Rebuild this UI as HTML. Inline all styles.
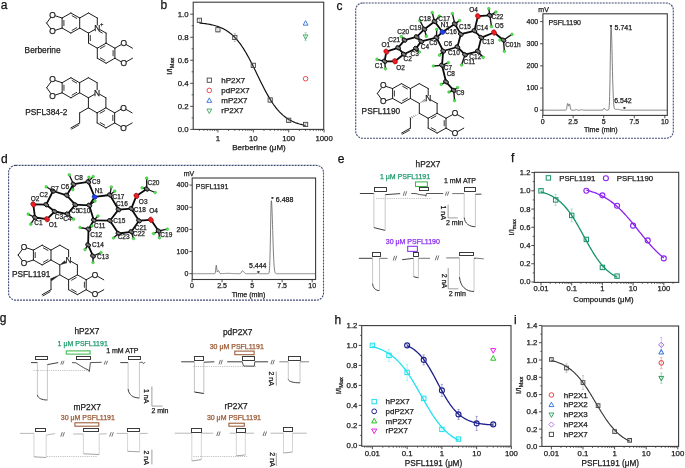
<!DOCTYPE html>
<html><head><meta charset="utf-8"><style>html,body{margin:0;padding:0;background:#fff;width:685px;height:468px;overflow:hidden}svg{display:block;will-change:transform;font-family:"Liberation Sans",sans-serif}text{font-family:"Liberation Sans",sans-serif}</style></head><body>
<svg width="685" height="468" viewBox="0 0 685 468" font-family="Liberation Sans, sans-serif">
<rect width="685" height="468" fill="#fff"/>
<text x="0.8" y="9.3" font-size="12" text-anchor="start" fill="#111" stroke="#111" stroke-width="0.25">a</text>
<text x="160.6" y="9" font-size="12" text-anchor="start" fill="#111" stroke="#111" stroke-width="0.25">b</text>
<text x="336.4" y="9.5" font-size="12" text-anchor="start" fill="#111" stroke="#111" stroke-width="0.25">c</text>
<text x="0.9" y="163.1" font-size="12" text-anchor="start" fill="#111" stroke="#111" stroke-width="0.25">d</text>
<text x="337.8" y="163.1" font-size="12" text-anchor="start" fill="#111" stroke="#111" stroke-width="0.25">e</text>
<text x="511.1" y="162.4" font-size="12" text-anchor="start" fill="#111" stroke="#111" stroke-width="0.25">f</text>
<text x="-0.3" y="322" font-size="12" text-anchor="start" fill="#111" stroke="#111" stroke-width="0.25">g</text>
<text x="334.4" y="323.7" font-size="12" text-anchor="start" fill="#111" stroke="#111" stroke-width="0.25">h</text>
<text x="514.1" y="323.7" font-size="12" text-anchor="start" fill="#111" stroke="#111" stroke-width="0.25">i</text>
<line x1="70.9" y1="13" x2="79.7" y2="18.02" stroke="#1e1e1e" stroke-width="1" stroke-linecap="round"/>
<line x1="79.7" y1="18.02" x2="79.7" y2="28.08" stroke="#1e1e1e" stroke-width="1" stroke-linecap="round"/>
<line x1="79.7" y1="28.08" x2="70.9" y2="33.1" stroke="#1e1e1e" stroke-width="1" stroke-linecap="round"/>
<line x1="70.9" y1="33.1" x2="62.1" y2="28.08" stroke="#1e1e1e" stroke-width="1" stroke-linecap="round"/>
<line x1="62.1" y1="28.08" x2="62.1" y2="18.02" stroke="#1e1e1e" stroke-width="1" stroke-linecap="round"/>
<line x1="62.1" y1="18.02" x2="70.9" y2="13" stroke="#1e1e1e" stroke-width="1" stroke-linecap="round"/>
<line x1="71.75" y1="15.56" x2="77.03" y2="18.57" stroke="#1e1e1e" stroke-width="0.9"/>
<line x1="77.03" y1="27.53" x2="71.75" y2="30.54" stroke="#1e1e1e" stroke-width="0.9"/>
<line x1="63.9" y1="26.07" x2="63.9" y2="20.04" stroke="#1e1e1e" stroke-width="0.9"/>
<line x1="62.1" y1="18.02" x2="55.42" y2="15.85" stroke="#1e1e1e" stroke-width="1" stroke-linecap="round"/>
<line x1="62.1" y1="28.08" x2="55.42" y2="30.25" stroke="#1e1e1e" stroke-width="1" stroke-linecap="round"/>
<line x1="50.76" y1="17.37" x2="46.63" y2="23.05" stroke="#1e1e1e" stroke-width="1" stroke-linecap="round"/>
<line x1="50.76" y1="28.73" x2="46.63" y2="23.05" stroke="#1e1e1e" stroke-width="1" stroke-linecap="round"/>
<text x="52.54" y="17.65" font-size="8.4" text-anchor="middle" fill="#1e1e1e" stroke="#1e1e1e" stroke-width="0.25">O</text>
<text x="52.54" y="33.91" font-size="8.4" text-anchor="middle" fill="#1e1e1e" stroke="#1e1e1e" stroke-width="0.25">O</text>
<line x1="79.7" y1="18.02" x2="88.5" y2="13" stroke="#1e1e1e" stroke-width="1" stroke-linecap="round"/>
<line x1="88.5" y1="13" x2="97.3" y2="18.02" stroke="#1e1e1e" stroke-width="1" stroke-linecap="round"/>
<line x1="97.3" y1="18.02" x2="97.3" y2="25.05" stroke="#1e1e1e" stroke-width="1" stroke-linecap="round"/>
<line x1="94.67" y1="29.57" x2="88.5" y2="33.1" stroke="#1e1e1e" stroke-width="1" stroke-linecap="round"/>
<line x1="88.5" y1="33.1" x2="79.7" y2="28.08" stroke="#1e1e1e" stroke-width="1" stroke-linecap="round"/>
<line x1="99.93" y1="29.57" x2="106.1" y2="33.1" stroke="#1e1e1e" stroke-width="1" stroke-linecap="round"/>
<line x1="106.1" y1="33.1" x2="106.1" y2="43.15" stroke="#1e1e1e" stroke-width="1" stroke-linecap="round"/>
<line x1="88.5" y1="43.15" x2="97.3" y2="48.17" stroke="#1e1e1e" stroke-width="1" stroke-linecap="round"/>
<line x1="88.5" y1="33.1" x2="88.5" y2="43.15" stroke="#1e1e1e" stroke-width="1" stroke-linecap="round"/>
<line x1="99.03" y1="31.14" x2="102.55" y2="33.15" stroke="#1e1e1e" stroke-width="0.9"/>
<line x1="90.3" y1="35.11" x2="90.3" y2="41.14" stroke="#1e1e1e" stroke-width="0.9"/>
<text x="97.3" y="30.81" font-size="8.4" text-anchor="middle" fill="#1e1e1e" stroke="#1e1e1e" stroke-width="0.25">N</text>
<text x="99.9" y="26.48" font-size="5.88" text-anchor="start" fill="#1e1e1e" stroke="#1e1e1e" stroke-width="0.25">+</text>
<line x1="106.1" y1="43.15" x2="114.9" y2="48.18" stroke="#1e1e1e" stroke-width="1" stroke-linecap="round"/>
<line x1="114.9" y1="48.18" x2="114.9" y2="58.23" stroke="#1e1e1e" stroke-width="1" stroke-linecap="round"/>
<line x1="114.9" y1="58.23" x2="106.1" y2="63.25" stroke="#1e1e1e" stroke-width="1" stroke-linecap="round"/>
<line x1="106.1" y1="63.25" x2="97.3" y2="58.23" stroke="#1e1e1e" stroke-width="1" stroke-linecap="round"/>
<line x1="97.3" y1="58.23" x2="97.3" y2="48.18" stroke="#1e1e1e" stroke-width="1" stroke-linecap="round"/>
<line x1="97.3" y1="48.18" x2="106.1" y2="43.15" stroke="#1e1e1e" stroke-width="1" stroke-linecap="round"/>
<line x1="99.97" y1="48.72" x2="105.25" y2="45.71" stroke="#1e1e1e" stroke-width="0.9"/>
<line x1="113.1" y1="50.19" x2="113.1" y2="56.22" stroke="#1e1e1e" stroke-width="0.9"/>
<line x1="105.25" y1="60.69" x2="99.97" y2="57.68" stroke="#1e1e1e" stroke-width="0.9"/>
<line x1="114.9" y1="48.18" x2="121.07" y2="44.65" stroke="#1e1e1e" stroke-width="1" stroke-linecap="round"/>
<line x1="114.9" y1="58.23" x2="121.07" y2="61.75" stroke="#1e1e1e" stroke-width="1" stroke-linecap="round"/>
<line x1="126.33" y1="44.65" x2="132.5" y2="48.18" stroke="#1e1e1e" stroke-width="1" stroke-linecap="round"/>
<line x1="126.33" y1="61.75" x2="132.5" y2="58.23" stroke="#1e1e1e" stroke-width="1" stroke-linecap="round"/>
<text x="123.7" y="45.88" font-size="8.4" text-anchor="middle" fill="#1e1e1e" stroke="#1e1e1e" stroke-width="0.25">O</text>
<text x="123.7" y="65.98" font-size="8.4" text-anchor="middle" fill="#1e1e1e" stroke="#1e1e1e" stroke-width="0.25">O</text>
<text x="24.6" y="53" font-size="8.3" text-anchor="start" fill="#1a1a1a" stroke="#1a1a1a" stroke-width="0.25">Berberine</text>
<line x1="70.9" y1="77.7" x2="79.65" y2="82.72" stroke="#1e1e1e" stroke-width="1" stroke-linecap="round"/>
<line x1="79.65" y1="82.72" x2="79.65" y2="92.78" stroke="#1e1e1e" stroke-width="1" stroke-linecap="round"/>
<line x1="79.65" y1="92.78" x2="70.9" y2="97.8" stroke="#1e1e1e" stroke-width="1" stroke-linecap="round"/>
<line x1="70.9" y1="97.8" x2="62.15" y2="92.78" stroke="#1e1e1e" stroke-width="1" stroke-linecap="round"/>
<line x1="62.15" y1="92.78" x2="62.15" y2="82.72" stroke="#1e1e1e" stroke-width="1" stroke-linecap="round"/>
<line x1="62.15" y1="82.72" x2="70.9" y2="77.7" stroke="#1e1e1e" stroke-width="1" stroke-linecap="round"/>
<line x1="71.75" y1="80.26" x2="77" y2="83.28" stroke="#1e1e1e" stroke-width="0.9"/>
<line x1="77" y1="92.22" x2="71.75" y2="95.24" stroke="#1e1e1e" stroke-width="0.9"/>
<line x1="63.95" y1="90.77" x2="63.95" y2="84.73" stroke="#1e1e1e" stroke-width="0.9"/>
<line x1="62.15" y1="82.72" x2="55.47" y2="80.55" stroke="#1e1e1e" stroke-width="1" stroke-linecap="round"/>
<line x1="62.15" y1="92.78" x2="55.47" y2="94.95" stroke="#1e1e1e" stroke-width="1" stroke-linecap="round"/>
<line x1="50.81" y1="82.07" x2="46.68" y2="87.75" stroke="#1e1e1e" stroke-width="1" stroke-linecap="round"/>
<line x1="50.81" y1="93.43" x2="46.68" y2="87.75" stroke="#1e1e1e" stroke-width="1" stroke-linecap="round"/>
<text x="52.59" y="82.35" font-size="8.4" text-anchor="middle" fill="#1e1e1e" stroke="#1e1e1e" stroke-width="0.25">O</text>
<text x="52.59" y="98.61" font-size="8.4" text-anchor="middle" fill="#1e1e1e" stroke="#1e1e1e" stroke-width="0.25">O</text>
<line x1="79.65" y1="82.72" x2="88.4" y2="77.7" stroke="#1e1e1e" stroke-width="1" stroke-linecap="round"/>
<line x1="88.4" y1="77.7" x2="97.15" y2="82.72" stroke="#1e1e1e" stroke-width="1" stroke-linecap="round"/>
<line x1="97.15" y1="82.72" x2="97.15" y2="89.75" stroke="#1e1e1e" stroke-width="1" stroke-linecap="round"/>
<line x1="94.53" y1="94.28" x2="88.4" y2="97.8" stroke="#1e1e1e" stroke-width="1" stroke-linecap="round"/>
<line x1="88.4" y1="97.8" x2="79.65" y2="92.78" stroke="#1e1e1e" stroke-width="1" stroke-linecap="round"/>
<line x1="99.77" y1="94.28" x2="105.9" y2="97.8" stroke="#1e1e1e" stroke-width="1" stroke-linecap="round"/>
<line x1="105.9" y1="97.8" x2="105.9" y2="107.85" stroke="#1e1e1e" stroke-width="1" stroke-linecap="round"/>
<line x1="88.4" y1="107.85" x2="97.15" y2="112.88" stroke="#1e1e1e" stroke-width="1" stroke-linecap="round"/>
<text x="97.15" y="95.51" font-size="8.4" text-anchor="middle" fill="#1e1e1e" stroke="#1e1e1e" stroke-width="0.25">N</text>
<line x1="88.4" y1="97.8" x2="88.4" y2="107.85" stroke="#1e1e1e" stroke-width="1" stroke-linecap="round"/>
<line x1="105.9" y1="107.85" x2="114.65" y2="112.88" stroke="#1e1e1e" stroke-width="1" stroke-linecap="round"/>
<line x1="114.65" y1="112.88" x2="114.65" y2="122.93" stroke="#1e1e1e" stroke-width="1" stroke-linecap="round"/>
<line x1="114.65" y1="122.93" x2="105.9" y2="127.95" stroke="#1e1e1e" stroke-width="1" stroke-linecap="round"/>
<line x1="105.9" y1="127.95" x2="97.15" y2="122.93" stroke="#1e1e1e" stroke-width="1" stroke-linecap="round"/>
<line x1="97.15" y1="122.93" x2="97.15" y2="112.88" stroke="#1e1e1e" stroke-width="1" stroke-linecap="round"/>
<line x1="97.15" y1="112.88" x2="105.9" y2="107.85" stroke="#1e1e1e" stroke-width="1" stroke-linecap="round"/>
<line x1="99.8" y1="113.43" x2="105.05" y2="110.41" stroke="#1e1e1e" stroke-width="0.9"/>
<line x1="112.85" y1="114.89" x2="112.85" y2="120.92" stroke="#1e1e1e" stroke-width="0.9"/>
<line x1="105.05" y1="125.39" x2="99.8" y2="122.37" stroke="#1e1e1e" stroke-width="0.9"/>
<line x1="114.65" y1="112.88" x2="120.78" y2="109.36" stroke="#1e1e1e" stroke-width="1" stroke-linecap="round"/>
<line x1="114.65" y1="122.93" x2="120.78" y2="126.44" stroke="#1e1e1e" stroke-width="1" stroke-linecap="round"/>
<line x1="126.02" y1="109.36" x2="132.15" y2="112.88" stroke="#1e1e1e" stroke-width="1" stroke-linecap="round"/>
<line x1="126.02" y1="126.44" x2="132.15" y2="122.93" stroke="#1e1e1e" stroke-width="1" stroke-linecap="round"/>
<text x="123.4" y="110.58" font-size="8.4" text-anchor="middle" fill="#1e1e1e" stroke="#1e1e1e" stroke-width="0.25">O</text>
<text x="123.4" y="130.68" font-size="8.4" text-anchor="middle" fill="#1e1e1e" stroke="#1e1e1e" stroke-width="0.25">O</text>
<line x1="88.4" y1="107.85" x2="79.65" y2="112.88" stroke="#1e1e1e" stroke-width="1" stroke-linecap="round"/>
<line x1="79.65" y1="112.88" x2="79.65" y2="122.93" stroke="#1e1e1e" stroke-width="1" stroke-linecap="round"/>
<line x1="79.65" y1="122.93" x2="70.9" y2="127.95" stroke="#1e1e1e" stroke-width="1" stroke-linecap="round"/>
<line x1="79.16" y1="124.78" x2="71.28" y2="129.3" stroke="#1e1e1e" stroke-width="0.9"/>
<text x="25.3" y="114.7" font-size="8.3" text-anchor="start" fill="#1a1a1a" stroke="#1a1a1a" stroke-width="0.25">PSFL384-2</text>
<rect x="193.2" y="2.2" width="130.5" height="127.2" rx="0" stroke="#3a3a3a" stroke-width="1.1" fill="none"/>
<line x1="190.2" y1="129.4" x2="193.2" y2="129.4" stroke="#3a3a3a" stroke-width="0.9"/>
<line x1="190.2" y1="106.36" x2="193.2" y2="106.36" stroke="#3a3a3a" stroke-width="0.9"/>
<line x1="190.2" y1="83.32" x2="193.2" y2="83.32" stroke="#3a3a3a" stroke-width="0.9"/>
<line x1="190.2" y1="60.28" x2="193.2" y2="60.28" stroke="#3a3a3a" stroke-width="0.9"/>
<line x1="190.2" y1="37.24" x2="193.2" y2="37.24" stroke="#3a3a3a" stroke-width="0.9"/>
<line x1="190.2" y1="14.2" x2="193.2" y2="14.2" stroke="#3a3a3a" stroke-width="0.9"/>
<line x1="191.6" y1="117.88" x2="193.2" y2="117.88" stroke="#3a3a3a" stroke-width="0.8"/>
<line x1="191.6" y1="94.84" x2="193.2" y2="94.84" stroke="#3a3a3a" stroke-width="0.8"/>
<line x1="191.6" y1="71.8" x2="193.2" y2="71.8" stroke="#3a3a3a" stroke-width="0.8"/>
<line x1="191.6" y1="48.76" x2="193.2" y2="48.76" stroke="#3a3a3a" stroke-width="0.8"/>
<line x1="191.6" y1="25.72" x2="193.2" y2="25.72" stroke="#3a3a3a" stroke-width="0.8"/>
<line x1="199.39" y1="129.4" x2="199.39" y2="131" stroke="#3a3a3a" stroke-width="0.7"/>
<line x1="203.81" y1="129.4" x2="203.81" y2="131" stroke="#3a3a3a" stroke-width="0.7"/>
<line x1="207.24" y1="129.4" x2="207.24" y2="131" stroke="#3a3a3a" stroke-width="0.7"/>
<line x1="210.05" y1="129.4" x2="210.05" y2="131" stroke="#3a3a3a" stroke-width="0.7"/>
<line x1="212.42" y1="129.4" x2="212.42" y2="131" stroke="#3a3a3a" stroke-width="0.7"/>
<line x1="214.47" y1="129.4" x2="214.47" y2="131" stroke="#3a3a3a" stroke-width="0.7"/>
<line x1="216.28" y1="129.4" x2="216.28" y2="131" stroke="#3a3a3a" stroke-width="0.7"/>
<line x1="217.9" y1="129.4" x2="217.9" y2="132.4" stroke="#3a3a3a" stroke-width="0.9"/>
<line x1="228.56" y1="129.4" x2="228.56" y2="131" stroke="#3a3a3a" stroke-width="0.7"/>
<line x1="234.79" y1="129.4" x2="234.79" y2="131" stroke="#3a3a3a" stroke-width="0.7"/>
<line x1="239.21" y1="129.4" x2="239.21" y2="131" stroke="#3a3a3a" stroke-width="0.7"/>
<line x1="242.64" y1="129.4" x2="242.64" y2="131" stroke="#3a3a3a" stroke-width="0.7"/>
<line x1="245.45" y1="129.4" x2="245.45" y2="131" stroke="#3a3a3a" stroke-width="0.7"/>
<line x1="247.82" y1="129.4" x2="247.82" y2="131" stroke="#3a3a3a" stroke-width="0.7"/>
<line x1="249.87" y1="129.4" x2="249.87" y2="131" stroke="#3a3a3a" stroke-width="0.7"/>
<line x1="251.68" y1="129.4" x2="251.68" y2="131" stroke="#3a3a3a" stroke-width="0.7"/>
<line x1="253.3" y1="129.4" x2="253.3" y2="132.4" stroke="#3a3a3a" stroke-width="0.9"/>
<line x1="263.96" y1="129.4" x2="263.96" y2="131" stroke="#3a3a3a" stroke-width="0.7"/>
<line x1="270.19" y1="129.4" x2="270.19" y2="131" stroke="#3a3a3a" stroke-width="0.7"/>
<line x1="274.61" y1="129.4" x2="274.61" y2="131" stroke="#3a3a3a" stroke-width="0.7"/>
<line x1="278.04" y1="129.4" x2="278.04" y2="131" stroke="#3a3a3a" stroke-width="0.7"/>
<line x1="280.85" y1="129.4" x2="280.85" y2="131" stroke="#3a3a3a" stroke-width="0.7"/>
<line x1="283.22" y1="129.4" x2="283.22" y2="131" stroke="#3a3a3a" stroke-width="0.7"/>
<line x1="285.27" y1="129.4" x2="285.27" y2="131" stroke="#3a3a3a" stroke-width="0.7"/>
<line x1="287.08" y1="129.4" x2="287.08" y2="131" stroke="#3a3a3a" stroke-width="0.7"/>
<line x1="288.7" y1="129.4" x2="288.7" y2="132.4" stroke="#3a3a3a" stroke-width="0.9"/>
<line x1="299.36" y1="129.4" x2="299.36" y2="131" stroke="#3a3a3a" stroke-width="0.7"/>
<line x1="305.59" y1="129.4" x2="305.59" y2="131" stroke="#3a3a3a" stroke-width="0.7"/>
<line x1="310.01" y1="129.4" x2="310.01" y2="131" stroke="#3a3a3a" stroke-width="0.7"/>
<line x1="313.44" y1="129.4" x2="313.44" y2="131" stroke="#3a3a3a" stroke-width="0.7"/>
<line x1="316.25" y1="129.4" x2="316.25" y2="131" stroke="#3a3a3a" stroke-width="0.7"/>
<line x1="318.62" y1="129.4" x2="318.62" y2="131" stroke="#3a3a3a" stroke-width="0.7"/>
<line x1="320.67" y1="129.4" x2="320.67" y2="131" stroke="#3a3a3a" stroke-width="0.7"/>
<line x1="322.48" y1="129.4" x2="322.48" y2="131" stroke="#3a3a3a" stroke-width="0.7"/>
<line x1="324.1" y1="129.4" x2="324.1" y2="132.4" stroke="#3a3a3a" stroke-width="0.9"/>
<text x="188.6" y="131.94" font-size="7.8" text-anchor="end" fill="#1a1a1a" stroke="#1a1a1a" stroke-width="0.25">0.0</text>
<text x="188.6" y="108.89" font-size="7.8" text-anchor="end" fill="#1a1a1a" stroke="#1a1a1a" stroke-width="0.25">0.2</text>
<text x="188.6" y="85.85" font-size="7.8" text-anchor="end" fill="#1a1a1a" stroke="#1a1a1a" stroke-width="0.25">0.4</text>
<text x="188.6" y="62.81" font-size="7.8" text-anchor="end" fill="#1a1a1a" stroke="#1a1a1a" stroke-width="0.25">0.6</text>
<text x="188.6" y="39.77" font-size="7.8" text-anchor="end" fill="#1a1a1a" stroke="#1a1a1a" stroke-width="0.25">0.8</text>
<text x="188.6" y="16.74" font-size="7.8" text-anchor="end" fill="#1a1a1a" stroke="#1a1a1a" stroke-width="0.25">1.0</text>
<text x="217.9" y="140.73" font-size="7.8" text-anchor="middle" fill="#1a1a1a" stroke="#1a1a1a" stroke-width="0.25">1</text>
<text x="253.3" y="140.73" font-size="7.8" text-anchor="middle" fill="#1a1a1a" stroke="#1a1a1a" stroke-width="0.25">10</text>
<text x="288.7" y="140.73" font-size="7.8" text-anchor="middle" fill="#1a1a1a" stroke="#1a1a1a" stroke-width="0.25">100</text>
<text x="324.1" y="140.73" font-size="7.8" text-anchor="middle" fill="#1a1a1a" stroke="#1a1a1a" stroke-width="0.25">1000</text>
<text x="259" y="150.4" font-size="8" text-anchor="middle" fill="#1a1a1a" stroke="#1a1a1a" stroke-width="0.25">Berberine (μM)</text>
<text transform="translate(172.3 74.83) rotate(-90)" font-size="8" fill="#1a1a1a" stroke="#1a1a1a" stroke-width="0.25">I/I<tspan font-size="5.6" dy="2">Max</tspan></text>
<path d="M199.39 23.02 L200.28 23.1 L201.16 23.18 L202.05 23.28 L202.93 23.37 L203.82 23.48 L204.7 23.59 L205.59 23.71 L206.47 23.84 L207.36 23.98 L208.24 24.12 L209.13 24.28 L210.01 24.45 L210.9 24.62 L211.78 24.81 L212.67 25.02 L213.55 25.23 L214.44 25.47 L215.32 25.71 L216.21 25.98 L217.09 26.26 L217.98 26.56 L218.86 26.87 L219.75 27.21 L220.63 27.57 L221.52 27.96 L222.4 28.37 L223.29 28.8 L224.17 29.26 L225.06 29.75 L225.94 30.27 L226.83 30.82 L227.71 31.4 L228.6 32.01 L229.48 32.67 L230.37 33.35 L231.25 34.08 L232.14 34.85 L233.02 35.65 L233.91 36.5 L234.79 37.4 L235.68 38.33 L236.56 39.32 L237.45 40.35 L238.33 41.43 L239.22 42.55 L240.1 43.73 L240.99 44.95 L241.87 46.22 L242.76 47.54 L243.64 48.91 L244.53 50.33 L245.41 51.79 L246.3 53.29 L247.18 54.84 L248.07 56.43 L248.95 58.06 L249.84 59.72 L250.72 61.42 L251.61 63.15 L252.49 64.9 L253.38 66.68 L254.26 68.48 L255.15 70.29 L256.03 72.11 L256.92 73.94 L257.8 75.77 L258.69 77.6 L259.57 79.42 L260.46 81.23 L261.34 83.03 L262.23 84.81 L263.11 86.56 L264 88.29 L264.88 89.98 L265.77 91.65 L266.65 93.28 L267.54 94.87 L268.42 96.41 L269.31 97.92 L270.19 99.38 L271.08 100.79 L271.96 102.16 L272.85 103.48 L273.73 104.75 L274.62 105.97 L275.5 107.15 L276.39 108.27 L277.27 109.35 L278.16 110.38 L279.04 111.36 L279.93 112.3 L280.81 113.19 L281.7 114.04 L282.58 114.85 L283.47 115.62 L284.35 116.34 L285.24 117.03 L286.12 117.68 L287.01 118.3 L287.89 118.88 L288.78 119.43 L289.66 119.94 L290.55 120.43 L291.43 120.89 L292.32 121.33 L293.2 121.73 L294.09 122.12 L294.97 122.48 L295.86 122.82 L296.74 123.13 L297.63 123.43 L298.51 123.71 L299.4 123.98 L300.28 124.22 L301.17 124.45 L302.05 124.67 L302.94 124.87 L303.82 125.07 L304.71 125.24 L305.59 125.41" stroke="#111" stroke-width="1.2" fill="none"/>
<line x1="199.39" y1="19.15" x2="199.39" y2="21.46" stroke="#777" stroke-width="0.6" stroke-opacity="0.6"/>
<line x1="198.19" y1="19.15" x2="200.59" y2="19.15" stroke="#777" stroke-width="0.6" stroke-opacity="0.6"/>
<line x1="198.19" y1="21.46" x2="200.59" y2="21.46" stroke="#777" stroke-width="0.6" stroke-opacity="0.6"/>
<rect x="197.29" y="18.21" width="4.2" height="4.2" rx="0" stroke="#444" stroke-width="0.9" fill="none"/>
<line x1="217.9" y1="27.45" x2="217.9" y2="32.06" stroke="#777" stroke-width="0.6" stroke-opacity="0.6"/>
<line x1="216.7" y1="27.45" x2="219.1" y2="27.45" stroke="#777" stroke-width="0.6" stroke-opacity="0.6"/>
<line x1="216.7" y1="32.06" x2="219.1" y2="32.06" stroke="#777" stroke-width="0.6" stroke-opacity="0.6"/>
<rect x="215.8" y="27.65" width="4.2" height="4.2" rx="0" stroke="#444" stroke-width="0.9" fill="none"/>
<line x1="234.79" y1="33.44" x2="234.79" y2="41.5" stroke="#777" stroke-width="0.6" stroke-opacity="0.6"/>
<line x1="233.59" y1="33.44" x2="235.99" y2="33.44" stroke="#777" stroke-width="0.6" stroke-opacity="0.6"/>
<line x1="233.59" y1="41.5" x2="235.99" y2="41.5" stroke="#777" stroke-width="0.6" stroke-opacity="0.6"/>
<rect x="232.69" y="35.37" width="4.2" height="4.2" rx="0" stroke="#444" stroke-width="0.9" fill="none"/>
<line x1="253.3" y1="63.62" x2="253.3" y2="67.08" stroke="#777" stroke-width="0.6" stroke-opacity="0.6"/>
<line x1="252.1" y1="63.62" x2="254.5" y2="63.62" stroke="#777" stroke-width="0.6" stroke-opacity="0.6"/>
<line x1="252.1" y1="67.08" x2="254.5" y2="67.08" stroke="#777" stroke-width="0.6" stroke-opacity="0.6"/>
<rect x="251.2" y="63.25" width="4.2" height="4.2" rx="0" stroke="#444" stroke-width="0.9" fill="none"/>
<line x1="270.19" y1="97.72" x2="270.19" y2="102.33" stroke="#777" stroke-width="0.6" stroke-opacity="0.6"/>
<line x1="268.99" y1="97.72" x2="271.39" y2="97.72" stroke="#777" stroke-width="0.6" stroke-opacity="0.6"/>
<line x1="268.99" y1="102.33" x2="271.39" y2="102.33" stroke="#777" stroke-width="0.6" stroke-opacity="0.6"/>
<rect x="268.09" y="97.92" width="4.2" height="4.2" rx="0" stroke="#444" stroke-width="0.9" fill="none"/>
<line x1="288.7" y1="119.15" x2="288.7" y2="121.45" stroke="#777" stroke-width="0.6" stroke-opacity="0.6"/>
<line x1="287.5" y1="119.15" x2="289.9" y2="119.15" stroke="#777" stroke-width="0.6" stroke-opacity="0.6"/>
<line x1="287.5" y1="121.45" x2="289.9" y2="121.45" stroke="#777" stroke-width="0.6" stroke-opacity="0.6"/>
<rect x="286.6" y="118.2" width="4.2" height="4.2" rx="0" stroke="#444" stroke-width="0.9" fill="none"/>
<line x1="305.59" y1="123.29" x2="305.59" y2="125.6" stroke="#777" stroke-width="0.6" stroke-opacity="0.6"/>
<line x1="304.39" y1="123.29" x2="306.79" y2="123.29" stroke="#777" stroke-width="0.6" stroke-opacity="0.6"/>
<line x1="304.39" y1="125.6" x2="306.79" y2="125.6" stroke="#777" stroke-width="0.6" stroke-opacity="0.6"/>
<rect x="303.49" y="122.35" width="4.2" height="4.2" rx="0" stroke="#444" stroke-width="0.9" fill="none"/>
<circle cx="305.59" cy="78.71" r="2.3" stroke="#e8363a" stroke-width="0.9" fill="none"/>
<path d="M305.59 20.71 L308.02 25.15 L303.16 25.15 Z" stroke="#2f6fe0" stroke-width="0.9" fill="none"/>
<line x1="305.59" y1="32.63" x2="305.59" y2="40.7" stroke="#3aa860" stroke-width="0.6" stroke-opacity="0.6"/>
<line x1="304.39" y1="32.63" x2="306.79" y2="32.63" stroke="#3aa860" stroke-width="0.6" stroke-opacity="0.6"/>
<line x1="304.39" y1="40.7" x2="306.79" y2="40.7" stroke="#3aa860" stroke-width="0.6" stroke-opacity="0.6"/>
<path d="M305.59 39.37 L308.02 34.93 L303.16 34.93 Z" stroke="#3aa860" stroke-width="0.9" fill="none"/>
<rect x="207.2" y="78.1" width="4.2" height="4.2" rx="0" stroke="#444" stroke-width="0.9" fill="none"/>
<text x="221.3" y="82.8" font-size="8" text-anchor="start" fill="#1a1a1a" stroke="#1a1a1a" stroke-width="0.25">hP2X7</text>
<circle cx="209.3" cy="90.4" r="2.3" stroke="#e8363a" stroke-width="0.9" fill="none"/>
<text x="221.3" y="93" font-size="8" text-anchor="start" fill="#1a1a1a" stroke="#1a1a1a" stroke-width="0.25">pdP2X7</text>
<path d="M209.3 97.89 L211.73 102.33 L206.87 102.33 Z" stroke="#2f6fe0" stroke-width="0.9" fill="none"/>
<text x="221.3" y="103.2" font-size="8" text-anchor="start" fill="#1a1a1a" stroke="#1a1a1a" stroke-width="0.25">mP2X7</text>
<path d="M209.3 113.51 L211.73 109.07 L206.87 109.07 Z" stroke="#3aa860" stroke-width="0.9" fill="none"/>
<text x="221.3" y="113.4" font-size="8" text-anchor="start" fill="#1a1a1a" stroke="#1a1a1a" stroke-width="0.25">rP2X7</text>
<rect x="355.7" y="3" width="317.6" height="135.2" rx="7" stroke="#3e4a74" stroke-width="1.1" fill="none" stroke-dasharray="2 1"/>
<line x1="384.6" y1="61.3" x2="377" y2="59.3" stroke="#141414" stroke-width="1.35"/>
<line x1="384.6" y1="61.3" x2="385.5" y2="68.8" stroke="#141414" stroke-width="1.35"/>
<line x1="404.5" y1="40.1" x2="401.3" y2="36.6" stroke="#141414" stroke-width="1.35"/>
<line x1="424.4" y1="29.2" x2="419.9" y2="20.6" stroke="#141414" stroke-width="1.35"/>
<line x1="424.4" y1="29.2" x2="426.3" y2="36.3" stroke="#141414" stroke-width="1.35"/>
<line x1="434.6" y1="21.5" x2="432.2" y2="12.6" stroke="#141414" stroke-width="1.35"/>
<line x1="434.6" y1="21.5" x2="439.3" y2="16.2" stroke="#141414" stroke-width="1.35"/>
<line x1="436.5" y1="37.6" x2="436.7" y2="29.4" stroke="#141414" stroke-width="1.35"/>
<line x1="416" y1="48.5" x2="419.4" y2="52" stroke="#141414" stroke-width="1.35"/>
<line x1="443.2" y1="51" x2="439.6" y2="55.2" stroke="#141414" stroke-width="1.35"/>
<line x1="442" y1="65.3" x2="433.4" y2="66" stroke="#141414" stroke-width="1.35"/>
<line x1="442" y1="65.3" x2="448.3" y2="62.6" stroke="#141414" stroke-width="1.35"/>
<line x1="454.8" y1="23.9" x2="452.4" y2="13.6" stroke="#141414" stroke-width="1.35"/>
<line x1="454.8" y1="23.9" x2="459.6" y2="20.6" stroke="#141414" stroke-width="1.35"/>
<line x1="489.8" y1="15.4" x2="488.8" y2="8.6" stroke="#141414" stroke-width="1.35"/>
<line x1="489.8" y1="15.4" x2="495.9" y2="12" stroke="#141414" stroke-width="1.35"/>
<line x1="489.8" y1="15.4" x2="491.5" y2="26.6" stroke="#141414" stroke-width="1.35"/>
<line x1="503.5" y1="40.2" x2="512" y2="34.3" stroke="#141414" stroke-width="1.35"/>
<line x1="503.5" y1="40.2" x2="499.9" y2="40" stroke="#141414" stroke-width="1.35"/>
<line x1="503.5" y1="40.2" x2="504.4" y2="51.3" stroke="#141414" stroke-width="1.35"/>
<line x1="477.9" y1="51.3" x2="483.2" y2="57.3" stroke="#141414" stroke-width="1.35"/>
<line x1="465" y1="54.7" x2="461.6" y2="65" stroke="#141414" stroke-width="1.35"/>
<line x1="446" y1="81.8" x2="441.3" y2="84.3" stroke="#141414" stroke-width="1.35"/>
<line x1="453.7" y1="90.4" x2="457.6" y2="87.5" stroke="#141414" stroke-width="1.35"/>
<line x1="453.7" y1="90.4" x2="454.6" y2="100.6" stroke="#141414" stroke-width="1.35"/>
<line x1="453.7" y1="90.4" x2="449" y2="92" stroke="#141414" stroke-width="1.35"/>
<line x1="384.6" y1="61.3" x2="386.3" y2="51.7" stroke="#0a0a0a" stroke-width="1.8" stroke-linecap="round"/>
<line x1="384.6" y1="61.3" x2="394.9" y2="61.3" stroke="#0a0a0a" stroke-width="1.8" stroke-linecap="round"/>
<line x1="386.3" y1="51.7" x2="398.1" y2="47.8" stroke="#0a0a0a" stroke-width="1.8" stroke-linecap="round"/>
<line x1="394.9" y1="61.3" x2="403.8" y2="54.2" stroke="#0a0a0a" stroke-width="1.8" stroke-linecap="round"/>
<line x1="398.1" y1="47.8" x2="404.5" y2="40.1" stroke="#0a0a0a" stroke-width="1.8" stroke-linecap="round"/>
<line x1="404.5" y1="40.1" x2="416.7" y2="36.9" stroke="#0a0a0a" stroke-width="1.8" stroke-linecap="round"/>
<line x1="416.7" y1="36.9" x2="421.2" y2="41.4" stroke="#0a0a0a" stroke-width="1.8" stroke-linecap="round"/>
<line x1="421.2" y1="41.4" x2="416" y2="48.5" stroke="#0a0a0a" stroke-width="1.8" stroke-linecap="round"/>
<line x1="416" y1="48.5" x2="403.8" y2="54.2" stroke="#0a0a0a" stroke-width="1.8" stroke-linecap="round"/>
<line x1="403.8" y1="54.2" x2="398.1" y2="47.8" stroke="#0a0a0a" stroke-width="1.8" stroke-linecap="round"/>
<line x1="416.7" y1="36.9" x2="424.4" y2="29.2" stroke="#0a0a0a" stroke-width="1.8" stroke-linecap="round"/>
<line x1="424.4" y1="29.2" x2="434.6" y2="21.5" stroke="#0a0a0a" stroke-width="1.8" stroke-linecap="round"/>
<line x1="434.6" y1="21.5" x2="442.5" y2="32" stroke="#0a0a0a" stroke-width="1.8" stroke-linecap="round"/>
<line x1="442.5" y1="32" x2="436.5" y2="37.6" stroke="#0a0a0a" stroke-width="1.8" stroke-linecap="round"/>
<line x1="436.5" y1="37.6" x2="421.2" y2="41.4" stroke="#0a0a0a" stroke-width="1.8" stroke-linecap="round"/>
<line x1="442.5" y1="32" x2="454.8" y2="23.9" stroke="#0a0a0a" stroke-width="1.8" stroke-linecap="round"/>
<line x1="454.8" y1="23.9" x2="460.8" y2="34.2" stroke="#0a0a0a" stroke-width="1.8" stroke-linecap="round"/>
<line x1="460.8" y1="34.2" x2="474.4" y2="30.8" stroke="#0a0a0a" stroke-width="1.8" stroke-linecap="round"/>
<line x1="474.4" y1="30.8" x2="481.3" y2="37.6" stroke="#0a0a0a" stroke-width="1.8" stroke-linecap="round"/>
<line x1="481.3" y1="37.6" x2="477.9" y2="51.3" stroke="#0a0a0a" stroke-width="1.8" stroke-linecap="round"/>
<line x1="477.9" y1="51.3" x2="465" y2="54.7" stroke="#0a0a0a" stroke-width="1.8" stroke-linecap="round"/>
<line x1="465" y1="54.7" x2="457.4" y2="47" stroke="#0a0a0a" stroke-width="1.8" stroke-linecap="round"/>
<line x1="457.4" y1="47" x2="460.8" y2="34.2" stroke="#0a0a0a" stroke-width="1.8" stroke-linecap="round"/>
<line x1="457.4" y1="47" x2="443.2" y2="51" stroke="#0a0a0a" stroke-width="1.8" stroke-linecap="round"/>
<line x1="443.2" y1="51" x2="436.5" y2="37.6" stroke="#0a0a0a" stroke-width="1.8" stroke-linecap="round"/>
<line x1="443.2" y1="51" x2="442" y2="65.3" stroke="#0a0a0a" stroke-width="1.8" stroke-linecap="round"/>
<line x1="442" y1="65.3" x2="446" y2="81.8" stroke="#0a0a0a" stroke-width="1.8" stroke-linecap="round"/>
<line x1="446" y1="81.8" x2="453.7" y2="90.4" stroke="#0a0a0a" stroke-width="1.8" stroke-linecap="round"/>
<line x1="474.4" y1="30.8" x2="477.9" y2="16.2" stroke="#0a0a0a" stroke-width="1.8" stroke-linecap="round"/>
<line x1="477.9" y1="16.2" x2="489.8" y2="15.4" stroke="#0a0a0a" stroke-width="1.8" stroke-linecap="round"/>
<line x1="481.3" y1="37.6" x2="494.1" y2="32.5" stroke="#0a0a0a" stroke-width="1.8" stroke-linecap="round"/>
<line x1="494.1" y1="32.5" x2="503.5" y2="40.2" stroke="#0a0a0a" stroke-width="1.8" stroke-linecap="round"/>
<ellipse cx="384.6" cy="61.3" rx="2.6" ry="1.95" transform="rotate(35 384.6 61.3)" stroke="#000" stroke-width="0.8" fill="#555"/>
<line x1="383" y1="60.5" x2="386.2" y2="62.1" stroke="#ddd" stroke-width="0.4"/>
<ellipse cx="386.3" cy="51.7" rx="2.8" ry="2.3" transform="rotate(60 386.3 51.7)" stroke="#7a0000" stroke-width="0.5" fill="#ee1c24"/>
<ellipse cx="394.9" cy="61.3" rx="2.8" ry="2.3" transform="rotate(60 394.9 61.3)" stroke="#7a0000" stroke-width="0.5" fill="#ee1c24"/>
<ellipse cx="398.1" cy="47.8" rx="2.6" ry="1.95" transform="rotate(35 398.1 47.8)" stroke="#000" stroke-width="0.8" fill="#555"/>
<line x1="396.5" y1="47" x2="399.7" y2="48.6" stroke="#ddd" stroke-width="0.4"/>
<ellipse cx="403.8" cy="54.2" rx="2.6" ry="1.95" transform="rotate(35 403.8 54.2)" stroke="#000" stroke-width="0.8" fill="#555"/>
<line x1="402.2" y1="53.4" x2="405.4" y2="55" stroke="#ddd" stroke-width="0.4"/>
<ellipse cx="404.5" cy="40.1" rx="2.6" ry="1.95" transform="rotate(35 404.5 40.1)" stroke="#000" stroke-width="0.8" fill="#555"/>
<line x1="402.9" y1="39.3" x2="406.1" y2="40.9" stroke="#ddd" stroke-width="0.4"/>
<ellipse cx="416.7" cy="36.9" rx="2.6" ry="1.95" transform="rotate(35 416.7 36.9)" stroke="#000" stroke-width="0.8" fill="#555"/>
<line x1="415.1" y1="36.1" x2="418.3" y2="37.7" stroke="#ddd" stroke-width="0.4"/>
<ellipse cx="421.2" cy="41.4" rx="2.6" ry="1.95" transform="rotate(35 421.2 41.4)" stroke="#000" stroke-width="0.8" fill="#555"/>
<line x1="419.6" y1="40.6" x2="422.8" y2="42.2" stroke="#ddd" stroke-width="0.4"/>
<ellipse cx="416" cy="48.5" rx="2.6" ry="1.95" transform="rotate(35 416 48.5)" stroke="#000" stroke-width="0.8" fill="#555"/>
<line x1="414.4" y1="47.7" x2="417.6" y2="49.3" stroke="#ddd" stroke-width="0.4"/>
<ellipse cx="424.4" cy="29.2" rx="2.6" ry="1.95" transform="rotate(35 424.4 29.2)" stroke="#000" stroke-width="0.8" fill="#555"/>
<line x1="422.8" y1="28.4" x2="426" y2="30" stroke="#ddd" stroke-width="0.4"/>
<ellipse cx="434.6" cy="21.5" rx="2.6" ry="1.95" transform="rotate(35 434.6 21.5)" stroke="#000" stroke-width="0.8" fill="#555"/>
<line x1="433" y1="20.7" x2="436.2" y2="22.3" stroke="#ddd" stroke-width="0.4"/>
<ellipse cx="442.5" cy="32" rx="2.6" ry="2.2" transform="rotate(30 442.5 32)" stroke="#0a1a80" stroke-width="0.5" fill="#1f3ff5"/>
<ellipse cx="436.5" cy="37.6" rx="2.6" ry="1.95" transform="rotate(35 436.5 37.6)" stroke="#000" stroke-width="0.8" fill="#555"/>
<line x1="434.9" y1="36.8" x2="438.1" y2="38.4" stroke="#ddd" stroke-width="0.4"/>
<ellipse cx="443.2" cy="51" rx="2.6" ry="1.95" transform="rotate(35 443.2 51)" stroke="#000" stroke-width="0.8" fill="#555"/>
<line x1="441.6" y1="50.2" x2="444.8" y2="51.8" stroke="#ddd" stroke-width="0.4"/>
<ellipse cx="442" cy="65.3" rx="2.6" ry="1.95" transform="rotate(35 442 65.3)" stroke="#000" stroke-width="0.8" fill="#555"/>
<line x1="440.4" y1="64.5" x2="443.6" y2="66.1" stroke="#ddd" stroke-width="0.4"/>
<ellipse cx="446" cy="81.8" rx="2.6" ry="1.95" transform="rotate(35 446 81.8)" stroke="#000" stroke-width="0.8" fill="#555"/>
<line x1="444.4" y1="81" x2="447.6" y2="82.6" stroke="#ddd" stroke-width="0.4"/>
<ellipse cx="453.7" cy="90.4" rx="2.6" ry="1.95" transform="rotate(35 453.7 90.4)" stroke="#000" stroke-width="0.8" fill="#555"/>
<line x1="452.1" y1="89.6" x2="455.3" y2="91.2" stroke="#ddd" stroke-width="0.4"/>
<ellipse cx="454.8" cy="23.9" rx="2.6" ry="1.95" transform="rotate(35 454.8 23.9)" stroke="#000" stroke-width="0.8" fill="#555"/>
<line x1="453.2" y1="23.1" x2="456.4" y2="24.7" stroke="#ddd" stroke-width="0.4"/>
<ellipse cx="460.8" cy="34.2" rx="2.6" ry="1.95" transform="rotate(35 460.8 34.2)" stroke="#000" stroke-width="0.8" fill="#555"/>
<line x1="459.2" y1="33.4" x2="462.4" y2="35" stroke="#ddd" stroke-width="0.4"/>
<ellipse cx="474.4" cy="30.8" rx="2.6" ry="1.95" transform="rotate(35 474.4 30.8)" stroke="#000" stroke-width="0.8" fill="#555"/>
<line x1="472.8" y1="30" x2="476" y2="31.6" stroke="#ddd" stroke-width="0.4"/>
<ellipse cx="477.9" cy="16.2" rx="2.8" ry="2.3" transform="rotate(60 477.9 16.2)" stroke="#7a0000" stroke-width="0.5" fill="#ee1c24"/>
<ellipse cx="489.8" cy="15.4" rx="2.6" ry="1.95" transform="rotate(35 489.8 15.4)" stroke="#000" stroke-width="0.8" fill="#555"/>
<line x1="488.2" y1="14.6" x2="491.4" y2="16.2" stroke="#ddd" stroke-width="0.4"/>
<ellipse cx="481.3" cy="37.6" rx="2.6" ry="1.95" transform="rotate(35 481.3 37.6)" stroke="#000" stroke-width="0.8" fill="#555"/>
<line x1="479.7" y1="36.8" x2="482.9" y2="38.4" stroke="#ddd" stroke-width="0.4"/>
<ellipse cx="494.1" cy="32.5" rx="2.8" ry="2.3" transform="rotate(60 494.1 32.5)" stroke="#7a0000" stroke-width="0.5" fill="#ee1c24"/>
<ellipse cx="503.5" cy="40.2" rx="2.6" ry="1.95" transform="rotate(35 503.5 40.2)" stroke="#000" stroke-width="0.8" fill="#555"/>
<line x1="501.9" y1="39.4" x2="505.1" y2="41" stroke="#ddd" stroke-width="0.4"/>
<ellipse cx="477.9" cy="51.3" rx="2.6" ry="1.95" transform="rotate(35 477.9 51.3)" stroke="#000" stroke-width="0.8" fill="#555"/>
<line x1="476.3" y1="50.5" x2="479.5" y2="52.1" stroke="#ddd" stroke-width="0.4"/>
<ellipse cx="465" cy="54.7" rx="2.6" ry="1.95" transform="rotate(35 465 54.7)" stroke="#000" stroke-width="0.8" fill="#555"/>
<line x1="463.4" y1="53.9" x2="466.6" y2="55.5" stroke="#ddd" stroke-width="0.4"/>
<ellipse cx="457.4" cy="47" rx="2.6" ry="1.95" transform="rotate(35 457.4 47)" stroke="#000" stroke-width="0.8" fill="#555"/>
<line x1="455.8" y1="46.2" x2="459" y2="47.8" stroke="#ddd" stroke-width="0.4"/>
<circle cx="377" cy="59.3" r="1.35" stroke="#2a9a2a" stroke-width="0.45" fill="#4ef04e"/>
<circle cx="385.5" cy="68.8" r="1.35" stroke="#2a9a2a" stroke-width="0.45" fill="#4ef04e"/>
<circle cx="401.3" cy="36.6" r="1.35" stroke="#2a9a2a" stroke-width="0.45" fill="#4ef04e"/>
<circle cx="419.9" cy="20.6" r="1.35" stroke="#2a9a2a" stroke-width="0.45" fill="#4ef04e"/>
<circle cx="426.3" cy="36.3" r="1.35" stroke="#2a9a2a" stroke-width="0.45" fill="#4ef04e"/>
<circle cx="432.2" cy="12.6" r="1.35" stroke="#2a9a2a" stroke-width="0.45" fill="#4ef04e"/>
<circle cx="439.3" cy="16.2" r="1.35" stroke="#2a9a2a" stroke-width="0.45" fill="#4ef04e"/>
<circle cx="436.7" cy="29.4" r="1.35" stroke="#2a9a2a" stroke-width="0.45" fill="#4ef04e"/>
<circle cx="419.4" cy="52" r="1.35" stroke="#2a9a2a" stroke-width="0.45" fill="#4ef04e"/>
<circle cx="439.6" cy="55.2" r="1.35" stroke="#2a9a2a" stroke-width="0.45" fill="#4ef04e"/>
<circle cx="433.4" cy="66" r="1.35" stroke="#2a9a2a" stroke-width="0.45" fill="#4ef04e"/>
<circle cx="448.3" cy="62.6" r="1.35" stroke="#2a9a2a" stroke-width="0.45" fill="#4ef04e"/>
<circle cx="452.4" cy="13.6" r="1.35" stroke="#2a9a2a" stroke-width="0.45" fill="#4ef04e"/>
<circle cx="459.6" cy="20.6" r="1.35" stroke="#2a9a2a" stroke-width="0.45" fill="#4ef04e"/>
<circle cx="488.8" cy="8.6" r="1.35" stroke="#2a9a2a" stroke-width="0.45" fill="#4ef04e"/>
<circle cx="495.9" cy="12" r="1.35" stroke="#2a9a2a" stroke-width="0.45" fill="#4ef04e"/>
<circle cx="491.5" cy="26.6" r="1.35" stroke="#2a9a2a" stroke-width="0.45" fill="#4ef04e"/>
<circle cx="512" cy="34.3" r="1.35" stroke="#2a9a2a" stroke-width="0.45" fill="#4ef04e"/>
<circle cx="499.9" cy="40" r="1.35" stroke="#2a9a2a" stroke-width="0.45" fill="#4ef04e"/>
<circle cx="504.4" cy="51.3" r="1.35" stroke="#2a9a2a" stroke-width="0.45" fill="#4ef04e"/>
<circle cx="483.2" cy="57.3" r="1.35" stroke="#2a9a2a" stroke-width="0.45" fill="#4ef04e"/>
<circle cx="461.6" cy="65" r="1.35" stroke="#2a9a2a" stroke-width="0.45" fill="#4ef04e"/>
<circle cx="441.3" cy="84.3" r="1.35" stroke="#2a9a2a" stroke-width="0.45" fill="#4ef04e"/>
<circle cx="457.6" cy="87.5" r="1.35" stroke="#2a9a2a" stroke-width="0.45" fill="#4ef04e"/>
<circle cx="454.6" cy="100.6" r="1.35" stroke="#2a9a2a" stroke-width="0.45" fill="#4ef04e"/>
<circle cx="449" cy="92" r="1.35" stroke="#2a9a2a" stroke-width="0.45" fill="#4ef04e"/>
<text x="385.9" y="46.51" font-size="6.5" text-anchor="middle" fill="#1e1e1e" stroke="#1e1e1e" stroke-width="0.25">O1</text>
<text x="379" y="67.91" font-size="6.5" text-anchor="middle" fill="#1e1e1e" stroke="#1e1e1e" stroke-width="0.25">C1</text>
<text x="400.6" y="70.41" font-size="6.5" text-anchor="middle" fill="#1e1e1e" stroke="#1e1e1e" stroke-width="0.25">O2</text>
<text x="394.2" y="42.21" font-size="6.5" text-anchor="middle" fill="#1e1e1e" stroke="#1e1e1e" stroke-width="0.25">C21</text>
<text x="403.2" y="33.91" font-size="6.5" text-anchor="middle" fill="#1e1e1e" stroke="#1e1e1e" stroke-width="0.25">C20</text>
<text x="415.4" y="30.11" font-size="6.5" text-anchor="middle" fill="#1e1e1e" stroke="#1e1e1e" stroke-width="0.25">C19</text>
<text x="425" y="21.31" font-size="6.5" text-anchor="middle" fill="#1e1e1e" stroke="#1e1e1e" stroke-width="0.25">C18</text>
<text x="444.2" y="21.31" font-size="6.5" text-anchor="middle" fill="#1e1e1e" stroke="#1e1e1e" stroke-width="0.25">C17</text>
<text x="444.9" y="26.51" font-size="6.5" text-anchor="middle" fill="#1e1e1e" stroke="#1e1e1e" stroke-width="0.25">N1</text>
<text x="451" y="34.11" font-size="6.5" text-anchor="middle" fill="#1e1e1e" stroke="#1e1e1e" stroke-width="0.25">C16</text>
<text x="433.3" y="45.21" font-size="6.5" text-anchor="middle" fill="#1e1e1e" stroke="#1e1e1e" stroke-width="0.25">C5</text>
<text x="448" y="46.31" font-size="6.5" text-anchor="middle" fill="#1e1e1e" stroke="#1e1e1e" stroke-width="0.25">C6</text>
<text x="425" y="49.31" font-size="6.5" text-anchor="middle" fill="#1e1e1e" stroke="#1e1e1e" stroke-width="0.25">C4</text>
<text x="414.7" y="56.31" font-size="6.5" text-anchor="middle" fill="#1e1e1e" stroke="#1e1e1e" stroke-width="0.25">C3</text>
<text x="407.7" y="60.81" font-size="6.5" text-anchor="middle" fill="#1e1e1e" stroke="#1e1e1e" stroke-width="0.25">C2</text>
<text x="448" y="69.61" font-size="6.5" text-anchor="middle" fill="#1e1e1e" stroke="#1e1e1e" stroke-width="0.25">C7</text>
<text x="450.8" y="76.31" font-size="6.5" text-anchor="middle" fill="#1e1e1e" stroke="#1e1e1e" stroke-width="0.25">C8</text>
<text x="460.3" y="95.31" font-size="6.5" text-anchor="middle" fill="#1e1e1e" stroke="#1e1e1e" stroke-width="0.25">C9</text>
<text x="465" y="28.61" font-size="6.5" text-anchor="middle" fill="#1e1e1e" stroke="#1e1e1e" stroke-width="0.25">C15</text>
<text x="482.1" y="29.51" font-size="6.5" text-anchor="middle" fill="#1e1e1e" stroke="#1e1e1e" stroke-width="0.25">C14</text>
<text x="473.6" y="12.41" font-size="6.5" text-anchor="middle" fill="#1e1e1e" stroke="#1e1e1e" stroke-width="0.25">O4</text>
<text x="497.5" y="19.21" font-size="6.5" text-anchor="middle" fill="#1e1e1e" stroke="#1e1e1e" stroke-width="0.25">C22</text>
<text x="499.2" y="27.71" font-size="6.5" text-anchor="middle" fill="#1e1e1e" stroke="#1e1e1e" stroke-width="0.25">O5</text>
<text x="488.1" y="44.01" font-size="6.5" text-anchor="middle" fill="#1e1e1e" stroke="#1e1e1e" stroke-width="0.25">C13</text>
<text x="512.9" y="46.51" font-size="6.5" text-anchor="middle" fill="#1e1e1e" stroke="#1e1e1e" stroke-width="0.25">C01h</text>
<text x="475.3" y="58.51" font-size="6.5" text-anchor="middle" fill="#1e1e1e" stroke="#1e1e1e" stroke-width="0.25">C12</text>
<text x="469.3" y="63.61" font-size="6.5" text-anchor="middle" fill="#1e1e1e" stroke="#1e1e1e" stroke-width="0.25">C11</text>
<text x="453.9" y="55.11" font-size="6.5" text-anchor="middle" fill="#1e1e1e" stroke="#1e1e1e" stroke-width="0.25">C10</text>
<line x1="401.5" y1="83.6" x2="410.4" y2="88.55" stroke="#1e1e1e" stroke-width="1" stroke-linecap="round"/>
<line x1="410.4" y1="88.55" x2="410.4" y2="98.45" stroke="#1e1e1e" stroke-width="1" stroke-linecap="round"/>
<line x1="410.4" y1="98.45" x2="401.5" y2="103.4" stroke="#1e1e1e" stroke-width="1" stroke-linecap="round"/>
<line x1="401.5" y1="103.4" x2="392.6" y2="98.45" stroke="#1e1e1e" stroke-width="1" stroke-linecap="round"/>
<line x1="392.6" y1="98.45" x2="392.6" y2="88.55" stroke="#1e1e1e" stroke-width="1" stroke-linecap="round"/>
<line x1="392.6" y1="88.55" x2="401.5" y2="83.6" stroke="#1e1e1e" stroke-width="1" stroke-linecap="round"/>
<line x1="402.35" y1="86.13" x2="407.69" y2="89.1" stroke="#1e1e1e" stroke-width="0.9"/>
<line x1="407.69" y1="97.9" x2="402.35" y2="100.87" stroke="#1e1e1e" stroke-width="0.9"/>
<line x1="394.4" y1="96.47" x2="394.4" y2="90.53" stroke="#1e1e1e" stroke-width="0.9"/>
<line x1="392.6" y1="88.55" x2="386.06" y2="86.43" stroke="#1e1e1e" stroke-width="1" stroke-linecap="round"/>
<line x1="392.6" y1="98.45" x2="386.06" y2="100.57" stroke="#1e1e1e" stroke-width="1" stroke-linecap="round"/>
<line x1="381.41" y1="87.94" x2="377.36" y2="93.5" stroke="#1e1e1e" stroke-width="1" stroke-linecap="round"/>
<line x1="381.41" y1="99.06" x2="377.36" y2="93.5" stroke="#1e1e1e" stroke-width="1" stroke-linecap="round"/>
<text x="383.19" y="88.22" font-size="8.4" text-anchor="middle" fill="#1e1e1e" stroke="#1e1e1e" stroke-width="0.25">O</text>
<text x="383.19" y="104.24" font-size="8.4" text-anchor="middle" fill="#1e1e1e" stroke="#1e1e1e" stroke-width="0.25">O</text>
<line x1="410.4" y1="88.55" x2="419.3" y2="83.6" stroke="#1e1e1e" stroke-width="1" stroke-linecap="round"/>
<line x1="419.3" y1="83.6" x2="428.2" y2="88.55" stroke="#1e1e1e" stroke-width="1" stroke-linecap="round"/>
<line x1="428.2" y1="88.55" x2="428.2" y2="95.43" stroke="#1e1e1e" stroke-width="1" stroke-linecap="round"/>
<line x1="420.57" y1="102.99" x2="420.32" y2="102.54" stroke="#1e1e1e" stroke-width="0.6"/>
<line x1="421.85" y1="102.58" x2="421.34" y2="101.67" stroke="#1e1e1e" stroke-width="0.6"/>
<line x1="423.12" y1="102.17" x2="422.36" y2="100.81" stroke="#1e1e1e" stroke-width="0.6"/>
<line x1="424.39" y1="101.76" x2="423.38" y2="99.94" stroke="#1e1e1e" stroke-width="0.6"/>
<line x1="425.66" y1="101.35" x2="424.4" y2="99.08" stroke="#1e1e1e" stroke-width="0.6"/>
<line x1="419.3" y1="103.4" x2="410.4" y2="98.45" stroke="#1e1e1e" stroke-width="1" stroke-linecap="round"/>
<line x1="430.84" y1="99.92" x2="437.1" y2="103.4" stroke="#1e1e1e" stroke-width="1" stroke-linecap="round"/>
<line x1="437.1" y1="103.4" x2="437.1" y2="113.3" stroke="#1e1e1e" stroke-width="1" stroke-linecap="round"/>
<line x1="419.3" y1="113.3" x2="428.2" y2="118.25" stroke="#1e1e1e" stroke-width="1" stroke-linecap="round"/>
<text x="428.2" y="101.18" font-size="8.4" text-anchor="middle" fill="#1e1e1e" stroke="#1e1e1e" stroke-width="0.25">N</text>
<line x1="419.3" y1="103.4" x2="419.3" y2="113.3" stroke="#1e1e1e" stroke-width="1" stroke-linecap="round"/>
<line x1="437.1" y1="113.3" x2="446" y2="118.25" stroke="#1e1e1e" stroke-width="1" stroke-linecap="round"/>
<line x1="446" y1="118.25" x2="446" y2="128.15" stroke="#1e1e1e" stroke-width="1" stroke-linecap="round"/>
<line x1="446" y1="128.15" x2="437.1" y2="133.1" stroke="#1e1e1e" stroke-width="1" stroke-linecap="round"/>
<line x1="437.1" y1="133.1" x2="428.2" y2="128.15" stroke="#1e1e1e" stroke-width="1" stroke-linecap="round"/>
<line x1="428.2" y1="128.15" x2="428.2" y2="118.25" stroke="#1e1e1e" stroke-width="1" stroke-linecap="round"/>
<line x1="428.2" y1="118.25" x2="437.1" y2="113.3" stroke="#1e1e1e" stroke-width="1" stroke-linecap="round"/>
<line x1="430.91" y1="118.8" x2="436.25" y2="115.83" stroke="#1e1e1e" stroke-width="0.9"/>
<line x1="444.2" y1="120.23" x2="444.2" y2="126.17" stroke="#1e1e1e" stroke-width="0.9"/>
<line x1="436.25" y1="130.57" x2="430.91" y2="127.6" stroke="#1e1e1e" stroke-width="0.9"/>
<line x1="446" y1="118.25" x2="452.26" y2="114.77" stroke="#1e1e1e" stroke-width="1" stroke-linecap="round"/>
<line x1="446" y1="128.15" x2="452.26" y2="131.63" stroke="#1e1e1e" stroke-width="1" stroke-linecap="round"/>
<line x1="457.54" y1="114.77" x2="463.8" y2="118.25" stroke="#1e1e1e" stroke-width="1" stroke-linecap="round"/>
<line x1="457.54" y1="131.63" x2="463.8" y2="128.15" stroke="#1e1e1e" stroke-width="1" stroke-linecap="round"/>
<text x="454.9" y="116.03" font-size="8.4" text-anchor="middle" fill="#1e1e1e" stroke="#1e1e1e" stroke-width="0.25">O</text>
<text x="454.9" y="135.83" font-size="8.4" text-anchor="middle" fill="#1e1e1e" stroke="#1e1e1e" stroke-width="0.25">O</text>
<line x1="417.39" y1="114.06" x2="417.65" y2="114.52" stroke="#1e1e1e" stroke-width="0.6"/>
<line x1="415.49" y1="114.83" x2="415.99" y2="115.73" stroke="#1e1e1e" stroke-width="0.6"/>
<line x1="413.58" y1="115.59" x2="414.34" y2="116.95" stroke="#1e1e1e" stroke-width="0.6"/>
<line x1="411.67" y1="116.35" x2="412.69" y2="118.17" stroke="#1e1e1e" stroke-width="0.6"/>
<line x1="409.77" y1="117.11" x2="411.03" y2="119.39" stroke="#1e1e1e" stroke-width="0.6"/>
<line x1="410.4" y1="118.25" x2="410.4" y2="128.15" stroke="#1e1e1e" stroke-width="1" stroke-linecap="round"/>
<line x1="410.4" y1="128.15" x2="401.5" y2="133.1" stroke="#1e1e1e" stroke-width="1" stroke-linecap="round"/>
<line x1="409.89" y1="130" x2="401.88" y2="134.45" stroke="#1e1e1e" stroke-width="0.9"/>
<text x="361.6" y="114.3" font-size="8.3" text-anchor="start" fill="#1a1a1a" stroke="#1a1a1a" stroke-width="0.25">PSFL1190</text>
<rect x="542.9" y="13.8" width="124.4" height="101.6" rx="0" stroke="#3a3a3a" stroke-width="1.1" fill="none"/>
<line x1="540.1" y1="110.2" x2="542.9" y2="110.2" stroke="#3a3a3a" stroke-width="0.9"/>
<text x="538.2" y="112.48" font-size="7" text-anchor="end" fill="#1a1a1a" stroke="#1a1a1a" stroke-width="0.25">0</text>
<line x1="540.1" y1="88.05" x2="542.9" y2="88.05" stroke="#3a3a3a" stroke-width="0.9"/>
<text x="538.2" y="90.33" font-size="7" text-anchor="end" fill="#1a1a1a" stroke="#1a1a1a" stroke-width="0.25">100</text>
<line x1="540.1" y1="65.9" x2="542.9" y2="65.9" stroke="#3a3a3a" stroke-width="0.9"/>
<text x="538.2" y="68.18" font-size="7" text-anchor="end" fill="#1a1a1a" stroke="#1a1a1a" stroke-width="0.25">200</text>
<line x1="540.1" y1="43.75" x2="542.9" y2="43.75" stroke="#3a3a3a" stroke-width="0.9"/>
<text x="538.2" y="46.02" font-size="7" text-anchor="end" fill="#1a1a1a" stroke="#1a1a1a" stroke-width="0.25">300</text>
<line x1="540.1" y1="21.6" x2="542.9" y2="21.6" stroke="#3a3a3a" stroke-width="0.9"/>
<text x="538.2" y="23.88" font-size="7" text-anchor="end" fill="#1a1a1a" stroke="#1a1a1a" stroke-width="0.25">400</text>
<line x1="542.6" y1="115.4" x2="542.6" y2="118.2" stroke="#3a3a3a" stroke-width="0.9"/>
<text x="542.6" y="123.68" font-size="7" text-anchor="middle" fill="#1a1a1a" stroke="#1a1a1a" stroke-width="0.25">0</text>
<line x1="573.15" y1="115.4" x2="573.15" y2="118.2" stroke="#3a3a3a" stroke-width="0.9"/>
<text x="573.15" y="123.68" font-size="7" text-anchor="middle" fill="#1a1a1a" stroke="#1a1a1a" stroke-width="0.25">2.5</text>
<line x1="603.7" y1="115.4" x2="603.7" y2="118.2" stroke="#3a3a3a" stroke-width="0.9"/>
<text x="603.7" y="123.68" font-size="7" text-anchor="middle" fill="#1a1a1a" stroke="#1a1a1a" stroke-width="0.25">5</text>
<line x1="634.25" y1="115.4" x2="634.25" y2="118.2" stroke="#3a3a3a" stroke-width="0.9"/>
<text x="634.25" y="123.68" font-size="7" text-anchor="middle" fill="#1a1a1a" stroke="#1a1a1a" stroke-width="0.25">7.5</text>
<line x1="664.8" y1="115.4" x2="664.8" y2="118.2" stroke="#3a3a3a" stroke-width="0.9"/>
<text x="664.8" y="123.68" font-size="7" text-anchor="middle" fill="#1a1a1a" stroke="#1a1a1a" stroke-width="0.25">10</text>
<path d="M542.84 110.2 L543.02 110.2 L543.2 110.2 L543.38 110.2 L543.56 110.2 L543.74 110.2 L543.92 110.2 L544.09 110.2 L544.27 110.2 L544.45 110.2 L544.63 110.2 L544.81 110.2 L544.99 110.2 L545.17 110.2 L545.34 110.2 L545.52 110.2 L545.7 110.2 L545.88 110.2 L546.06 110.2 L546.24 110.2 L546.42 110.2 L546.59 110.2 L546.77 110.2 L546.95 110.2 L547.13 110.2 L547.31 110.2 L547.49 110.2 L547.67 110.2 L547.84 110.2 L548.02 110.2 L548.2 110.2 L548.38 110.2 L548.56 110.2 L548.74 110.2 L548.92 110.2 L549.09 110.2 L549.27 110.2 L549.45 110.2 L549.63 110.2 L549.81 110.2 L549.99 110.2 L550.17 110.2 L550.35 110.2 L550.52 110.2 L550.7 110.2 L550.88 110.2 L551.06 110.2 L551.24 110.2 L551.42 110.2 L551.6 110.2 L551.77 110.2 L551.95 110.2 L552.13 110.2 L552.31 110.2 L552.49 110.2 L552.67 110.2 L552.85 110.2 L553.02 110.2 L553.2 110.2 L553.38 110.2 L553.56 110.2 L553.74 110.2 L553.92 110.2 L554.1 110.2 L554.27 110.2 L554.45 110.2 L554.63 110.2 L554.81 110.2 L554.99 110.2 L555.17 110.2 L555.35 110.2 L555.52 110.2 L555.7 110.2 L555.88 110.2 L556.06 110.2 L556.24 110.2 L556.42 110.2 L556.6 110.2 L556.77 110.2 L556.95 110.2 L557.13 110.2 L557.31 110.2 L557.49 110.2 L557.67 110.2 L557.85 110.2 L558.02 110.2 L558.2 110.2 L558.38 110.2 L558.56 110.2 L558.74 110.2 L558.92 110.2 L559.1 110.2 L559.27 110.2 L559.45 110.2 L559.63 110.2 L559.81 110.2 L559.99 110.2 L560.17 110.2 L560.35 110.2 L560.52 110.2 L560.7 110.2 L560.88 110.2 L561.06 110.2 L561.24 110.2 L561.42 110.2 L561.6 110.2 L561.77 110.2 L561.95 110.2 L562.13 110.2 L562.31 110.2 L562.49 110.2 L562.67 110.2 L562.85 110.2 L563.02 110.2 L563.2 110.2 L563.38 110.2 L563.56 110.2 L563.74 110.2 L563.92 110.2 L564.1 110.2 L564.27 110.2 L564.45 110.2 L564.63 110.2 L564.81 110.2 L564.99 110.2 L565.17 110.2 L565.35 110.19 L565.52 110.18 L565.7 110.16 L565.88 110.1 L566.06 109.98 L566.24 109.74 L566.42 109.33 L566.6 108.7 L566.78 107.82 L566.95 106.73 L567.13 105.56 L567.31 104.5 L567.49 103.75 L567.67 103.48 L567.85 103.72 L568.03 104.33 L568.2 105.1 L568.38 105.73 L568.56 106.03 L568.74 105.89 L568.92 105.39 L569.1 104.72 L569.28 104.16 L569.45 103.92 L569.63 104.14 L569.81 104.81 L569.99 105.79 L570.17 106.89 L570.35 107.91 L570.53 108.75 L570.7 109.35 L570.88 109.75 L571.06 109.98 L571.24 110.1 L571.42 110.16 L571.6 110.18 L571.78 110.19 L571.95 110.2 L572.13 110.2 L572.31 110.2 L572.49 110.2 L572.67 110.2 L572.85 110.2 L573.03 110.2 L573.2 110.2 L573.38 110.2 L573.56 110.2 L573.74 110.2 L573.92 110.2 L574.1 110.2 L574.28 110.2 L574.45 110.19 L574.63 110.18 L574.81 110.15 L574.99 110.11 L575.17 110.04 L575.35 109.95 L575.53 109.84 L575.7 109.73 L575.88 109.62 L576.06 109.55 L576.24 109.54 L576.42 109.57 L576.6 109.66 L576.78 109.77 L576.95 109.89 L577.13 109.99 L577.31 110.07 L577.49 110.13 L577.67 110.16 L577.85 110.18 L578.03 110.19 L578.2 110.2 L578.38 110.2 L578.56 110.2 L578.74 110.2 L578.92 110.2 L579.1 110.2 L579.28 110.2 L579.45 110.19 L579.63 110.19 L579.81 110.18 L579.99 110.16 L580.17 110.14 L580.35 110.1 L580.53 110.05 L580.7 109.98 L580.88 109.9 L581.06 109.82 L581.24 109.75 L581.42 109.69 L581.6 109.65 L581.78 109.65 L581.95 109.68 L582.13 109.73 L582.31 109.81 L582.49 109.89 L582.67 109.97 L582.85 110.04 L583.03 110.09 L583.2 110.13 L583.38 110.16 L583.56 110.18 L583.74 110.19 L583.92 110.19 L584.1 110.2 L584.28 110.2 L584.46 110.2 L584.63 110.2 L584.81 110.2 L584.99 110.2 L585.17 110.2 L585.35 110.2 L585.53 110.2 L585.71 110.2 L585.88 110.2 L586.06 110.2 L586.24 110.2 L586.42 110.2 L586.6 110.2 L586.78 110.2 L586.96 110.2 L587.13 110.2 L587.31 110.2 L587.49 110.2 L587.67 110.2 L587.85 110.2 L588.03 110.2 L588.21 110.2 L588.38 110.2 L588.56 110.2 L588.74 110.2 L588.92 110.2 L589.1 110.2 L589.28 110.2 L589.46 110.2 L589.63 110.2 L589.81 110.2 L589.99 110.2 L590.17 110.2 L590.35 110.2 L590.53 110.2 L590.71 110.2 L590.88 110.2 L591.06 110.2 L591.24 110.2 L591.42 110.2 L591.6 110.2 L591.78 110.2 L591.96 110.2 L592.13 110.2 L592.31 110.2 L592.49 110.2 L592.67 110.2 L592.85 110.2 L593.03 110.2 L593.21 110.2 L593.38 110.2 L593.56 110.2 L593.74 110.2 L593.92 110.2 L594.1 110.2 L594.28 110.2 L594.46 110.2 L594.63 110.2 L594.81 110.2 L594.99 110.2 L595.17 110.2 L595.35 110.2 L595.53 110.2 L595.71 110.2 L595.88 110.2 L596.06 110.2 L596.24 110.2 L596.42 110.2 L596.6 110.2 L596.78 110.2 L596.96 110.2 L597.13 110.2 L597.31 110.2 L597.49 110.2 L597.67 110.2 L597.85 110.2 L598.03 110.2 L598.21 110.2 L598.38 110.2 L598.56 110.2 L598.74 110.2 L598.92 110.2 L599.1 110.2 L599.28 110.2 L599.46 110.2 L599.63 110.2 L599.81 110.2 L599.99 110.2 L600.17 110.2 L600.35 110.2 L600.53 110.2 L600.71 110.2 L600.89 110.2 L601.06 110.2 L601.24 110.2 L601.42 110.2 L601.6 110.2 L601.78 110.2 L601.96 110.19 L602.14 110.19 L602.31 110.17 L602.49 110.13 L602.67 110.05 L602.85 109.93 L603.03 109.73 L603.21 109.46 L603.39 109.13 L603.56 108.78 L603.74 108.47 L603.92 108.26 L604.1 108.21 L604.28 108.28 L604.46 108.43 L604.64 108.66 L604.81 108.92 L604.99 109.19 L605.17 109.44 L605.35 109.66 L605.53 109.83 L605.71 109.96 L605.89 110.06 L606.06 110.12 L606.24 110.15 L606.42 110.18 L606.6 110.19 L606.78 110.19 L606.96 110.2 L607.14 110.2 L607.31 110.2 L607.49 110.2 L607.67 110.2 L607.85 110.19 L608.03 110.18 L608.21 110.15 L608.39 110.07 L608.56 109.91 L608.74 109.55 L608.92 108.86 L609.1 107.58 L609.28 105.37 L609.46 101.81 L609.64 96.46 L609.81 88.99 L609.99 79.35 L610.17 67.91 L610.35 55.56 L610.53 43.67 L610.71 33.86 L610.89 27.65 L611.06 26.02 L611.24 27.33 L611.42 30.49 L611.6 35.28 L611.78 41.39 L611.96 48.44 L612.14 56.03 L612.31 63.77 L612.49 71.3 L612.67 78.34 L612.85 84.69 L613.03 90.22 L613.21 94.88 L613.39 98.69 L613.56 101.71 L613.74 104.04 L613.92 105.78 L614.1 107.04 L614.28 107.93 L614.46 108.53 L614.64 108.93 L614.81 109.17 L614.99 109.32 L615.17 109.39 L615.35 109.43 L615.53 109.43 L615.71 109.42 L615.89 109.41 L616.06 109.39 L616.24 109.37 L616.42 109.35 L616.6 109.33 L616.78 109.32 L616.96 109.32 L617.14 109.31 L617.32 109.32 L617.49 109.32 L617.67 109.33 L617.85 109.35 L618.03 109.37 L618.21 109.39 L618.39 109.42 L618.57 109.45 L618.74 109.49 L618.92 109.52 L619.1 109.56 L619.28 109.6 L619.46 109.63 L619.64 109.67 L619.82 109.71 L619.99 109.75 L620.17 109.79 L620.35 109.83 L620.53 109.86 L620.71 109.89 L620.89 109.93 L621.07 109.96 L621.24 109.98 L621.42 110.01 L621.6 110.03 L621.78 110.05 L621.96 110.07 L622.14 110.09 L622.32 110.11 L622.49 110.12 L622.67 110.13 L622.85 110.14 L623.03 110.15 L623.21 110.16 L623.39 110.17 L623.57 110.17 L623.74 110.18 L623.92 110.18 L624.1 110.18 L624.28 110.19 L624.46 110.19 L624.64 110.19 L624.82 110.19 L624.99 110.19 L625.17 110.2 L625.35 110.2 L625.53 110.2 L625.71 110.2 L625.89 110.2 L626.07 110.2 L626.24 110.2 L626.42 110.2 L626.6 110.2 L626.78 110.2 L626.96 110.2 L627.14 110.2 L627.32 110.2 L627.49 110.2 L627.67 110.2 L627.85 110.2 L628.03 110.2 L628.21 110.2 L628.39 110.2 L628.57 110.2 L628.74 110.2 L628.92 110.2 L629.1 110.2 L629.28 110.2 L629.46 110.2 L629.64 110.2 L629.82 110.2 L629.99 110.2 L630.17 110.2 L630.35 110.2 L630.53 110.2 L630.71 110.2 L630.89 110.2 L631.07 110.2 L631.24 110.2 L631.42 110.2 L631.6 110.2 L631.78 110.2 L631.96 110.2 L632.14 110.2 L632.32 110.2 L632.49 110.2 L632.67 110.2 L632.85 110.2 L633.03 110.2 L633.21 110.2 L633.39 110.2 L633.57 110.2 L633.74 110.2 L633.92 110.2 L634.1 110.2 L634.28 110.2 L634.46 110.2 L634.64 110.2 L634.82 110.2 L635 110.2 L635.17 110.2 L635.35 110.2 L635.53 110.2 L635.71 110.2 L635.89 110.2 L636.07 110.2 L636.25 110.2 L636.42 110.2 L636.6 110.2 L636.78 110.2 L636.96 110.2 L637.14 110.2 L637.32 110.2 L637.5 110.2 L637.67 110.2 L637.85 110.2 L638.03 110.2 L638.21 110.2 L638.39 110.2 L638.57 110.2 L638.75 110.2 L638.92 110.2 L639.1 110.2 L639.28 110.2 L639.46 110.2 L639.64 110.2 L639.82 110.2 L640 110.2 L640.17 110.2 L640.35 110.2 L640.53 110.2 L640.71 110.2 L640.89 110.2 L641.07 110.2 L641.25 110.2 L641.42 110.2 L641.6 110.2 L641.78 110.2 L641.96 110.2 L642.14 110.2 L642.32 110.2 L642.5 110.2 L642.67 110.2 L642.85 110.2 L643.03 110.2 L643.21 110.2 L643.39 110.2 L643.57 110.2 L643.75 110.2 L643.92 110.2 L644.1 110.2 L644.28 110.2 L644.46 110.2 L644.64 110.2 L644.82 110.2 L645 110.2 L645.17 110.2 L645.35 110.2 L645.53 110.2 L645.71 110.2 L645.89 110.2 L646.07 110.2 L646.25 110.2 L646.42 110.2 L646.6 110.2 L646.78 110.2 L646.96 110.2 L647.14 110.2 L647.32 110.2 L647.5 110.2 L647.67 110.2 L647.85 110.2 L648.03 110.2 L648.21 110.2 L648.39 110.2 L648.57 110.2 L648.75 110.2 L648.92 110.2 L649.1 110.2 L649.28 110.2 L649.46 110.2 L649.64 110.2 L649.82 110.2 L650 110.2 L650.17 110.2 L650.35 110.2 L650.53 110.2 L650.71 110.2 L650.89 110.2 L651.07 110.2 L651.25 110.2 L651.43 110.2 L651.6 110.2 L651.78 110.2 L651.96 110.2 L652.14 110.2 L652.32 110.2 L652.5 110.2 L652.68 110.2 L652.85 110.2 L653.03 110.2 L653.21 110.2 L653.39 110.2 L653.57 110.2 L653.75 110.2 L653.93 110.2 L654.1 110.2 L654.28 110.2 L654.46 110.2 L654.64 110.2 L654.82 110.2 L655 110.2 L655.18 110.2 L655.35 110.2 L655.53 110.2 L655.71 110.2 L655.89 110.2 L656.07 110.2 L656.25 110.2 L656.43 110.2 L656.6 110.2 L656.78 110.2 L656.96 110.2 L657.14 110.2 L657.32 110.2 L657.5 110.2 L657.68 110.2 L657.85 110.2 L658.03 110.2 L658.21 110.2 L658.39 110.2 L658.57 110.2 L658.75 110.2 L658.93 110.2 L659.1 110.2 L659.28 110.2 L659.46 110.2 L659.64 110.2 L659.82 110.2 L660 110.2 L660.18 110.2 L660.35 110.2 L660.53 110.2 L660.71 110.2 L660.89 110.2 L661.07 110.2 L661.25 110.2 L661.43 110.2 L661.6 110.2 L661.78 110.2 L661.96 110.2 L662.14 110.2 L662.32 110.2 L662.5 110.2 L662.68 110.2 L662.85 110.2 L663.03 110.2 L663.21 110.2 L663.39 110.2 L663.57 110.2 L663.75 110.2 L663.93 110.2 L664.1 110.2 L664.28 110.2 L664.46 110.2 L664.64 110.2 L664.82 110.2 L665 110.2 L665.18 110.2 L665.35 110.2 L665.53 110.2 L665.71 110.2 L665.89 110.2 L666.07 110.2 L666.25 110.2 L666.43 110.2 L666.6 110.2 L666.78 110.2 L666.96 110.2 L667.14 110.2 L667.32 110.2 L667.5 110.2 L667.68 110.2 L667.86 110.2" stroke="#555" stroke-width="0.75" fill="none"/>
<text x="543.6" y="11.68" font-size="7" text-anchor="middle" fill="#1a1a1a" stroke="#1a1a1a" stroke-width="0.25">mV</text>
<text x="548.4" y="25.17" font-size="7" text-anchor="start" fill="#1a1a1a" stroke="#1a1a1a" stroke-width="0.25">PSFL1190</text>
<text x="610.9" y="29.15" font-size="6" text-anchor="middle" fill="#1a1a1a" stroke="#1a1a1a" stroke-width="0.25">*</text>
<text x="614.6" y="29.88" font-size="7" text-anchor="start" fill="#1a1a1a" stroke="#1a1a1a" stroke-width="0.25">5.741</text>
<text x="624.3" y="110.55" font-size="6" text-anchor="middle" fill="#1a1a1a" stroke="#1a1a1a" stroke-width="0.25">*</text>
<text x="614.2" y="103.28" font-size="7" text-anchor="start" fill="#1a1a1a" stroke="#1a1a1a" stroke-width="0.25">6.542</text>
<text x="600.8" y="132.21" font-size="7.1" text-anchor="middle" fill="#1a1a1a" stroke="#1a1a1a" stroke-width="0.25">Time (min)</text>
<rect x="8.6" y="165.4" width="314.9" height="134.7" rx="7" stroke="#3e4a74" stroke-width="1.1" fill="none" stroke-dasharray="2 1"/>
<line x1="35" y1="217.5" x2="28.2" y2="214.1" stroke="#141414" stroke-width="1.35"/>
<line x1="35" y1="217.5" x2="30.8" y2="224.2" stroke="#141414" stroke-width="1.35"/>
<line x1="53" y1="191" x2="46.2" y2="186.8" stroke="#141414" stroke-width="1.35"/>
<line x1="67.5" y1="214.1" x2="73.5" y2="219.2" stroke="#141414" stroke-width="1.35"/>
<line x1="73.5" y1="184.2" x2="69.2" y2="174.8" stroke="#141414" stroke-width="1.35"/>
<line x1="73.5" y1="184.2" x2="72.8" y2="189.6" stroke="#141414" stroke-width="1.35"/>
<line x1="88.3" y1="181.9" x2="88.9" y2="177.4" stroke="#141414" stroke-width="1.35"/>
<line x1="88.3" y1="181.9" x2="93.2" y2="176.6" stroke="#141414" stroke-width="1.35"/>
<line x1="89.3" y1="205.4" x2="95" y2="201" stroke="#141414" stroke-width="1.35"/>
<line x1="93.8" y1="220.3" x2="98" y2="216" stroke="#141414" stroke-width="1.35"/>
<line x1="109.9" y1="195" x2="111.3" y2="187" stroke="#141414" stroke-width="1.35"/>
<line x1="109.9" y1="195" x2="114.6" y2="191.2" stroke="#141414" stroke-width="1.35"/>
<line x1="146.7" y1="189" x2="146.7" y2="178.2" stroke="#141414" stroke-width="1.35"/>
<line x1="146.7" y1="189" x2="155.2" y2="192.5" stroke="#141414" stroke-width="1.35"/>
<line x1="146.7" y1="189" x2="142.2" y2="187.8" stroke="#141414" stroke-width="1.35"/>
<line x1="158.6" y1="231" x2="167.2" y2="229.2" stroke="#141414" stroke-width="1.35"/>
<line x1="158.6" y1="231" x2="153.6" y2="233.6" stroke="#141414" stroke-width="1.35"/>
<line x1="158.6" y1="231" x2="159.5" y2="237.8" stroke="#141414" stroke-width="1.35"/>
<line x1="131.3" y1="231.8" x2="133.5" y2="238.5" stroke="#141414" stroke-width="1.35"/>
<line x1="118.5" y1="233.5" x2="113.5" y2="238" stroke="#141414" stroke-width="1.35"/>
<line x1="88.5" y1="229.2" x2="80" y2="227.5" stroke="#141414" stroke-width="1.35"/>
<line x1="88.5" y1="229.2" x2="92" y2="226" stroke="#141414" stroke-width="1.35"/>
<line x1="88.1" y1="244.9" x2="85" y2="249.5" stroke="#141414" stroke-width="1.35"/>
<line x1="93" y1="256" x2="101" y2="252.5" stroke="#141414" stroke-width="1.35"/>
<line x1="93" y1="256" x2="93" y2="262.5" stroke="#141414" stroke-width="1.35"/>
<line x1="33.3" y1="204.4" x2="35" y2="217.5" stroke="#0a0a0a" stroke-width="1.8" stroke-linecap="round"/>
<line x1="35" y1="217.5" x2="47" y2="219.2" stroke="#0a0a0a" stroke-width="1.8" stroke-linecap="round"/>
<line x1="33.3" y1="204.4" x2="46.2" y2="204.7" stroke="#0a0a0a" stroke-width="1.8" stroke-linecap="round"/>
<line x1="47" y1="219.2" x2="54.7" y2="211.5" stroke="#0a0a0a" stroke-width="1.8" stroke-linecap="round"/>
<line x1="46.2" y1="204.7" x2="54.7" y2="211.5" stroke="#0a0a0a" stroke-width="1.8" stroke-linecap="round"/>
<line x1="46.2" y1="204.7" x2="53" y2="191" stroke="#0a0a0a" stroke-width="1.8" stroke-linecap="round"/>
<line x1="53" y1="191" x2="66.7" y2="195.3" stroke="#0a0a0a" stroke-width="1.8" stroke-linecap="round"/>
<line x1="66.7" y1="195.3" x2="75.2" y2="204.7" stroke="#0a0a0a" stroke-width="1.8" stroke-linecap="round"/>
<line x1="75.2" y1="204.7" x2="67.5" y2="214.1" stroke="#0a0a0a" stroke-width="1.8" stroke-linecap="round"/>
<line x1="67.5" y1="214.1" x2="54.7" y2="211.5" stroke="#0a0a0a" stroke-width="1.8" stroke-linecap="round"/>
<line x1="66.7" y1="195.3" x2="73.5" y2="184.2" stroke="#0a0a0a" stroke-width="1.8" stroke-linecap="round"/>
<line x1="73.5" y1="184.2" x2="88.3" y2="181.9" stroke="#0a0a0a" stroke-width="1.8" stroke-linecap="round"/>
<line x1="88.3" y1="181.9" x2="94.6" y2="196.9" stroke="#0a0a0a" stroke-width="1.8" stroke-linecap="round"/>
<line x1="94.6" y1="196.9" x2="89.3" y2="205.4" stroke="#0a0a0a" stroke-width="1.8" stroke-linecap="round"/>
<line x1="89.3" y1="205.4" x2="75.2" y2="204.7" stroke="#0a0a0a" stroke-width="1.8" stroke-linecap="round"/>
<line x1="94.6" y1="196.9" x2="109.9" y2="195" stroke="#0a0a0a" stroke-width="1.8" stroke-linecap="round"/>
<line x1="109.9" y1="195" x2="118.5" y2="209.6" stroke="#0a0a0a" stroke-width="1.8" stroke-linecap="round"/>
<line x1="118.5" y1="209.6" x2="109.9" y2="220.7" stroke="#0a0a0a" stroke-width="1.8" stroke-linecap="round"/>
<line x1="109.9" y1="220.7" x2="93.8" y2="220.3" stroke="#0a0a0a" stroke-width="1.8" stroke-linecap="round"/>
<line x1="93.8" y1="220.3" x2="89.3" y2="205.4" stroke="#0a0a0a" stroke-width="1.8" stroke-linecap="round"/>
<line x1="118.5" y1="209.6" x2="131.3" y2="208.7" stroke="#0a0a0a" stroke-width="1.8" stroke-linecap="round"/>
<line x1="131.3" y1="208.7" x2="136.4" y2="195.9" stroke="#0a0a0a" stroke-width="1.8" stroke-linecap="round"/>
<line x1="136.4" y1="195.9" x2="146.7" y2="189" stroke="#0a0a0a" stroke-width="1.8" stroke-linecap="round"/>
<line x1="131.3" y1="208.7" x2="139" y2="220.7" stroke="#0a0a0a" stroke-width="1.8" stroke-linecap="round"/>
<line x1="139" y1="220.7" x2="150.9" y2="219.8" stroke="#0a0a0a" stroke-width="1.8" stroke-linecap="round"/>
<line x1="150.9" y1="219.8" x2="158.6" y2="231" stroke="#0a0a0a" stroke-width="1.8" stroke-linecap="round"/>
<line x1="139" y1="220.7" x2="131.3" y2="231.8" stroke="#0a0a0a" stroke-width="1.8" stroke-linecap="round"/>
<line x1="131.3" y1="231.8" x2="118.5" y2="233.5" stroke="#0a0a0a" stroke-width="1.8" stroke-linecap="round"/>
<line x1="118.5" y1="233.5" x2="109.9" y2="220.7" stroke="#0a0a0a" stroke-width="1.8" stroke-linecap="round"/>
<line x1="93.8" y1="220.3" x2="88.5" y2="229.2" stroke="#0a0a0a" stroke-width="1.8" stroke-linecap="round"/>
<line x1="88.5" y1="229.2" x2="88.1" y2="244.9" stroke="#0a0a0a" stroke-width="1.8" stroke-linecap="round"/>
<line x1="88.1" y1="244.9" x2="93" y2="256" stroke="#0a0a0a" stroke-width="1.8" stroke-linecap="round"/>
<ellipse cx="33.3" cy="204.4" rx="2.8" ry="2.3" transform="rotate(60 33.3 204.4)" stroke="#7a0000" stroke-width="0.5" fill="#ee1c24"/>
<ellipse cx="35" cy="217.5" rx="2.6" ry="1.95" transform="rotate(35 35 217.5)" stroke="#000" stroke-width="0.8" fill="#555"/>
<line x1="33.4" y1="216.7" x2="36.6" y2="218.3" stroke="#ddd" stroke-width="0.4"/>
<ellipse cx="47" cy="219.2" rx="2.8" ry="2.3" transform="rotate(60 47 219.2)" stroke="#7a0000" stroke-width="0.5" fill="#ee1c24"/>
<ellipse cx="46.2" cy="204.7" rx="2.6" ry="1.95" transform="rotate(35 46.2 204.7)" stroke="#000" stroke-width="0.8" fill="#555"/>
<line x1="44.6" y1="203.9" x2="47.8" y2="205.5" stroke="#ddd" stroke-width="0.4"/>
<ellipse cx="54.7" cy="211.5" rx="2.6" ry="1.95" transform="rotate(35 54.7 211.5)" stroke="#000" stroke-width="0.8" fill="#555"/>
<line x1="53.1" y1="210.7" x2="56.3" y2="212.3" stroke="#ddd" stroke-width="0.4"/>
<ellipse cx="53" cy="191" rx="2.6" ry="1.95" transform="rotate(35 53 191)" stroke="#000" stroke-width="0.8" fill="#555"/>
<line x1="51.4" y1="190.2" x2="54.6" y2="191.8" stroke="#ddd" stroke-width="0.4"/>
<ellipse cx="66.7" cy="195.3" rx="2.6" ry="1.95" transform="rotate(35 66.7 195.3)" stroke="#000" stroke-width="0.8" fill="#555"/>
<line x1="65.1" y1="194.5" x2="68.3" y2="196.1" stroke="#ddd" stroke-width="0.4"/>
<ellipse cx="75.2" cy="204.7" rx="2.6" ry="1.95" transform="rotate(35 75.2 204.7)" stroke="#000" stroke-width="0.8" fill="#555"/>
<line x1="73.6" y1="203.9" x2="76.8" y2="205.5" stroke="#ddd" stroke-width="0.4"/>
<ellipse cx="67.5" cy="214.1" rx="2.6" ry="1.95" transform="rotate(35 67.5 214.1)" stroke="#000" stroke-width="0.8" fill="#555"/>
<line x1="65.9" y1="213.3" x2="69.1" y2="214.9" stroke="#ddd" stroke-width="0.4"/>
<ellipse cx="73.5" cy="184.2" rx="2.6" ry="1.95" transform="rotate(35 73.5 184.2)" stroke="#000" stroke-width="0.8" fill="#555"/>
<line x1="71.9" y1="183.4" x2="75.1" y2="185" stroke="#ddd" stroke-width="0.4"/>
<ellipse cx="88.3" cy="181.9" rx="2.6" ry="1.95" transform="rotate(35 88.3 181.9)" stroke="#000" stroke-width="0.8" fill="#555"/>
<line x1="86.7" y1="181.1" x2="89.9" y2="182.7" stroke="#ddd" stroke-width="0.4"/>
<ellipse cx="94.6" cy="196.9" rx="2.6" ry="2.2" transform="rotate(30 94.6 196.9)" stroke="#0a1a80" stroke-width="0.5" fill="#1f3ff5"/>
<ellipse cx="89.3" cy="205.4" rx="2.6" ry="1.95" transform="rotate(35 89.3 205.4)" stroke="#000" stroke-width="0.8" fill="#555"/>
<line x1="87.7" y1="204.6" x2="90.9" y2="206.2" stroke="#ddd" stroke-width="0.4"/>
<ellipse cx="93.8" cy="220.3" rx="2.6" ry="1.95" transform="rotate(35 93.8 220.3)" stroke="#000" stroke-width="0.8" fill="#555"/>
<line x1="92.2" y1="219.5" x2="95.4" y2="221.1" stroke="#ddd" stroke-width="0.4"/>
<ellipse cx="109.9" cy="195" rx="2.6" ry="1.95" transform="rotate(35 109.9 195)" stroke="#000" stroke-width="0.8" fill="#555"/>
<line x1="108.3" y1="194.2" x2="111.5" y2="195.8" stroke="#ddd" stroke-width="0.4"/>
<ellipse cx="118.5" cy="209.6" rx="2.6" ry="1.95" transform="rotate(35 118.5 209.6)" stroke="#000" stroke-width="0.8" fill="#555"/>
<line x1="116.9" y1="208.8" x2="120.1" y2="210.4" stroke="#ddd" stroke-width="0.4"/>
<ellipse cx="131.3" cy="208.7" rx="2.6" ry="1.95" transform="rotate(35 131.3 208.7)" stroke="#000" stroke-width="0.8" fill="#555"/>
<line x1="129.7" y1="207.9" x2="132.9" y2="209.5" stroke="#ddd" stroke-width="0.4"/>
<ellipse cx="136.4" cy="195.9" rx="2.8" ry="2.3" transform="rotate(60 136.4 195.9)" stroke="#7a0000" stroke-width="0.5" fill="#ee1c24"/>
<ellipse cx="146.7" cy="189" rx="2.6" ry="1.95" transform="rotate(35 146.7 189)" stroke="#000" stroke-width="0.8" fill="#555"/>
<line x1="145.1" y1="188.2" x2="148.3" y2="189.8" stroke="#ddd" stroke-width="0.4"/>
<ellipse cx="109.9" cy="220.7" rx="2.6" ry="1.95" transform="rotate(35 109.9 220.7)" stroke="#000" stroke-width="0.8" fill="#555"/>
<line x1="108.3" y1="219.9" x2="111.5" y2="221.5" stroke="#ddd" stroke-width="0.4"/>
<ellipse cx="139" cy="220.7" rx="2.6" ry="1.95" transform="rotate(35 139 220.7)" stroke="#000" stroke-width="0.8" fill="#555"/>
<line x1="137.4" y1="219.9" x2="140.6" y2="221.5" stroke="#ddd" stroke-width="0.4"/>
<ellipse cx="150.9" cy="219.8" rx="2.8" ry="2.3" transform="rotate(60 150.9 219.8)" stroke="#7a0000" stroke-width="0.5" fill="#ee1c24"/>
<ellipse cx="158.6" cy="231" rx="2.6" ry="1.95" transform="rotate(35 158.6 231)" stroke="#000" stroke-width="0.8" fill="#555"/>
<line x1="157" y1="230.2" x2="160.2" y2="231.8" stroke="#ddd" stroke-width="0.4"/>
<ellipse cx="131.3" cy="231.8" rx="2.6" ry="1.95" transform="rotate(35 131.3 231.8)" stroke="#000" stroke-width="0.8" fill="#555"/>
<line x1="129.7" y1="231" x2="132.9" y2="232.6" stroke="#ddd" stroke-width="0.4"/>
<ellipse cx="118.5" cy="233.5" rx="2.6" ry="1.95" transform="rotate(35 118.5 233.5)" stroke="#000" stroke-width="0.8" fill="#555"/>
<line x1="116.9" y1="232.7" x2="120.1" y2="234.3" stroke="#ddd" stroke-width="0.4"/>
<ellipse cx="88.5" cy="229.2" rx="2.6" ry="1.95" transform="rotate(35 88.5 229.2)" stroke="#000" stroke-width="0.8" fill="#555"/>
<line x1="86.9" y1="228.4" x2="90.1" y2="230" stroke="#ddd" stroke-width="0.4"/>
<ellipse cx="88.1" cy="244.9" rx="2.6" ry="1.95" transform="rotate(35 88.1 244.9)" stroke="#000" stroke-width="0.8" fill="#555"/>
<line x1="86.5" y1="244.1" x2="89.7" y2="245.7" stroke="#ddd" stroke-width="0.4"/>
<ellipse cx="93" cy="256" rx="2.6" ry="1.95" transform="rotate(35 93 256)" stroke="#000" stroke-width="0.8" fill="#555"/>
<line x1="91.4" y1="255.2" x2="94.6" y2="256.8" stroke="#ddd" stroke-width="0.4"/>
<circle cx="28.2" cy="214.1" r="1.35" stroke="#2a9a2a" stroke-width="0.45" fill="#4ef04e"/>
<circle cx="30.8" cy="224.2" r="1.35" stroke="#2a9a2a" stroke-width="0.45" fill="#4ef04e"/>
<circle cx="46.2" cy="186.8" r="1.35" stroke="#2a9a2a" stroke-width="0.45" fill="#4ef04e"/>
<circle cx="73.5" cy="219.2" r="1.35" stroke="#2a9a2a" stroke-width="0.45" fill="#4ef04e"/>
<circle cx="69.2" cy="174.8" r="1.35" stroke="#2a9a2a" stroke-width="0.45" fill="#4ef04e"/>
<circle cx="72.8" cy="189.6" r="1.35" stroke="#2a9a2a" stroke-width="0.45" fill="#4ef04e"/>
<circle cx="88.9" cy="177.4" r="1.35" stroke="#2a9a2a" stroke-width="0.45" fill="#4ef04e"/>
<circle cx="93.2" cy="176.6" r="1.35" stroke="#2a9a2a" stroke-width="0.45" fill="#4ef04e"/>
<circle cx="95" cy="201" r="1.35" stroke="#2a9a2a" stroke-width="0.45" fill="#4ef04e"/>
<circle cx="98" cy="216" r="1.35" stroke="#2a9a2a" stroke-width="0.45" fill="#4ef04e"/>
<circle cx="111.3" cy="187" r="1.35" stroke="#2a9a2a" stroke-width="0.45" fill="#4ef04e"/>
<circle cx="114.6" cy="191.2" r="1.35" stroke="#2a9a2a" stroke-width="0.45" fill="#4ef04e"/>
<circle cx="146.7" cy="178.2" r="1.35" stroke="#2a9a2a" stroke-width="0.45" fill="#4ef04e"/>
<circle cx="155.2" cy="192.5" r="1.35" stroke="#2a9a2a" stroke-width="0.45" fill="#4ef04e"/>
<circle cx="142.2" cy="187.8" r="1.35" stroke="#2a9a2a" stroke-width="0.45" fill="#4ef04e"/>
<circle cx="167.2" cy="229.2" r="1.35" stroke="#2a9a2a" stroke-width="0.45" fill="#4ef04e"/>
<circle cx="153.6" cy="233.6" r="1.35" stroke="#2a9a2a" stroke-width="0.45" fill="#4ef04e"/>
<circle cx="159.5" cy="237.8" r="1.35" stroke="#2a9a2a" stroke-width="0.45" fill="#4ef04e"/>
<circle cx="133.5" cy="238.5" r="1.35" stroke="#2a9a2a" stroke-width="0.45" fill="#4ef04e"/>
<circle cx="113.5" cy="238" r="1.35" stroke="#2a9a2a" stroke-width="0.45" fill="#4ef04e"/>
<circle cx="80" cy="227.5" r="1.35" stroke="#2a9a2a" stroke-width="0.45" fill="#4ef04e"/>
<circle cx="92" cy="226" r="1.35" stroke="#2a9a2a" stroke-width="0.45" fill="#4ef04e"/>
<circle cx="85" cy="249.5" r="1.35" stroke="#2a9a2a" stroke-width="0.45" fill="#4ef04e"/>
<circle cx="101" cy="252.5" r="1.35" stroke="#2a9a2a" stroke-width="0.45" fill="#4ef04e"/>
<circle cx="93" cy="262.5" r="1.35" stroke="#2a9a2a" stroke-width="0.45" fill="#4ef04e"/>
<text x="35" y="200.81" font-size="6.5" text-anchor="middle" fill="#1e1e1e" stroke="#1e1e1e" stroke-width="0.25">O2</text>
<text x="38.5" y="224.71" font-size="6.5" text-anchor="middle" fill="#1e1e1e" stroke="#1e1e1e" stroke-width="0.25">C1</text>
<text x="53" y="226.51" font-size="6.5" text-anchor="middle" fill="#1e1e1e" stroke="#1e1e1e" stroke-width="0.25">O1</text>
<text x="43.6" y="197.41" font-size="6.5" text-anchor="middle" fill="#1e1e1e" stroke="#1e1e1e" stroke-width="0.25">C2</text>
<text x="59" y="218.81" font-size="6.5" text-anchor="middle" fill="#1e1e1e" stroke="#1e1e1e" stroke-width="0.25">C3</text>
<text x="54.7" y="190.61" font-size="6.5" text-anchor="middle" fill="#1e1e1e" stroke="#1e1e1e" stroke-width="0.25">C7</text>
<text x="65" y="188.91" font-size="6.5" text-anchor="middle" fill="#1e1e1e" stroke="#1e1e1e" stroke-width="0.25">C6</text>
<text x="75.2" y="212.81" font-size="6.5" text-anchor="middle" fill="#1e1e1e" stroke="#1e1e1e" stroke-width="0.25">C5</text>
<text x="67.5" y="220.51" font-size="6.5" text-anchor="middle" fill="#1e1e1e" stroke="#1e1e1e" stroke-width="0.25">C4</text>
<text x="78.6" y="180.31" font-size="6.5" text-anchor="middle" fill="#1e1e1e" stroke="#1e1e1e" stroke-width="0.25">C8</text>
<text x="96.2" y="184.31" font-size="6.5" text-anchor="middle" fill="#1e1e1e" stroke="#1e1e1e" stroke-width="0.25">C9</text>
<text x="98.8" y="192.91" font-size="6.5" text-anchor="middle" fill="#1e1e1e" stroke="#1e1e1e" stroke-width="0.25">N1</text>
<text x="84.3" y="213.41" font-size="6.5" text-anchor="middle" fill="#1e1e1e" stroke="#1e1e1e" stroke-width="0.25">C10</text>
<text x="118.5" y="198.91" font-size="6.5" text-anchor="middle" fill="#1e1e1e" stroke="#1e1e1e" stroke-width="0.25">C17</text>
<text x="121.9" y="205.71" font-size="6.5" text-anchor="middle" fill="#1e1e1e" stroke="#1e1e1e" stroke-width="0.25">C16</text>
<text x="139.8" y="211.71" font-size="6.5" text-anchor="middle" fill="#1e1e1e" stroke="#1e1e1e" stroke-width="0.25">C18</text>
<text x="143.2" y="204.01" font-size="6.5" text-anchor="middle" fill="#1e1e1e" stroke="#1e1e1e" stroke-width="0.25">O3</text>
<text x="153.5" y="184.71" font-size="6.5" text-anchor="middle" fill="#1e1e1e" stroke="#1e1e1e" stroke-width="0.25">C20</text>
<text x="119.3" y="222.81" font-size="6.5" text-anchor="middle" fill="#1e1e1e" stroke="#1e1e1e" stroke-width="0.25">C15</text>
<text x="99.7" y="227.91" font-size="6.5" text-anchor="middle" fill="#1e1e1e" stroke="#1e1e1e" stroke-width="0.25">C11</text>
<text x="140.7" y="229.61" font-size="6.5" text-anchor="middle" fill="#1e1e1e" stroke="#1e1e1e" stroke-width="0.25">C21</text>
<text x="153.5" y="213.41" font-size="6.5" text-anchor="middle" fill="#1e1e1e" stroke="#1e1e1e" stroke-width="0.25">O4</text>
<text x="166.3" y="237.31" font-size="6.5" text-anchor="middle" fill="#1e1e1e" stroke="#1e1e1e" stroke-width="0.25">C19</text>
<text x="139" y="235.61" font-size="6.5" text-anchor="middle" fill="#1e1e1e" stroke="#1e1e1e" stroke-width="0.25">C22</text>
<text x="123.6" y="239.01" font-size="6.5" text-anchor="middle" fill="#1e1e1e" stroke="#1e1e1e" stroke-width="0.25">C23</text>
<text x="96.2" y="236.51" font-size="6.5" text-anchor="middle" fill="#1e1e1e" stroke="#1e1e1e" stroke-width="0.25">C12</text>
<text x="98" y="246.51" font-size="6.5" text-anchor="middle" fill="#1e1e1e" stroke="#1e1e1e" stroke-width="0.25">C14</text>
<text x="103" y="258.61" font-size="6.5" text-anchor="middle" fill="#1e1e1e" stroke="#1e1e1e" stroke-width="0.25">C13</text>
<line x1="42.2" y1="245.15" x2="51" y2="250.1" stroke="#1e1e1e" stroke-width="1" stroke-linecap="round"/>
<line x1="51" y1="250.1" x2="51" y2="260" stroke="#1e1e1e" stroke-width="1" stroke-linecap="round"/>
<line x1="51" y1="260" x2="42.2" y2="264.95" stroke="#1e1e1e" stroke-width="1" stroke-linecap="round"/>
<line x1="42.2" y1="264.95" x2="33.4" y2="260" stroke="#1e1e1e" stroke-width="1" stroke-linecap="round"/>
<line x1="33.4" y1="260" x2="33.4" y2="250.1" stroke="#1e1e1e" stroke-width="1" stroke-linecap="round"/>
<line x1="33.4" y1="250.1" x2="42.2" y2="245.15" stroke="#1e1e1e" stroke-width="1" stroke-linecap="round"/>
<line x1="43.04" y1="247.69" x2="48.32" y2="250.66" stroke="#1e1e1e" stroke-width="0.9"/>
<line x1="48.32" y1="259.44" x2="43.04" y2="262.41" stroke="#1e1e1e" stroke-width="0.9"/>
<line x1="35.2" y1="258.02" x2="35.2" y2="252.08" stroke="#1e1e1e" stroke-width="0.9"/>
<line x1="33.4" y1="250.1" x2="26.86" y2="247.98" stroke="#1e1e1e" stroke-width="1" stroke-linecap="round"/>
<line x1="33.4" y1="260" x2="26.86" y2="262.12" stroke="#1e1e1e" stroke-width="1" stroke-linecap="round"/>
<line x1="22.21" y1="249.49" x2="18.16" y2="255.05" stroke="#1e1e1e" stroke-width="1" stroke-linecap="round"/>
<line x1="22.21" y1="260.61" x2="18.16" y2="255.05" stroke="#1e1e1e" stroke-width="1" stroke-linecap="round"/>
<text x="23.99" y="249.77" font-size="8.4" text-anchor="middle" fill="#1e1e1e" stroke="#1e1e1e" stroke-width="0.25">O</text>
<text x="23.99" y="265.79" font-size="8.4" text-anchor="middle" fill="#1e1e1e" stroke="#1e1e1e" stroke-width="0.25">O</text>
<line x1="51" y1="250.1" x2="59.8" y2="245.15" stroke="#1e1e1e" stroke-width="1" stroke-linecap="round"/>
<line x1="59.8" y1="245.15" x2="68.6" y2="250.1" stroke="#1e1e1e" stroke-width="1" stroke-linecap="round"/>
<line x1="68.6" y1="250.1" x2="68.6" y2="256.98" stroke="#1e1e1e" stroke-width="1" stroke-linecap="round"/>
<path d="M59.8 264.95 L66.08 262.91 L64.8 260.64 Z" stroke="#1e1e1e" stroke-width="0.4" fill="#1e1e1e"/>
<line x1="59.8" y1="264.95" x2="51" y2="260" stroke="#1e1e1e" stroke-width="1" stroke-linecap="round"/>
<line x1="71.24" y1="261.48" x2="77.4" y2="264.95" stroke="#1e1e1e" stroke-width="1" stroke-linecap="round"/>
<line x1="77.4" y1="264.95" x2="77.4" y2="274.85" stroke="#1e1e1e" stroke-width="1" stroke-linecap="round"/>
<line x1="59.8" y1="274.85" x2="68.6" y2="279.8" stroke="#1e1e1e" stroke-width="1" stroke-linecap="round"/>
<text x="68.6" y="262.73" font-size="8.4" text-anchor="middle" fill="#1e1e1e" stroke="#1e1e1e" stroke-width="0.25">N</text>
<line x1="59.8" y1="264.95" x2="59.8" y2="274.85" stroke="#1e1e1e" stroke-width="1" stroke-linecap="round"/>
<line x1="77.4" y1="274.85" x2="86.2" y2="279.8" stroke="#1e1e1e" stroke-width="1" stroke-linecap="round"/>
<line x1="86.2" y1="279.8" x2="86.2" y2="289.7" stroke="#1e1e1e" stroke-width="1" stroke-linecap="round"/>
<line x1="86.2" y1="289.7" x2="77.4" y2="294.65" stroke="#1e1e1e" stroke-width="1" stroke-linecap="round"/>
<line x1="77.4" y1="294.65" x2="68.6" y2="289.7" stroke="#1e1e1e" stroke-width="1" stroke-linecap="round"/>
<line x1="68.6" y1="289.7" x2="68.6" y2="279.8" stroke="#1e1e1e" stroke-width="1" stroke-linecap="round"/>
<line x1="68.6" y1="279.8" x2="77.4" y2="274.85" stroke="#1e1e1e" stroke-width="1" stroke-linecap="round"/>
<line x1="71.28" y1="280.36" x2="76.56" y2="277.39" stroke="#1e1e1e" stroke-width="0.9"/>
<line x1="84.4" y1="281.78" x2="84.4" y2="287.72" stroke="#1e1e1e" stroke-width="0.9"/>
<line x1="76.56" y1="292.11" x2="71.28" y2="289.14" stroke="#1e1e1e" stroke-width="0.9"/>
<line x1="86.2" y1="279.8" x2="92.36" y2="276.33" stroke="#1e1e1e" stroke-width="1" stroke-linecap="round"/>
<line x1="86.2" y1="289.7" x2="92.36" y2="293.17" stroke="#1e1e1e" stroke-width="1" stroke-linecap="round"/>
<line x1="97.64" y1="276.33" x2="103.8" y2="279.8" stroke="#1e1e1e" stroke-width="1" stroke-linecap="round"/>
<line x1="97.64" y1="293.17" x2="103.8" y2="289.7" stroke="#1e1e1e" stroke-width="1" stroke-linecap="round"/>
<text x="95" y="277.58" font-size="8.4" text-anchor="middle" fill="#1e1e1e" stroke="#1e1e1e" stroke-width="0.25">O</text>
<text x="95" y="297.38" font-size="8.4" text-anchor="middle" fill="#1e1e1e" stroke="#1e1e1e" stroke-width="0.25">O</text>
<path d="M59.8 274.85 L50.41 278.75 L51.59 280.85 Z" stroke="#1e1e1e" stroke-width="0.4" fill="#1e1e1e"/>
<line x1="51" y1="279.8" x2="51" y2="289.7" stroke="#1e1e1e" stroke-width="1" stroke-linecap="round"/>
<line x1="51" y1="289.7" x2="42.2" y2="294.65" stroke="#1e1e1e" stroke-width="1" stroke-linecap="round"/>
<line x1="50.5" y1="291.55" x2="42.58" y2="296" stroke="#1e1e1e" stroke-width="0.9"/>
<text x="11.9" y="276.8" font-size="8.3" text-anchor="start" fill="#1a1a1a" stroke="#1a1a1a" stroke-width="0.25">PSFL1191</text>
<rect x="192.2" y="178" width="123.4" height="101.5" rx="0" stroke="#3a3a3a" stroke-width="1.1" fill="none"/>
<line x1="189.4" y1="273.7" x2="192.2" y2="273.7" stroke="#3a3a3a" stroke-width="0.9"/>
<text x="188.3" y="275.97" font-size="7" text-anchor="end" fill="#1a1a1a" stroke="#1a1a1a" stroke-width="0.25">0</text>
<line x1="189.4" y1="251.55" x2="192.2" y2="251.55" stroke="#3a3a3a" stroke-width="0.9"/>
<text x="188.3" y="253.82" font-size="7" text-anchor="end" fill="#1a1a1a" stroke="#1a1a1a" stroke-width="0.25">100</text>
<line x1="189.4" y1="229.4" x2="192.2" y2="229.4" stroke="#3a3a3a" stroke-width="0.9"/>
<text x="188.3" y="231.67" font-size="7" text-anchor="end" fill="#1a1a1a" stroke="#1a1a1a" stroke-width="0.25">200</text>
<line x1="189.4" y1="207.25" x2="192.2" y2="207.25" stroke="#3a3a3a" stroke-width="0.9"/>
<text x="188.3" y="209.53" font-size="7" text-anchor="end" fill="#1a1a1a" stroke="#1a1a1a" stroke-width="0.25">300</text>
<line x1="189.4" y1="185.1" x2="192.2" y2="185.1" stroke="#3a3a3a" stroke-width="0.9"/>
<text x="188.3" y="187.38" font-size="7" text-anchor="end" fill="#1a1a1a" stroke="#1a1a1a" stroke-width="0.25">400</text>
<line x1="192" y1="279.5" x2="192" y2="282.3" stroke="#3a3a3a" stroke-width="0.9"/>
<text x="192" y="287.88" font-size="7" text-anchor="middle" fill="#1a1a1a" stroke="#1a1a1a" stroke-width="0.25">0</text>
<line x1="222.05" y1="279.5" x2="222.05" y2="282.3" stroke="#3a3a3a" stroke-width="0.9"/>
<text x="222.05" y="287.88" font-size="7" text-anchor="middle" fill="#1a1a1a" stroke="#1a1a1a" stroke-width="0.25">2.5</text>
<line x1="252.1" y1="279.5" x2="252.1" y2="282.3" stroke="#3a3a3a" stroke-width="0.9"/>
<text x="252.1" y="287.88" font-size="7" text-anchor="middle" fill="#1a1a1a" stroke="#1a1a1a" stroke-width="0.25">5</text>
<line x1="282.15" y1="279.5" x2="282.15" y2="282.3" stroke="#3a3a3a" stroke-width="0.9"/>
<text x="282.15" y="287.88" font-size="7" text-anchor="middle" fill="#1a1a1a" stroke="#1a1a1a" stroke-width="0.25">7.5</text>
<line x1="312.2" y1="279.5" x2="312.2" y2="282.3" stroke="#3a3a3a" stroke-width="0.9"/>
<text x="312.2" y="287.88" font-size="7" text-anchor="middle" fill="#1a1a1a" stroke="#1a1a1a" stroke-width="0.25">10</text>
<path d="M192.24 273.7 L192.42 273.7 L192.59 273.7 L192.77 273.7 L192.94 273.7 L193.12 273.7 L193.29 273.7 L193.47 273.7 L193.65 273.7 L193.82 273.7 L194 273.7 L194.17 273.7 L194.35 273.7 L194.52 273.7 L194.7 273.7 L194.88 273.7 L195.05 273.7 L195.23 273.7 L195.4 273.7 L195.58 273.7 L195.75 273.7 L195.93 273.7 L196.11 273.7 L196.28 273.7 L196.46 273.7 L196.63 273.7 L196.81 273.7 L196.98 273.7 L197.16 273.7 L197.33 273.7 L197.51 273.7 L197.69 273.7 L197.86 273.7 L198.04 273.7 L198.21 273.7 L198.39 273.7 L198.56 273.7 L198.74 273.7 L198.92 273.7 L199.09 273.7 L199.27 273.7 L199.44 273.7 L199.62 273.7 L199.79 273.7 L199.97 273.7 L200.15 273.7 L200.32 273.7 L200.5 273.7 L200.67 273.7 L200.85 273.7 L201.02 273.7 L201.2 273.7 L201.37 273.7 L201.55 273.7 L201.73 273.7 L201.9 273.7 L202.08 273.7 L202.25 273.7 L202.43 273.7 L202.6 273.7 L202.78 273.7 L202.96 273.7 L203.13 273.7 L203.31 273.7 L203.48 273.7 L203.66 273.7 L203.83 273.7 L204.01 273.7 L204.19 273.7 L204.36 273.7 L204.54 273.7 L204.71 273.7 L204.89 273.7 L205.06 273.7 L205.24 273.7 L205.42 273.7 L205.59 273.7 L205.77 273.7 L205.94 273.7 L206.12 273.7 L206.29 273.7 L206.47 273.7 L206.64 273.7 L206.82 273.7 L207 273.7 L207.17 273.7 L207.35 273.7 L207.52 273.7 L207.7 273.7 L207.87 273.7 L208.05 273.7 L208.23 273.7 L208.4 273.7 L208.58 273.7 L208.75 273.7 L208.93 273.7 L209.1 273.7 L209.28 273.7 L209.46 273.7 L209.63 273.7 L209.81 273.7 L209.98 273.7 L210.16 273.7 L210.33 273.7 L210.51 273.7 L210.69 273.7 L210.86 273.7 L211.04 273.7 L211.21 273.7 L211.39 273.7 L211.56 273.7 L211.74 273.7 L211.91 273.7 L212.09 273.7 L212.27 273.7 L212.44 273.7 L212.62 273.7 L212.79 273.7 L212.97 273.7 L213.14 273.7 L213.32 273.7 L213.5 273.7 L213.67 273.7 L213.85 273.7 L214.02 273.7 L214.2 273.7 L214.37 273.7 L214.55 273.69 L214.73 273.65 L214.9 273.56 L215.08 273.33 L215.25 272.84 L215.43 271.95 L215.6 270.57 L215.78 268.81 L215.96 267 L216.13 265.66 L216.31 265.26 L216.48 265.91 L216.66 267.37 L216.83 269.1 L217.01 270.6 L217.18 271.59 L217.36 272.02 L217.54 272.01 L217.71 271.74 L217.89 271.36 L218.06 270.99 L218.24 270.71 L218.41 270.59 L218.59 270.65 L218.77 270.88 L218.94 271.24 L219.12 271.68 L219.29 272.13 L219.47 272.55 L219.64 272.9 L219.82 273.17 L220 273.37 L220.17 273.49 L220.35 273.57 L220.52 273.61 L220.7 273.64 L220.87 273.64 L221.05 273.65 L221.22 273.64 L221.4 273.64 L221.58 273.63 L221.75 273.63 L221.93 273.62 L222.1 273.62 L222.28 273.61 L222.45 273.6 L222.63 273.59 L222.81 273.59 L222.98 273.58 L223.16 273.57 L223.33 273.56 L223.51 273.55 L223.68 273.54 L223.86 273.53 L224.04 273.52 L224.21 273.51 L224.39 273.5 L224.56 273.49 L224.74 273.48 L224.91 273.47 L225.09 273.46 L225.27 273.45 L225.44 273.44 L225.62 273.44 L225.79 273.43 L225.97 273.42 L226.14 273.41 L226.32 273.4 L226.49 273.4 L226.67 273.39 L226.85 273.39 L227.02 273.38 L227.2 273.38 L227.37 273.37 L227.55 273.37 L227.72 273.37 L227.9 273.37 L228.08 273.37 L228.25 273.37 L228.43 273.37 L228.6 273.37 L228.78 273.37 L228.95 273.38 L229.13 273.38 L229.31 273.39 L229.48 273.39 L229.66 273.4 L229.83 273.41 L230.01 273.41 L230.18 273.42 L230.36 273.43 L230.54 273.44 L230.71 273.45 L230.89 273.46 L231.06 273.47 L231.24 273.47 L231.41 273.48 L231.59 273.49 L231.76 273.5 L231.94 273.51 L232.12 273.52 L232.29 273.53 L232.47 273.54 L232.64 273.55 L232.82 273.56 L232.99 273.57 L233.17 273.58 L233.35 273.59 L233.52 273.59 L233.7 273.6 L233.87 273.61 L234.05 273.62 L234.22 273.62 L234.4 273.63 L234.58 273.64 L234.75 273.64 L234.93 273.65 L235.1 273.65 L235.28 273.66 L235.45 273.66 L235.63 273.66 L235.81 273.67 L235.98 273.67 L236.16 273.67 L236.33 273.68 L236.51 273.68 L236.68 273.68 L236.86 273.68 L237.03 273.68 L237.21 273.69 L237.39 273.69 L237.56 273.69 L237.74 273.69 L237.91 273.69 L238.09 273.69 L238.26 273.69 L238.44 273.69 L238.62 273.69 L238.79 273.69 L238.97 273.69 L239.14 273.69 L239.32 273.68 L239.49 273.67 L239.67 273.66 L239.85 273.63 L240.02 273.59 L240.2 273.53 L240.37 273.44 L240.55 273.32 L240.72 273.16 L240.9 272.96 L241.07 272.72 L241.25 272.43 L241.43 272.13 L241.6 271.81 L241.78 271.5 L241.95 271.23 L242.13 271.01 L242.3 270.87 L242.48 270.82 L242.66 270.84 L242.83 270.91 L243.01 271.03 L243.18 271.18 L243.36 271.37 L243.53 271.58 L243.71 271.8 L243.89 272.03 L244.06 272.25 L244.24 272.47 L244.41 272.67 L244.59 272.85 L244.76 273.01 L244.94 273.15 L245.12 273.27 L245.29 273.37 L245.47 273.45 L245.64 273.52 L245.82 273.57 L245.99 273.6 L246.17 273.63 L246.34 273.65 L246.52 273.67 L246.7 273.68 L246.87 273.69 L247.05 273.69 L247.22 273.69 L247.4 273.7 L247.57 273.7 L247.75 273.7 L247.93 273.7 L248.1 273.7 L248.28 273.7 L248.45 273.7 L248.63 273.7 L248.8 273.7 L248.98 273.7 L249.16 273.7 L249.33 273.7 L249.51 273.7 L249.68 273.7 L249.86 273.7 L250.03 273.7 L250.21 273.7 L250.39 273.7 L250.56 273.7 L250.74 273.7 L250.91 273.7 L251.09 273.7 L251.26 273.7 L251.44 273.7 L251.61 273.7 L251.79 273.7 L251.97 273.7 L252.14 273.7 L252.32 273.7 L252.49 273.7 L252.67 273.7 L252.84 273.7 L253.02 273.7 L253.2 273.7 L253.37 273.7 L253.55 273.7 L253.72 273.7 L253.9 273.7 L254.07 273.7 L254.25 273.7 L254.43 273.7 L254.6 273.7 L254.78 273.7 L254.95 273.7 L255.13 273.7 L255.3 273.7 L255.48 273.69 L255.66 273.68 L255.83 273.67 L256.01 273.65 L256.18 273.62 L256.36 273.58 L256.53 273.52 L256.71 273.46 L256.88 273.4 L257.06 273.33 L257.24 273.29 L257.41 273.26 L257.59 273.26 L257.76 273.28 L257.94 273.33 L258.11 273.39 L258.29 273.45 L258.47 273.52 L258.64 273.57 L258.82 273.61 L258.99 273.65 L259.17 273.67 L259.34 273.68 L259.52 273.69 L259.7 273.7 L259.87 273.7 L260.05 273.7 L260.22 273.7 L260.4 273.7 L260.57 273.7 L260.75 273.7 L260.92 273.7 L261.1 273.7 L261.28 273.7 L261.45 273.7 L261.63 273.7 L261.8 273.7 L261.98 273.7 L262.15 273.7 L262.33 273.7 L262.51 273.7 L262.68 273.7 L262.86 273.7 L263.03 273.7 L263.21 273.7 L263.38 273.7 L263.56 273.7 L263.74 273.7 L263.91 273.7 L264.09 273.7 L264.26 273.7 L264.44 273.7 L264.61 273.7 L264.79 273.7 L264.97 273.7 L265.14 273.7 L265.32 273.7 L265.49 273.7 L265.67 273.7 L265.84 273.7 L266.02 273.7 L266.19 273.7 L266.37 273.7 L266.55 273.7 L266.72 273.7 L266.9 273.7 L267.07 273.7 L267.25 273.7 L267.42 273.7 L267.6 273.7 L267.78 273.7 L267.95 273.69 L268.13 273.68 L268.3 273.66 L268.48 273.61 L268.65 273.49 L268.83 273.27 L269.01 272.83 L269.18 272.05 L269.36 270.71 L269.53 268.55 L269.71 265.27 L269.88 260.58 L270.06 254.3 L270.24 246.42 L270.41 237.23 L270.59 227.34 L270.76 217.68 L270.94 209.34 L271.11 203.41 L271.29 200.72 L271.46 200.97 L271.64 202.55 L271.82 205.3 L271.99 209.09 L272.17 213.72 L272.34 218.99 L272.52 224.66 L272.69 230.51 L272.87 236.31 L273.05 241.9 L273.22 247.12 L273.4 251.87 L273.57 256.08 L273.75 259.73 L273.92 262.81 L274.1 265.36 L274.28 267.43 L274.45 269.06 L274.63 270.33 L274.8 271.29 L274.98 272.01 L275.15 272.54 L275.33 272.91 L275.51 273.17 L275.68 273.36 L275.86 273.48 L276.03 273.56 L276.21 273.61 L276.38 273.65 L276.56 273.67 L276.73 273.68 L276.91 273.69 L277.09 273.69 L277.26 273.7 L277.44 273.7 L277.61 273.7 L277.79 273.7 L277.96 273.7 L278.14 273.7 L278.32 273.7 L278.49 273.7 L278.67 273.7 L278.84 273.7 L279.02 273.7 L279.19 273.7 L279.37 273.7 L279.55 273.7 L279.72 273.7 L279.9 273.7 L280.07 273.7 L280.25 273.7 L280.42 273.7 L280.6 273.7 L280.77 273.7 L280.95 273.7 L281.13 273.7 L281.3 273.7 L281.48 273.7 L281.65 273.7 L281.83 273.7 L282 273.7 L282.18 273.7 L282.36 273.7 L282.53 273.7 L282.71 273.7 L282.88 273.7 L283.06 273.7 L283.23 273.7 L283.41 273.7 L283.59 273.7 L283.76 273.7 L283.94 273.7 L284.11 273.7 L284.29 273.7 L284.46 273.7 L284.64 273.7 L284.82 273.7 L284.99 273.7 L285.17 273.7 L285.34 273.7 L285.52 273.7 L285.69 273.7 L285.87 273.7 L286.04 273.7 L286.22 273.7 L286.4 273.7 L286.57 273.7 L286.75 273.7 L286.92 273.7 L287.1 273.7 L287.27 273.7 L287.45 273.7 L287.63 273.7 L287.8 273.7 L287.98 273.7 L288.15 273.7 L288.33 273.7 L288.5 273.7 L288.68 273.7 L288.86 273.7 L289.03 273.7 L289.21 273.7 L289.38 273.7 L289.56 273.7 L289.73 273.7 L289.91 273.7 L290.09 273.7 L290.26 273.7 L290.44 273.7 L290.61 273.7 L290.79 273.7 L290.96 273.7 L291.14 273.7 L291.31 273.7 L291.49 273.7 L291.67 273.7 L291.84 273.7 L292.02 273.7 L292.19 273.7 L292.37 273.7 L292.54 273.7 L292.72 273.7 L292.9 273.7 L293.07 273.7 L293.25 273.7 L293.42 273.7 L293.6 273.7 L293.77 273.7 L293.95 273.7 L294.13 273.7 L294.3 273.7 L294.48 273.7 L294.65 273.7 L294.83 273.7 L295 273.7 L295.18 273.7 L295.36 273.7 L295.53 273.7 L295.71 273.7 L295.88 273.7 L296.06 273.7 L296.23 273.7 L296.41 273.7 L296.58 273.7 L296.76 273.7 L296.94 273.7 L297.11 273.7 L297.29 273.7 L297.46 273.7 L297.64 273.7 L297.81 273.7 L297.99 273.7 L298.17 273.7 L298.34 273.7 L298.52 273.7 L298.69 273.7 L298.87 273.7 L299.04 273.7 L299.22 273.7 L299.4 273.7 L299.57 273.7 L299.75 273.7 L299.92 273.7 L300.1 273.7 L300.27 273.7 L300.45 273.7 L300.62 273.7 L300.8 273.7 L300.98 273.7 L301.15 273.7 L301.33 273.7 L301.5 273.7 L301.68 273.7 L301.85 273.7 L302.03 273.7 L302.21 273.7 L302.38 273.7 L302.56 273.7 L302.73 273.7 L302.91 273.7 L303.08 273.7 L303.26 273.7 L303.44 273.7 L303.61 273.7 L303.79 273.7 L303.96 273.7 L304.14 273.7 L304.31 273.7 L304.49 273.7 L304.67 273.7 L304.84 273.7 L305.02 273.7 L305.19 273.7 L305.37 273.7 L305.54 273.7 L305.72 273.7 L305.89 273.7 L306.07 273.7 L306.25 273.7 L306.42 273.7 L306.6 273.7 L306.77 273.7 L306.95 273.7 L307.12 273.7 L307.3 273.7 L307.48 273.7 L307.65 273.7 L307.83 273.7 L308 273.7 L308.18 273.7 L308.35 273.7 L308.53 273.7 L308.71 273.7 L308.88 273.7 L309.06 273.7 L309.23 273.7 L309.41 273.7 L309.58 273.7 L309.76 273.7 L309.94 273.7 L310.11 273.7 L310.29 273.7 L310.46 273.7 L310.64 273.7 L310.81 273.7 L310.99 273.7 L311.16 273.7 L311.34 273.7 L311.52 273.7 L311.69 273.7 L311.87 273.7 L312.04 273.7 L312.22 273.7 L312.39 273.7 L312.57 273.7 L312.75 273.7 L312.92 273.7 L313.1 273.7 L313.27 273.7 L313.45 273.7 L313.62 273.7 L313.8 273.7 L313.98 273.7 L314.15 273.7 L314.33 273.7 L314.5 273.7 L314.68 273.7 L314.85 273.7 L315.03 273.7 L315.2 273.7" stroke="#555" stroke-width="0.75" fill="none"/>
<text x="189" y="176.28" font-size="7" text-anchor="middle" fill="#1a1a1a" stroke="#1a1a1a" stroke-width="0.25">mV</text>
<text x="195.8" y="189.18" font-size="7" text-anchor="start" fill="#1a1a1a" stroke="#1a1a1a" stroke-width="0.25">PSFL1191</text>
<text x="272.3" y="201.25" font-size="6" text-anchor="middle" fill="#1a1a1a" stroke="#1a1a1a" stroke-width="0.25">*</text>
<text x="275.8" y="201.58" font-size="7" text-anchor="start" fill="#1a1a1a" stroke="#1a1a1a" stroke-width="0.25">6.488</text>
<text x="258.3" y="274.65" font-size="6" text-anchor="middle" fill="#1a1a1a" stroke="#1a1a1a" stroke-width="0.25">*</text>
<text x="249" y="267.77" font-size="7" text-anchor="start" fill="#1a1a1a" stroke="#1a1a1a" stroke-width="0.25">5.444</text>
<text x="248.6" y="297.01" font-size="7.1" text-anchor="middle" fill="#1a1a1a" stroke="#1a1a1a" stroke-width="0.25">Time (min)</text>
<text x="428" y="166.9" font-size="8.3" text-anchor="middle" fill="#1a1a1a" stroke="#1a1a1a" stroke-width="0.25">hP2X7</text>
<text x="379.9" y="178.97" font-size="7" text-anchor="start" fill="#1f9a6c" stroke="#1f9a6c" stroke-width="0.25">1 μM PSFL1191</text>
<text x="443.9" y="182.58" font-size="7" text-anchor="start" fill="#1a1a1a" stroke="#1a1a1a" stroke-width="0.25">1 mM ATP</text>
<line x1="359.9" y1="193.5" x2="373.9" y2="193.5" stroke="#2a2a2a" stroke-width="0.9"/>
<line x1="373.9" y1="193.5" x2="373.9" y2="227.6" stroke="#9a9a9a" stroke-width="0.55"/>
<line x1="373.9" y1="227.6" x2="385.2" y2="230.4" stroke="#2a2a2a" stroke-width="0.9"/>
<line x1="385.2" y1="230.4" x2="385.2" y2="194.7" stroke="#9a9a9a" stroke-width="0.55"/>
<line x1="385.2" y1="194.7" x2="400.2" y2="193.6" stroke="#2a2a2a" stroke-width="0.9"/>
<rect x="374.5" y="187.5" width="12" height="4" rx="0" stroke="#333" stroke-width="0.95" fill="#fff"/>
<line x1="403.2" y1="195.8" x2="404.67" y2="191.3" stroke="#3a3a3a" stroke-width="0.7"/>
<line x1="405.23" y1="195.8" x2="406.7" y2="191.3" stroke="#3a3a3a" stroke-width="0.7"/>
<line x1="376.2" y1="198.5" x2="431.4" y2="198.5" stroke="#999" stroke-width="0.6" stroke-dasharray="1.2 1"/>
<path d="M411.2 193.5 L416 193.6 L419.5 194.6 L423 195 L425.3 195.3 L425.9 196.3 L426.4 193.5 L443.2 193.5" stroke="#2a2a2a" stroke-width="0.8" fill="none"/>
<rect x="419.5" y="187.5" width="9" height="3" rx="0" stroke="#333" stroke-width="0.95" fill="#fff"/>
<rect x="415.5" y="181.9" width="11.9" height="4.6" rx="0" stroke="#3cb84a" stroke-width="1.05" fill="#fff"/>
<line x1="445.3" y1="195.7" x2="446.77" y2="191.5" stroke="#3a3a3a" stroke-width="0.7"/>
<line x1="447.33" y1="195.7" x2="448.8" y2="191.5" stroke="#3a3a3a" stroke-width="0.7"/>
<line x1="452.2" y1="193.6" x2="464.2" y2="193.6" stroke="#666" stroke-width="0.9"/>
<line x1="464.2" y1="193.6" x2="464.2" y2="217.5" stroke="#9a9a9a" stroke-width="0.55"/>
<path d="M464.2 217.5 C464.76 223.48 469.24 226.7 475.4 226.7" stroke="#2a2a2a" stroke-width="0.9" fill="none"/>
<line x1="475.4" y1="226.7" x2="475.4" y2="194.3" stroke="#9a9a9a" stroke-width="0.55"/>
<line x1="475.4" y1="194.3" x2="481.4" y2="194.1" stroke="#2a2a2a" stroke-width="0.9"/>
<rect x="464.5" y="187.5" width="11" height="4" rx="0" stroke="#333" stroke-width="0.95" fill="#fff"/>
<line x1="448.1" y1="204.7" x2="448.1" y2="217.9" stroke="#777" stroke-width="0.7"/>
<line x1="448.1" y1="217.9" x2="457.8" y2="217.9" stroke="#777" stroke-width="0.7"/>
<text transform="translate(440.98 212.7) rotate(90)" font-size="7" text-anchor="middle" fill="#1a1a1a" stroke="#1a1a1a" stroke-width="0.25">1 nA</text>
<text x="446" y="225.08" font-size="7" text-anchor="start" fill="#1a1a1a" stroke="#1a1a1a" stroke-width="0.25">2 min</text>
<text x="385.8" y="243.78" font-size="7" text-anchor="start" fill="#8a2cf2" stroke="#8a2cf2" stroke-width="0.25">30 μM PSFL1190</text>
<line x1="358.9" y1="258.3" x2="372.6" y2="258.3" stroke="#2a2a2a" stroke-width="0.9"/>
<line x1="372.6" y1="258.3" x2="372.6" y2="283.6" stroke="#9a9a9a" stroke-width="0.55"/>
<path d="M372.6 283.6 C372.95 288.15 375.71 290.6 379.5 290.6" stroke="#2a2a2a" stroke-width="0.9" fill="none"/>
<line x1="379.5" y1="290.6" x2="379.5" y2="258.3" stroke="#9a9a9a" stroke-width="0.55"/>
<line x1="379.5" y1="258.3" x2="387.6" y2="258.4" stroke="#666" stroke-width="0.9"/>
<rect x="372.5" y="252.5" width="8" height="4" rx="0" stroke="#333" stroke-width="0.95" fill="#fff"/>
<line x1="393.2" y1="260.5" x2="394.67" y2="255.8" stroke="#3a3a3a" stroke-width="0.7"/>
<line x1="395.23" y1="260.5" x2="396.7" y2="255.8" stroke="#3a3a3a" stroke-width="0.7"/>
<line x1="402.2" y1="259.7" x2="413.6" y2="258.3" stroke="#2a2a2a" stroke-width="0.9"/>
<line x1="413.6" y1="258.3" x2="413.6" y2="276.7" stroke="#9a9a9a" stroke-width="0.55"/>
<line x1="413.6" y1="276.7" x2="418.4" y2="277.8" stroke="#2a2a2a" stroke-width="0.9"/>
<line x1="418.4" y1="277.8" x2="418.4" y2="258.3" stroke="#9a9a9a" stroke-width="0.55"/>
<line x1="418.4" y1="258.3" x2="430" y2="258.3" stroke="#666" stroke-width="0.9"/>
<rect x="413.5" y="252.5" width="5" height="4" rx="0" stroke="#333" stroke-width="0.95" fill="#fff"/>
<rect x="407.7" y="246.3" width="9.7" height="5.1" rx="0" stroke="#8a2cf2" stroke-width="1.05" fill="#fff"/>
<line x1="435.3" y1="260.2" x2="436.77" y2="255.5" stroke="#3a3a3a" stroke-width="0.7"/>
<line x1="437.33" y1="260.2" x2="438.8" y2="255.5" stroke="#3a3a3a" stroke-width="0.7"/>
<line x1="446.2" y1="257.9" x2="459.5" y2="257.9" stroke="#666" stroke-width="0.9"/>
<line x1="459.5" y1="257.9" x2="459.5" y2="277" stroke="#9a9a9a" stroke-width="0.55"/>
<path d="M459.5 277 C460.23 286.43 466.02 291.5 474 291.5" stroke="#2a2a2a" stroke-width="0.9" fill="none"/>
<line x1="474" y1="291.5" x2="474" y2="258.2" stroke="#9a9a9a" stroke-width="0.55"/>
<line x1="474" y1="258.2" x2="476.4" y2="258.2" stroke="#2a2a2a" stroke-width="0.9"/>
<line x1="476.4" y1="258.2" x2="483.8" y2="258.9" stroke="#666" stroke-width="0.9"/>
<rect x="459.5" y="252.5" width="14" height="3" rx="0" stroke="#333" stroke-width="0.95" fill="#fff"/>
<line x1="448.2" y1="267.9" x2="448.2" y2="288.8" stroke="#777" stroke-width="0.7"/>
<line x1="448.2" y1="288.8" x2="458.4" y2="288.8" stroke="#777" stroke-width="0.7"/>
<text transform="translate(441.88 281) rotate(90)" font-size="7" text-anchor="middle" fill="#1a1a1a" stroke="#1a1a1a" stroke-width="0.25">2 nA</text>
<text x="448.7" y="296.07" font-size="7" text-anchor="start" fill="#1a1a1a" stroke="#1a1a1a" stroke-width="0.25">2 min</text>
<rect x="534.3" y="172.3" width="144.4" height="110.1" rx="0" stroke="#3a3a3a" stroke-width="1.1" fill="none"/>
<line x1="531.3" y1="282" x2="534.3" y2="282" stroke="#3a3a3a" stroke-width="0.9"/>
<line x1="531.3" y1="263.76" x2="534.3" y2="263.76" stroke="#3a3a3a" stroke-width="0.9"/>
<line x1="531.3" y1="245.52" x2="534.3" y2="245.52" stroke="#3a3a3a" stroke-width="0.9"/>
<line x1="531.3" y1="227.28" x2="534.3" y2="227.28" stroke="#3a3a3a" stroke-width="0.9"/>
<line x1="531.3" y1="209.04" x2="534.3" y2="209.04" stroke="#3a3a3a" stroke-width="0.9"/>
<line x1="531.3" y1="190.8" x2="534.3" y2="190.8" stroke="#3a3a3a" stroke-width="0.9"/>
<line x1="531.3" y1="172.56" x2="534.3" y2="172.56" stroke="#3a3a3a" stroke-width="0.9"/>
<line x1="532.7" y1="272.88" x2="534.3" y2="272.88" stroke="#3a3a3a" stroke-width="0.8"/>
<line x1="532.7" y1="254.64" x2="534.3" y2="254.64" stroke="#3a3a3a" stroke-width="0.8"/>
<line x1="532.7" y1="236.4" x2="534.3" y2="236.4" stroke="#3a3a3a" stroke-width="0.8"/>
<line x1="532.7" y1="218.16" x2="534.3" y2="218.16" stroke="#3a3a3a" stroke-width="0.8"/>
<line x1="532.7" y1="199.92" x2="534.3" y2="199.92" stroke="#3a3a3a" stroke-width="0.8"/>
<line x1="532.7" y1="181.68" x2="534.3" y2="181.68" stroke="#3a3a3a" stroke-width="0.8"/>
<line x1="541" y1="282.4" x2="541" y2="285.4" stroke="#3a3a3a" stroke-width="0.9"/>
<line x1="550.24" y1="282.4" x2="550.24" y2="284" stroke="#3a3a3a" stroke-width="0.7"/>
<line x1="555.65" y1="282.4" x2="555.65" y2="284" stroke="#3a3a3a" stroke-width="0.7"/>
<line x1="559.48" y1="282.4" x2="559.48" y2="284" stroke="#3a3a3a" stroke-width="0.7"/>
<line x1="562.46" y1="282.4" x2="562.46" y2="284" stroke="#3a3a3a" stroke-width="0.7"/>
<line x1="564.89" y1="282.4" x2="564.89" y2="284" stroke="#3a3a3a" stroke-width="0.7"/>
<line x1="566.94" y1="282.4" x2="566.94" y2="284" stroke="#3a3a3a" stroke-width="0.7"/>
<line x1="568.72" y1="282.4" x2="568.72" y2="284" stroke="#3a3a3a" stroke-width="0.7"/>
<line x1="570.3" y1="282.4" x2="570.3" y2="284" stroke="#3a3a3a" stroke-width="0.7"/>
<line x1="571.7" y1="282.4" x2="571.7" y2="285.4" stroke="#3a3a3a" stroke-width="0.9"/>
<line x1="580.94" y1="282.4" x2="580.94" y2="284" stroke="#3a3a3a" stroke-width="0.7"/>
<line x1="586.35" y1="282.4" x2="586.35" y2="284" stroke="#3a3a3a" stroke-width="0.7"/>
<line x1="590.18" y1="282.4" x2="590.18" y2="284" stroke="#3a3a3a" stroke-width="0.7"/>
<line x1="593.16" y1="282.4" x2="593.16" y2="284" stroke="#3a3a3a" stroke-width="0.7"/>
<line x1="595.59" y1="282.4" x2="595.59" y2="284" stroke="#3a3a3a" stroke-width="0.7"/>
<line x1="597.64" y1="282.4" x2="597.64" y2="284" stroke="#3a3a3a" stroke-width="0.7"/>
<line x1="599.42" y1="282.4" x2="599.42" y2="284" stroke="#3a3a3a" stroke-width="0.7"/>
<line x1="601" y1="282.4" x2="601" y2="284" stroke="#3a3a3a" stroke-width="0.7"/>
<line x1="602.4" y1="282.4" x2="602.4" y2="285.4" stroke="#3a3a3a" stroke-width="0.9"/>
<line x1="611.64" y1="282.4" x2="611.64" y2="284" stroke="#3a3a3a" stroke-width="0.7"/>
<line x1="617.05" y1="282.4" x2="617.05" y2="284" stroke="#3a3a3a" stroke-width="0.7"/>
<line x1="620.88" y1="282.4" x2="620.88" y2="284" stroke="#3a3a3a" stroke-width="0.7"/>
<line x1="623.86" y1="282.4" x2="623.86" y2="284" stroke="#3a3a3a" stroke-width="0.7"/>
<line x1="626.29" y1="282.4" x2="626.29" y2="284" stroke="#3a3a3a" stroke-width="0.7"/>
<line x1="628.34" y1="282.4" x2="628.34" y2="284" stroke="#3a3a3a" stroke-width="0.7"/>
<line x1="630.12" y1="282.4" x2="630.12" y2="284" stroke="#3a3a3a" stroke-width="0.7"/>
<line x1="631.7" y1="282.4" x2="631.7" y2="284" stroke="#3a3a3a" stroke-width="0.7"/>
<line x1="633.1" y1="282.4" x2="633.1" y2="285.4" stroke="#3a3a3a" stroke-width="0.9"/>
<line x1="642.34" y1="282.4" x2="642.34" y2="284" stroke="#3a3a3a" stroke-width="0.7"/>
<line x1="647.75" y1="282.4" x2="647.75" y2="284" stroke="#3a3a3a" stroke-width="0.7"/>
<line x1="651.58" y1="282.4" x2="651.58" y2="284" stroke="#3a3a3a" stroke-width="0.7"/>
<line x1="654.56" y1="282.4" x2="654.56" y2="284" stroke="#3a3a3a" stroke-width="0.7"/>
<line x1="656.99" y1="282.4" x2="656.99" y2="284" stroke="#3a3a3a" stroke-width="0.7"/>
<line x1="659.04" y1="282.4" x2="659.04" y2="284" stroke="#3a3a3a" stroke-width="0.7"/>
<line x1="660.82" y1="282.4" x2="660.82" y2="284" stroke="#3a3a3a" stroke-width="0.7"/>
<line x1="662.4" y1="282.4" x2="662.4" y2="284" stroke="#3a3a3a" stroke-width="0.7"/>
<line x1="663.8" y1="282.4" x2="663.8" y2="285.4" stroke="#3a3a3a" stroke-width="0.9"/>
<line x1="673.04" y1="282.4" x2="673.04" y2="284" stroke="#3a3a3a" stroke-width="0.7"/>
<text x="530.4" y="284.47" font-size="7.6" text-anchor="end" fill="#1a1a1a" stroke="#1a1a1a" stroke-width="0.25">0.0</text>
<text x="530.4" y="266.23" font-size="7.6" text-anchor="end" fill="#1a1a1a" stroke="#1a1a1a" stroke-width="0.25">0.2</text>
<text x="530.4" y="247.99" font-size="7.6" text-anchor="end" fill="#1a1a1a" stroke="#1a1a1a" stroke-width="0.25">0.4</text>
<text x="530.4" y="229.75" font-size="7.6" text-anchor="end" fill="#1a1a1a" stroke="#1a1a1a" stroke-width="0.25">0.6</text>
<text x="530.4" y="211.51" font-size="7.6" text-anchor="end" fill="#1a1a1a" stroke="#1a1a1a" stroke-width="0.25">0.8</text>
<text x="530.4" y="193.27" font-size="7.6" text-anchor="end" fill="#1a1a1a" stroke="#1a1a1a" stroke-width="0.25">1.0</text>
<text x="530.4" y="175.03" font-size="7.6" text-anchor="end" fill="#1a1a1a" stroke="#1a1a1a" stroke-width="0.25">1.2</text>
<text x="541" y="291.37" font-size="7.6" text-anchor="middle" fill="#1a1a1a" stroke="#1a1a1a" stroke-width="0.25">0.01</text>
<text x="571.7" y="291.37" font-size="7.6" text-anchor="middle" fill="#1a1a1a" stroke="#1a1a1a" stroke-width="0.25">0.1</text>
<text x="602.4" y="291.37" font-size="7.6" text-anchor="middle" fill="#1a1a1a" stroke="#1a1a1a" stroke-width="0.25">1</text>
<text x="633.1" y="291.37" font-size="7.6" text-anchor="middle" fill="#1a1a1a" stroke="#1a1a1a" stroke-width="0.25">10</text>
<text x="663.8" y="291.37" font-size="7.6" text-anchor="middle" fill="#1a1a1a" stroke="#1a1a1a" stroke-width="0.25">100</text>
<text x="603.5" y="302.34" font-size="7.8" text-anchor="middle" fill="#1a1a1a" stroke="#1a1a1a" stroke-width="0.25">Compounds (μM)</text>
<text transform="translate(514.4 235.59) rotate(-90)" font-size="7.6" fill="#1a1a1a" stroke="#1a1a1a" stroke-width="0.25">I/I<tspan font-size="5.32" dy="1.9">max</tspan></text>
<path d="M541 191.97 L541.63 192.13 L542.27 192.3 L542.9 192.48 L543.53 192.67 L544.17 192.86 L544.8 193.06 L545.44 193.28 L546.07 193.5 L546.7 193.73 L547.34 193.98 L547.97 194.23 L548.6 194.49 L549.24 194.77 L549.87 195.06 L550.51 195.36 L551.14 195.67 L551.77 196 L552.41 196.34 L553.04 196.7 L553.67 197.07 L554.31 197.45 L554.94 197.85 L555.58 198.27 L556.21 198.7 L556.84 199.15 L557.48 199.62 L558.11 200.1 L558.74 200.61 L559.38 201.13 L560.01 201.67 L560.65 202.23 L561.28 202.81 L561.91 203.41 L562.55 204.03 L563.18 204.68 L563.81 205.34 L564.45 206.03 L565.08 206.73 L565.72 207.46 L566.35 208.21 L566.98 208.98 L567.62 209.78 L568.25 210.59 L568.88 211.43 L569.52 212.29 L570.15 213.17 L570.79 214.07 L571.42 214.99 L572.05 215.93 L572.69 216.89 L573.32 217.87 L573.95 218.87 L574.59 219.89 L575.22 220.93 L575.86 221.98 L576.49 223.05 L577.12 224.13 L577.76 225.22 L578.39 226.33 L579.02 227.45 L579.66 228.58 L580.29 229.72 L580.93 230.86 L581.56 232.01 L582.19 233.17 L582.83 234.33 L583.46 235.5 L584.09 236.66 L584.73 237.82 L585.36 238.99 L585.99 240.15 L586.63 241.3 L587.26 242.45 L587.9 243.59 L588.53 244.72 L589.16 245.85 L589.8 246.96 L590.43 248.06 L591.06 249.14 L591.7 250.22 L592.33 251.28 L592.97 252.32 L593.6 253.34 L594.23 254.35 L594.87 255.34 L595.5 256.31 L596.13 257.26 L596.77 258.19 L597.4 259.1 L598.04 259.98 L598.67 260.85 L599.3 261.7 L599.94 262.52 L600.57 263.32 L601.2 264.1 L601.84 264.86 L602.47 265.6 L603.11 266.31 L603.74 267.01 L604.37 267.68 L605.01 268.33 L605.64 268.96 L606.27 269.57 L606.91 270.16 L607.54 270.73 L608.18 271.27 L608.81 271.8 L609.44 272.31 L610.08 272.81 L610.71 273.28 L611.34 273.74 L611.98 274.18 L612.61 274.6 L613.25 275.01 L613.88 275.4 L614.51 275.77 L615.15 276.13 L615.78 276.48 L616.41 276.81 L617.05 277.13" stroke="#17936a" stroke-width="1.3" fill="none"/>
<line x1="541" y1="189.89" x2="541" y2="191.71" stroke="#17936a" stroke-width="0.6" stroke-opacity="0.5"/>
<line x1="539.8" y1="189.89" x2="542.2" y2="189.89" stroke="#17936a" stroke-width="0.6" stroke-opacity="0.5"/>
<line x1="539.8" y1="191.71" x2="542.2" y2="191.71" stroke="#17936a" stroke-width="0.6" stroke-opacity="0.5"/>
<rect x="538.8" y="188.6" width="4.4" height="4.4" rx="0" stroke="#17936a" stroke-width="1" fill="none"/>
<line x1="555.65" y1="194.45" x2="555.65" y2="205.39" stroke="#17936a" stroke-width="0.6" stroke-opacity="0.5"/>
<line x1="554.45" y1="194.45" x2="556.85" y2="194.45" stroke="#17936a" stroke-width="0.6" stroke-opacity="0.5"/>
<line x1="554.45" y1="205.39" x2="556.85" y2="205.39" stroke="#17936a" stroke-width="0.6" stroke-opacity="0.5"/>
<rect x="553.45" y="197.72" width="4.4" height="4.4" rx="0" stroke="#17936a" stroke-width="1" fill="none"/>
<line x1="571.7" y1="209.04" x2="571.7" y2="221.81" stroke="#17936a" stroke-width="0.6" stroke-opacity="0.5"/>
<line x1="570.5" y1="209.04" x2="572.9" y2="209.04" stroke="#17936a" stroke-width="0.6" stroke-opacity="0.5"/>
<line x1="570.5" y1="221.81" x2="572.9" y2="221.81" stroke="#17936a" stroke-width="0.6" stroke-opacity="0.5"/>
<rect x="569.5" y="213.22" width="4.4" height="4.4" rx="0" stroke="#17936a" stroke-width="1" fill="none"/>
<line x1="586.35" y1="237.59" x2="586.35" y2="241.23" stroke="#17936a" stroke-width="0.6" stroke-opacity="0.5"/>
<line x1="585.15" y1="237.59" x2="587.55" y2="237.59" stroke="#17936a" stroke-width="0.6" stroke-opacity="0.5"/>
<line x1="585.15" y1="241.23" x2="587.55" y2="241.23" stroke="#17936a" stroke-width="0.6" stroke-opacity="0.5"/>
<rect x="584.15" y="237.21" width="4.4" height="4.4" rx="0" stroke="#17936a" stroke-width="1" fill="none"/>
<line x1="602.4" y1="265.58" x2="602.4" y2="269.23" stroke="#17936a" stroke-width="0.6" stroke-opacity="0.5"/>
<line x1="601.2" y1="265.58" x2="603.6" y2="265.58" stroke="#17936a" stroke-width="0.6" stroke-opacity="0.5"/>
<line x1="601.2" y1="269.23" x2="603.6" y2="269.23" stroke="#17936a" stroke-width="0.6" stroke-opacity="0.5"/>
<rect x="600.2" y="265.21" width="4.4" height="4.4" rx="0" stroke="#17936a" stroke-width="1" fill="none"/>
<line x1="617.05" y1="275.25" x2="617.05" y2="277.08" stroke="#17936a" stroke-width="0.6" stroke-opacity="0.5"/>
<line x1="615.85" y1="275.25" x2="618.25" y2="275.25" stroke="#17936a" stroke-width="0.6" stroke-opacity="0.5"/>
<line x1="615.85" y1="277.08" x2="618.25" y2="277.08" stroke="#17936a" stroke-width="0.6" stroke-opacity="0.5"/>
<rect x="614.85" y="273.96" width="4.4" height="4.4" rx="0" stroke="#17936a" stroke-width="1" fill="none"/>
<path d="M586.35 190.16 L586.99 190.32 L587.64 190.49 L588.28 190.66 L588.93 190.84 L589.57 191.02 L590.22 191.21 L590.87 191.41 L591.51 191.61 L592.16 191.82 L592.8 192.03 L593.45 192.26 L594.09 192.48 L594.74 192.72 L595.38 192.96 L596.03 193.21 L596.67 193.47 L597.32 193.74 L597.97 194.01 L598.61 194.29 L599.26 194.58 L599.9 194.88 L600.55 195.19 L601.19 195.5 L601.84 195.83 L602.48 196.16 L603.13 196.51 L603.77 196.86 L604.42 197.22 L605.07 197.59 L605.71 197.97 L606.36 198.37 L607 198.77 L607.65 199.18 L608.29 199.6 L608.94 200.04 L609.58 200.48 L610.23 200.94 L610.87 201.4 L611.52 201.88 L612.17 202.37 L612.81 202.87 L613.46 203.38 L614.1 203.9 L614.75 204.43 L615.39 204.98 L616.04 205.53 L616.68 206.1 L617.33 206.68 L617.97 207.26 L618.62 207.86 L619.26 208.47 L619.91 209.1 L620.56 209.73 L621.2 210.37 L621.85 211.02 L622.49 211.69 L623.14 212.36 L623.78 213.05 L624.43 213.74 L625.07 214.44 L625.72 215.15 L626.36 215.87 L627.01 216.6 L627.66 217.34 L628.3 218.08 L628.95 218.84 L629.59 219.59 L630.24 220.36 L630.88 221.13 L631.53 221.91 L632.17 222.69 L632.82 223.48 L633.46 224.27 L634.11 225.07 L634.76 225.87 L635.4 226.67 L636.05 227.48 L636.69 228.29 L637.34 229.1 L637.98 229.91 L638.63 230.72 L639.27 231.53 L639.92 232.34 L640.56 233.15 L641.21 233.95 L641.86 234.76 L642.5 235.56 L643.15 236.36 L643.79 237.15 L644.44 237.94 L645.08 238.73 L645.73 239.51 L646.37 240.28 L647.02 241.05 L647.66 241.81 L648.31 242.57 L648.95 243.32 L649.6 244.06 L650.25 244.79 L650.89 245.52 L651.54 246.23 L652.18 246.94 L652.83 247.64 L653.47 248.33 L654.12 249.01 L654.76 249.67 L655.41 250.33 L656.05 250.98 L656.7 251.62 L657.35 252.24 L657.99 252.86 L658.64 253.47 L659.28 254.06 L659.93 254.64 L660.57 255.22 L661.22 255.78 L661.86 256.33 L662.51 256.86 L663.15 257.39 L663.8 257.91" stroke="#8b22f0" stroke-width="1.3" fill="none"/>
<circle cx="586.35" cy="190.8" r="2.5" stroke="#8b22f0" stroke-width="1.1" fill="none"/>
<circle cx="602.4" cy="195.36" r="2.5" stroke="#8b22f0" stroke-width="1.1" fill="none"/>
<circle cx="617.05" cy="205.76" r="2.5" stroke="#8b22f0" stroke-width="1.1" fill="none"/>
<circle cx="633.1" cy="225.64" r="2.5" stroke="#8b22f0" stroke-width="1.1" fill="none"/>
<circle cx="647.75" cy="240.41" r="2.5" stroke="#8b22f0" stroke-width="1.1" fill="none"/>
<circle cx="663.8" cy="258.38" r="2.5" stroke="#8b22f0" stroke-width="1.1" fill="none"/>
<rect x="546.2" y="175.7" width="4.4" height="4.4" rx="0" stroke="#17936a" stroke-width="1" fill="none"/>
<text x="559.2" y="180.53" font-size="7.8" text-anchor="start" fill="#1a1a1a" stroke="#1a1a1a" stroke-width="0.25">PSFL1191</text>
<circle cx="605.9" cy="178.3" r="2.5" stroke="#8b22f0" stroke-width="1.1" fill="none"/>
<text x="616.8" y="180.84" font-size="7.8" text-anchor="start" fill="#1a1a1a" stroke="#1a1a1a" stroke-width="0.25">PSFL1190</text>
<text x="86.9" y="333.7" font-size="8.3" text-anchor="middle" fill="#1a1a1a" stroke="#1a1a1a" stroke-width="0.25">hP2X7</text>
<text x="57.6" y="346.47" font-size="7" text-anchor="start" fill="#1f9a6c" stroke="#1f9a6c" stroke-width="0.25">1 μM PSFL1191</text>
<text x="106.2" y="353.17" font-size="7" text-anchor="start" fill="#1a1a1a" stroke="#1a1a1a" stroke-width="0.25">1 mM ATP</text>
<line x1="31" y1="362.6" x2="37.4" y2="362.6" stroke="#2a2a2a" stroke-width="0.9"/>
<line x1="37.4" y1="362.6" x2="37.4" y2="395" stroke="#9a9a9a" stroke-width="0.55"/>
<path d="M37.4 395 C37.9 398.25 41.9 400 47.4 400" stroke="#2a2a2a" stroke-width="0.9" fill="none"/>
<line x1="47.4" y1="400" x2="47.4" y2="364.6" stroke="#9a9a9a" stroke-width="0.55"/>
<line x1="47.4" y1="364.6" x2="58.3" y2="362.6" stroke="#2a2a2a" stroke-width="0.9"/>
<rect x="35.5" y="356.5" width="12" height="3" rx="0" stroke="#333" stroke-width="0.95" fill="#fff"/>
<line x1="60.8" y1="364.6" x2="62.14" y2="360.8" stroke="#3a3a3a" stroke-width="0.7"/>
<line x1="62.66" y1="364.6" x2="64" y2="360.8" stroke="#3a3a3a" stroke-width="0.7"/>
<line x1="33.5" y1="370.5" x2="88" y2="370.5" stroke="#999" stroke-width="0.6" stroke-dasharray="1.2 1"/>
<path d="M72 362.6 L76 362.8 L80 365.5 L85 368.5 L88.6 370 L89.3 371.6 L90.4 362.6 L101.7 362.3" stroke="#2a2a2a" stroke-width="0.8" fill="none"/>
<rect x="76.5" y="356.5" width="14" height="3" rx="0" stroke="#333" stroke-width="0.95" fill="#fff"/>
<rect x="66.3" y="350.9" width="23.8" height="3.2" rx="0" stroke="#3cb84a" stroke-width="1.05" fill="#fff"/>
<line x1="104.2" y1="364.6" x2="105.63" y2="360.8" stroke="#3a3a3a" stroke-width="0.7"/>
<line x1="106.17" y1="364.6" x2="107.6" y2="360.8" stroke="#3a3a3a" stroke-width="0.7"/>
<line x1="120.3" y1="362.6" x2="128.1" y2="362.6" stroke="#2a2a2a" stroke-width="0.9"/>
<line x1="128.1" y1="362.6" x2="128.1" y2="389" stroke="#9a9a9a" stroke-width="0.55"/>
<path d="M128.1 389 C128.66 394.85 133.19 398 139.4 398" stroke="#2a2a2a" stroke-width="0.9" fill="none"/>
<line x1="139.4" y1="398" x2="139.4" y2="362.4" stroke="#9a9a9a" stroke-width="0.55"/>
<path d="M139.4 362.4 L142.5 362.2 L143.5 363.8 L145.2 362" stroke="#2a2a2a" stroke-width="0.7" fill="none"/>
<rect x="128.5" y="356.5" width="12" height="3" rx="0" stroke="#333" stroke-width="0.95" fill="#fff"/>
<line x1="151.9" y1="386.4" x2="151.9" y2="406.1" stroke="#777" stroke-width="0.7"/>
<line x1="151.9" y1="406.1" x2="162.5" y2="406.1" stroke="#777" stroke-width="0.7"/>
<text transform="translate(144.19 396.2) rotate(90)" font-size="7" text-anchor="middle" fill="#1a1a1a" stroke="#1a1a1a" stroke-width="0.25">1 nA</text>
<text x="151.4" y="413.38" font-size="7" text-anchor="start" fill="#1a1a1a" stroke="#1a1a1a" stroke-width="0.25">2 min</text>
<text x="237.7" y="334.6" font-size="8.3" text-anchor="middle" fill="#1a1a1a" stroke="#1a1a1a" stroke-width="0.25">pdP2X7</text>
<text x="209.7" y="348.88" font-size="7" text-anchor="start" fill="#9a5832" stroke="#9a5832" stroke-width="0.25">30 μM PSFL1191</text>
<line x1="181.2" y1="361.8" x2="194.4" y2="361.8" stroke="#2a2a2a" stroke-width="0.9"/>
<line x1="194.4" y1="361.8" x2="194.4" y2="392" stroke="#9a9a9a" stroke-width="0.6"/>
<line x1="194.4" y1="392" x2="203.8" y2="393.5" stroke="#2a2a2a" stroke-width="1"/>
<line x1="203.8" y1="393.5" x2="203.8" y2="362.2" stroke="#9a9a9a" stroke-width="0.6"/>
<line x1="203.8" y1="362.2" x2="214.4" y2="361.8" stroke="#2a2a2a" stroke-width="0.9"/>
<rect x="194.5" y="356.5" width="9" height="4" rx="0" stroke="#333" stroke-width="0.95" fill="#fff"/>
<line x1="219" y1="364.4" x2="220.43" y2="359.9" stroke="#3a3a3a" stroke-width="0.7"/>
<line x1="220.97" y1="364.4" x2="222.4" y2="359.9" stroke="#3a3a3a" stroke-width="0.7"/>
<line x1="193.4" y1="366.5" x2="256.4" y2="366.5" stroke="#999" stroke-width="0.6" stroke-dasharray="1.2 1"/>
<line x1="227.2" y1="361.8" x2="242.3" y2="361.8" stroke="#2a2a2a" stroke-width="0.9"/>
<path d="M242.3 361.8 L243.5 366 L254.3 366.2 L254.8 361.8" stroke="#2a2a2a" stroke-width="0.8" fill="none"/>
<line x1="254.8" y1="361.8" x2="268.1" y2="361.8" stroke="#2a2a2a" stroke-width="0.9"/>
<rect x="242.5" y="356.5" width="12" height="4" rx="0" stroke="#333" stroke-width="0.95" fill="#fff"/>
<rect x="234.8" y="351.1" width="19.3" height="3.6" rx="0" stroke="#9a5832" stroke-width="1.05" fill="#fff"/>
<line x1="270.9" y1="364.4" x2="272.33" y2="359.9" stroke="#3a3a3a" stroke-width="0.7"/>
<line x1="272.87" y1="364.4" x2="274.3" y2="359.9" stroke="#3a3a3a" stroke-width="0.7"/>
<line x1="279.3" y1="361.8" x2="288.3" y2="361.8" stroke="#777" stroke-width="0.9"/>
<line x1="288.3" y1="361.8" x2="288.3" y2="379.5" stroke="#9a9a9a" stroke-width="0.55"/>
<path d="M288.3 379.5 C288.88 381.64 293.56 382.8 300 382.8" stroke="#2a2a2a" stroke-width="0.9" fill="none"/>
<line x1="300" y1="382.8" x2="300" y2="361.8" stroke="#9a9a9a" stroke-width="0.55"/>
<line x1="300" y1="361.8" x2="309" y2="361.8" stroke="#777" stroke-width="0.9"/>
<rect x="288.5" y="356.5" width="12" height="4" rx="0" stroke="#333" stroke-width="0.95" fill="#fff"/>
<line x1="276.3" y1="371.6" x2="276.3" y2="385.6" stroke="#777" stroke-width="0.7"/>
<text transform="translate(269.38 378.6) rotate(90)" font-size="7" text-anchor="middle" fill="#1a1a1a" stroke="#1a1a1a" stroke-width="0.25">2 nA</text>
<text x="87.2" y="409.6" font-size="8.3" text-anchor="middle" fill="#1a1a1a" stroke="#1a1a1a" stroke-width="0.25">mP2X7</text>
<text x="60.8" y="419.57" font-size="7" text-anchor="start" fill="#9a5832" stroke="#9a5832" stroke-width="0.25">30 μM PSFL1191</text>
<line x1="19.9" y1="433.4" x2="34" y2="433.4" stroke="#8a8a8a" stroke-width="0.6"/>
<line x1="34" y1="433.4" x2="34" y2="456.8" stroke="#aaa" stroke-width="0.5"/>
<line x1="34" y1="456.8" x2="46.2" y2="457.5" stroke="#666" stroke-width="0.6"/>
<line x1="46.2" y1="457.5" x2="46.2" y2="435" stroke="#aaa" stroke-width="0.5"/>
<line x1="46.2" y1="435" x2="55.1" y2="433.6" stroke="#8a8a8a" stroke-width="0.6"/>
<rect x="35.5" y="428.5" width="10" height="3" rx="0" stroke="#333" stroke-width="0.95" fill="#fff"/>
<line x1="60.8" y1="436.6" x2="62.31" y2="432.2" stroke="#3a3a3a" stroke-width="0.7"/>
<line x1="62.89" y1="436.6" x2="64.4" y2="432.2" stroke="#3a3a3a" stroke-width="0.7"/>
<line x1="47" y1="456.5" x2="96.8" y2="456.5" stroke="#999" stroke-width="0.6" stroke-dasharray="1.2 1"/>
<line x1="73.2" y1="434" x2="83.4" y2="434" stroke="#8a8a8a" stroke-width="0.6"/>
<line x1="83.4" y1="434" x2="83.4" y2="453.8" stroke="#aaa" stroke-width="0.5"/>
<line x1="83.4" y1="453.8" x2="99.2" y2="454.5" stroke="#666" stroke-width="0.6"/>
<line x1="99.2" y1="454.5" x2="99.2" y2="434" stroke="#aaa" stroke-width="0.5"/>
<line x1="99.2" y1="434" x2="106.7" y2="433.8" stroke="#8a8a8a" stroke-width="0.6"/>
<rect x="83.5" y="428.5" width="15" height="3" rx="0" stroke="#333" stroke-width="0.95" fill="#fff"/>
<rect x="74.9" y="422.8" width="23.9" height="3.4" rx="0" stroke="#9a5832" stroke-width="1.05" fill="#fff"/>
<line x1="109.6" y1="436.6" x2="111.2" y2="432.2" stroke="#3a3a3a" stroke-width="0.7"/>
<line x1="111.8" y1="436.6" x2="113.4" y2="432.2" stroke="#3a3a3a" stroke-width="0.7"/>
<line x1="116.6" y1="433.4" x2="127.6" y2="433.4" stroke="#8a8a8a" stroke-width="0.6"/>
<line x1="127.6" y1="433.4" x2="127.6" y2="451.3" stroke="#aaa" stroke-width="0.5"/>
<line x1="127.6" y1="451.3" x2="139.6" y2="451.8" stroke="#666" stroke-width="0.6"/>
<line x1="139.6" y1="451.8" x2="139.6" y2="433.4" stroke="#aaa" stroke-width="0.5"/>
<line x1="139.6" y1="433.4" x2="147.6" y2="433.4" stroke="#8a8a8a" stroke-width="0.6"/>
<rect x="127.5" y="428.5" width="12" height="3" rx="0" stroke="#333" stroke-width="0.95" fill="#fff"/>
<line x1="151.9" y1="449.6" x2="151.9" y2="464.4" stroke="#777" stroke-width="0.7"/>
<text transform="translate(144.19 457.6) rotate(90)" font-size="7" text-anchor="middle" fill="#1a1a1a" stroke="#1a1a1a" stroke-width="0.25">2 nA</text>
<text x="236" y="408.6" font-size="8.3" text-anchor="middle" fill="#1a1a1a" stroke="#1a1a1a" stroke-width="0.25">rP2X7</text>
<text x="206.9" y="420.27" font-size="7" text-anchor="start" fill="#9a5832" stroke="#9a5832" stroke-width="0.25">30 μM PSFL1191</text>
<line x1="174.7" y1="433.2" x2="191.8" y2="433.2" stroke="#8a8a8a" stroke-width="0.6"/>
<line x1="191.8" y1="433.2" x2="191.8" y2="461" stroke="#aaa" stroke-width="0.5"/>
<line x1="191.8" y1="461" x2="201.3" y2="459.6" stroke="#666" stroke-width="0.6"/>
<line x1="201.3" y1="459.6" x2="201.3" y2="433.2" stroke="#aaa" stroke-width="0.5"/>
<line x1="201.3" y1="433.2" x2="213.2" y2="433.2" stroke="#8a8a8a" stroke-width="0.6"/>
<rect x="191.5" y="428.5" width="10" height="4" rx="0" stroke="#333" stroke-width="0.95" fill="#fff"/>
<line x1="216.7" y1="436" x2="218.17" y2="431.5" stroke="#3a3a3a" stroke-width="0.7"/>
<line x1="218.73" y1="436" x2="220.2" y2="431.5" stroke="#3a3a3a" stroke-width="0.7"/>
<line x1="193.4" y1="456.5" x2="247.1" y2="456.5" stroke="#999" stroke-width="0.6" stroke-dasharray="1.2 1"/>
<line x1="229.6" y1="433.2" x2="236.3" y2="433.2" stroke="#8a8a8a" stroke-width="0.6"/>
<line x1="236.3" y1="433.2" x2="236.3" y2="455.8" stroke="#aaa" stroke-width="0.5"/>
<line x1="236.3" y1="455.8" x2="245.3" y2="455" stroke="#666" stroke-width="0.6"/>
<line x1="245.3" y1="455" x2="245.3" y2="433.2" stroke="#aaa" stroke-width="0.5"/>
<line x1="245.3" y1="433.2" x2="254.1" y2="433.2" stroke="#8a8a8a" stroke-width="0.6"/>
<rect x="236.5" y="428.5" width="9" height="4" rx="0" stroke="#333" stroke-width="0.95" fill="#fff"/>
<rect x="228.9" y="423.2" width="15.4" height="3" rx="0" stroke="#9a5832" stroke-width="1.05" fill="#fff"/>
<line x1="263" y1="436" x2="264.47" y2="431.5" stroke="#3a3a3a" stroke-width="0.7"/>
<line x1="265.03" y1="436" x2="266.5" y2="431.5" stroke="#3a3a3a" stroke-width="0.7"/>
<line x1="270.5" y1="433.2" x2="283.5" y2="433.2" stroke="#8a8a8a" stroke-width="0.6"/>
<line x1="283.5" y1="433.2" x2="283.5" y2="453" stroke="#aaa" stroke-width="0.5"/>
<line x1="283.5" y1="453" x2="292.5" y2="452" stroke="#666" stroke-width="0.6"/>
<line x1="292.5" y1="452" x2="292.5" y2="433.2" stroke="#aaa" stroke-width="0.5"/>
<line x1="292.5" y1="433.2" x2="306.7" y2="433.2" stroke="#8a8a8a" stroke-width="0.6"/>
<rect x="283.5" y="427.5" width="9" height="4" rx="0" stroke="#333" stroke-width="0.95" fill="#fff"/>
<line x1="276.3" y1="453.1" x2="276.3" y2="465.9" stroke="#777" stroke-width="0.7"/>
<text transform="translate(269.69 459.5) rotate(90)" font-size="7" text-anchor="middle" fill="#1a1a1a" stroke="#1a1a1a" stroke-width="0.25">2 nA</text>
<rect x="361.7" y="325.6" width="149.3" height="120.6" rx="0" stroke="#3a3a3a" stroke-width="1.1" fill="none"/>
<line x1="358.7" y1="445.4" x2="361.7" y2="445.4" stroke="#3a3a3a" stroke-width="0.9"/>
<line x1="358.7" y1="425.4" x2="361.7" y2="425.4" stroke="#3a3a3a" stroke-width="0.9"/>
<line x1="358.7" y1="405.4" x2="361.7" y2="405.4" stroke="#3a3a3a" stroke-width="0.9"/>
<line x1="358.7" y1="385.4" x2="361.7" y2="385.4" stroke="#3a3a3a" stroke-width="0.9"/>
<line x1="358.7" y1="365.4" x2="361.7" y2="365.4" stroke="#3a3a3a" stroke-width="0.9"/>
<line x1="358.7" y1="345.4" x2="361.7" y2="345.4" stroke="#3a3a3a" stroke-width="0.9"/>
<line x1="358.7" y1="325.4" x2="361.7" y2="325.4" stroke="#3a3a3a" stroke-width="0.9"/>
<line x1="360.1" y1="435.4" x2="361.7" y2="435.4" stroke="#3a3a3a" stroke-width="0.8"/>
<line x1="360.1" y1="415.4" x2="361.7" y2="415.4" stroke="#3a3a3a" stroke-width="0.8"/>
<line x1="360.1" y1="395.4" x2="361.7" y2="395.4" stroke="#3a3a3a" stroke-width="0.8"/>
<line x1="360.1" y1="375.4" x2="361.7" y2="375.4" stroke="#3a3a3a" stroke-width="0.8"/>
<line x1="360.1" y1="355.4" x2="361.7" y2="355.4" stroke="#3a3a3a" stroke-width="0.8"/>
<line x1="360.1" y1="335.4" x2="361.7" y2="335.4" stroke="#3a3a3a" stroke-width="0.8"/>
<line x1="364.67" y1="446.2" x2="364.67" y2="447.8" stroke="#3a3a3a" stroke-width="0.7"/>
<line x1="367" y1="446.2" x2="367" y2="447.8" stroke="#3a3a3a" stroke-width="0.7"/>
<line x1="369.01" y1="446.2" x2="369.01" y2="447.8" stroke="#3a3a3a" stroke-width="0.7"/>
<line x1="370.79" y1="446.2" x2="370.79" y2="447.8" stroke="#3a3a3a" stroke-width="0.7"/>
<line x1="372.38" y1="446.2" x2="372.38" y2="449.2" stroke="#3a3a3a" stroke-width="0.9"/>
<line x1="382.84" y1="446.2" x2="382.84" y2="447.8" stroke="#3a3a3a" stroke-width="0.7"/>
<line x1="388.96" y1="446.2" x2="388.96" y2="447.8" stroke="#3a3a3a" stroke-width="0.7"/>
<line x1="393.31" y1="446.2" x2="393.31" y2="447.8" stroke="#3a3a3a" stroke-width="0.7"/>
<line x1="396.68" y1="446.2" x2="396.68" y2="447.8" stroke="#3a3a3a" stroke-width="0.7"/>
<line x1="399.43" y1="446.2" x2="399.43" y2="447.8" stroke="#3a3a3a" stroke-width="0.7"/>
<line x1="401.76" y1="446.2" x2="401.76" y2="447.8" stroke="#3a3a3a" stroke-width="0.7"/>
<line x1="403.77" y1="446.2" x2="403.77" y2="447.8" stroke="#3a3a3a" stroke-width="0.7"/>
<line x1="405.55" y1="446.2" x2="405.55" y2="447.8" stroke="#3a3a3a" stroke-width="0.7"/>
<line x1="407.14" y1="446.2" x2="407.14" y2="449.2" stroke="#3a3a3a" stroke-width="0.9"/>
<line x1="417.6" y1="446.2" x2="417.6" y2="447.8" stroke="#3a3a3a" stroke-width="0.7"/>
<line x1="423.72" y1="446.2" x2="423.72" y2="447.8" stroke="#3a3a3a" stroke-width="0.7"/>
<line x1="428.07" y1="446.2" x2="428.07" y2="447.8" stroke="#3a3a3a" stroke-width="0.7"/>
<line x1="431.44" y1="446.2" x2="431.44" y2="447.8" stroke="#3a3a3a" stroke-width="0.7"/>
<line x1="434.19" y1="446.2" x2="434.19" y2="447.8" stroke="#3a3a3a" stroke-width="0.7"/>
<line x1="436.52" y1="446.2" x2="436.52" y2="447.8" stroke="#3a3a3a" stroke-width="0.7"/>
<line x1="438.53" y1="446.2" x2="438.53" y2="447.8" stroke="#3a3a3a" stroke-width="0.7"/>
<line x1="440.31" y1="446.2" x2="440.31" y2="447.8" stroke="#3a3a3a" stroke-width="0.7"/>
<line x1="441.9" y1="446.2" x2="441.9" y2="449.2" stroke="#3a3a3a" stroke-width="0.9"/>
<line x1="452.36" y1="446.2" x2="452.36" y2="447.8" stroke="#3a3a3a" stroke-width="0.7"/>
<line x1="458.48" y1="446.2" x2="458.48" y2="447.8" stroke="#3a3a3a" stroke-width="0.7"/>
<line x1="462.83" y1="446.2" x2="462.83" y2="447.8" stroke="#3a3a3a" stroke-width="0.7"/>
<line x1="466.2" y1="446.2" x2="466.2" y2="447.8" stroke="#3a3a3a" stroke-width="0.7"/>
<line x1="468.95" y1="446.2" x2="468.95" y2="447.8" stroke="#3a3a3a" stroke-width="0.7"/>
<line x1="471.28" y1="446.2" x2="471.28" y2="447.8" stroke="#3a3a3a" stroke-width="0.7"/>
<line x1="473.29" y1="446.2" x2="473.29" y2="447.8" stroke="#3a3a3a" stroke-width="0.7"/>
<line x1="475.07" y1="446.2" x2="475.07" y2="447.8" stroke="#3a3a3a" stroke-width="0.7"/>
<line x1="476.66" y1="446.2" x2="476.66" y2="449.2" stroke="#3a3a3a" stroke-width="0.9"/>
<line x1="487.12" y1="446.2" x2="487.12" y2="447.8" stroke="#3a3a3a" stroke-width="0.7"/>
<line x1="493.24" y1="446.2" x2="493.24" y2="447.8" stroke="#3a3a3a" stroke-width="0.7"/>
<line x1="497.59" y1="446.2" x2="497.59" y2="447.8" stroke="#3a3a3a" stroke-width="0.7"/>
<line x1="500.96" y1="446.2" x2="500.96" y2="447.8" stroke="#3a3a3a" stroke-width="0.7"/>
<line x1="503.71" y1="446.2" x2="503.71" y2="447.8" stroke="#3a3a3a" stroke-width="0.7"/>
<line x1="506.04" y1="446.2" x2="506.04" y2="447.8" stroke="#3a3a3a" stroke-width="0.7"/>
<line x1="508.05" y1="446.2" x2="508.05" y2="447.8" stroke="#3a3a3a" stroke-width="0.7"/>
<line x1="509.83" y1="446.2" x2="509.83" y2="447.8" stroke="#3a3a3a" stroke-width="0.7"/>
<line x1="511.42" y1="446.2" x2="511.42" y2="449.2" stroke="#3a3a3a" stroke-width="0.9"/>
<text x="357.4" y="447.94" font-size="7.8" text-anchor="end" fill="#1a1a1a" stroke="#1a1a1a" stroke-width="0.25">0.0</text>
<text x="357.4" y="427.94" font-size="7.8" text-anchor="end" fill="#1a1a1a" stroke="#1a1a1a" stroke-width="0.25">0.2</text>
<text x="357.4" y="407.94" font-size="7.8" text-anchor="end" fill="#1a1a1a" stroke="#1a1a1a" stroke-width="0.25">0.4</text>
<text x="357.4" y="387.94" font-size="7.8" text-anchor="end" fill="#1a1a1a" stroke="#1a1a1a" stroke-width="0.25">0.6</text>
<text x="357.4" y="367.94" font-size="7.8" text-anchor="end" fill="#1a1a1a" stroke="#1a1a1a" stroke-width="0.25">0.8</text>
<text x="357.4" y="347.94" font-size="7.8" text-anchor="end" fill="#1a1a1a" stroke="#1a1a1a" stroke-width="0.25">1.0</text>
<text x="357.4" y="327.94" font-size="7.8" text-anchor="end" fill="#1a1a1a" stroke="#1a1a1a" stroke-width="0.25">1.2</text>
<text x="372.38" y="455.74" font-size="7.8" text-anchor="middle" fill="#1a1a1a" stroke="#1a1a1a" stroke-width="0.25">0.01</text>
<text x="407.14" y="455.74" font-size="7.8" text-anchor="middle" fill="#1a1a1a" stroke="#1a1a1a" stroke-width="0.25">0.1</text>
<text x="441.9" y="455.74" font-size="7.8" text-anchor="middle" fill="#1a1a1a" stroke="#1a1a1a" stroke-width="0.25">1</text>
<text x="476.66" y="455.74" font-size="7.8" text-anchor="middle" fill="#1a1a1a" stroke="#1a1a1a" stroke-width="0.25">10</text>
<text x="511.42" y="455.74" font-size="7.8" text-anchor="middle" fill="#1a1a1a" stroke="#1a1a1a" stroke-width="0.25">100</text>
<text x="433.5" y="465.67" font-size="8.2" text-anchor="middle" fill="#1a1a1a" stroke="#1a1a1a" stroke-width="0.25">PSFL1191 (μM)</text>
<text transform="translate(341 394.33) rotate(-90)" font-size="8" fill="#1a1a1a" stroke="#1a1a1a" stroke-width="0.25">I/I<tspan font-size="5.6" dy="2">Max</tspan></text>
<path d="M372.38 346.69 L373.1 346.87 L373.82 347.06 L374.53 347.25 L375.25 347.46 L375.97 347.67 L376.69 347.9 L377.4 348.13 L378.12 348.38 L378.84 348.63 L379.56 348.9 L380.27 349.18 L380.99 349.47 L381.71 349.77 L382.43 350.09 L383.14 350.42 L383.86 350.76 L384.58 351.12 L385.3 351.49 L386.01 351.88 L386.73 352.29 L387.45 352.71 L388.17 353.15 L388.88 353.6 L389.6 354.08 L390.32 354.57 L391.04 355.08 L391.75 355.61 L392.47 356.16 L393.19 356.73 L393.91 357.32 L394.62 357.93 L395.34 358.57 L396.06 359.22 L396.78 359.9 L397.49 360.6 L398.21 361.33 L398.93 362.08 L399.65 362.85 L400.36 363.64 L401.08 364.46 L401.8 365.3 L402.52 366.17 L403.23 367.05 L403.95 367.97 L404.67 368.9 L405.39 369.86 L406.1 370.85 L406.82 371.85 L407.54 372.88 L408.26 373.93 L408.97 375 L409.69 376.09 L410.41 377.2 L411.13 378.32 L411.84 379.47 L412.56 380.63 L413.28 381.81 L414 383.01 L414.71 384.22 L415.43 385.44 L416.15 386.67 L416.87 387.91 L417.58 389.17 L418.3 390.42 L419.02 391.69 L419.74 392.96 L420.46 394.23 L421.17 395.5 L421.89 396.77 L422.61 398.05 L423.33 399.31 L424.04 400.58 L424.76 401.84 L425.48 403.09 L426.2 404.33 L426.91 405.56 L427.63 406.78 L428.35 407.99 L429.07 409.18 L429.78 410.36 L430.5 411.53 L431.22 412.67 L431.94 413.8 L432.65 414.91 L433.37 416 L434.09 417.06 L434.81 418.11 L435.52 419.14 L436.24 420.14 L436.96 421.12 L437.68 422.08 L438.39 423.02 L439.11 423.93 L439.83 424.81 L440.55 425.68 L441.26 426.52 L441.98 427.34 L442.7 428.13 L443.42 428.9 L444.13 429.64 L444.85 430.37 L445.57 431.07 L446.29 431.74 L447 432.4 L447.72 433.03 L448.44 433.64 L449.16 434.23 L449.87 434.8 L450.59 435.35 L451.31 435.88 L452.03 436.39 L452.74 436.88 L453.46 437.36 L454.18 437.81 L454.9 438.25 L455.61 438.67 L456.33 439.07 L457.05 439.46 L457.77 439.83 L458.48 440.19" stroke="#22e0ef" stroke-width="1.3" fill="none"/>
<line x1="372.38" y1="344.4" x2="372.38" y2="346.4" stroke="#22e0ef" stroke-width="0.6" stroke-opacity="0.6"/>
<line x1="371.18" y1="344.4" x2="373.58" y2="344.4" stroke="#22e0ef" stroke-width="0.6" stroke-opacity="0.6"/>
<line x1="371.18" y1="346.4" x2="373.58" y2="346.4" stroke="#22e0ef" stroke-width="0.6" stroke-opacity="0.6"/>
<rect x="370.18" y="343.2" width="4.4" height="4.4" rx="0" stroke="#22e0ef" stroke-width="1" fill="none"/>
<line x1="388.96" y1="349.4" x2="388.96" y2="361.4" stroke="#22e0ef" stroke-width="0.6" stroke-opacity="0.6"/>
<line x1="387.76" y1="349.4" x2="390.16" y2="349.4" stroke="#22e0ef" stroke-width="0.6" stroke-opacity="0.6"/>
<line x1="387.76" y1="361.4" x2="390.16" y2="361.4" stroke="#22e0ef" stroke-width="0.6" stroke-opacity="0.6"/>
<rect x="386.76" y="353.2" width="4.4" height="4.4" rx="0" stroke="#22e0ef" stroke-width="1" fill="none"/>
<line x1="407.14" y1="364.4" x2="407.14" y2="380.4" stroke="#22e0ef" stroke-width="0.6" stroke-opacity="0.6"/>
<line x1="405.94" y1="364.4" x2="408.34" y2="364.4" stroke="#22e0ef" stroke-width="0.6" stroke-opacity="0.6"/>
<line x1="405.94" y1="380.4" x2="408.34" y2="380.4" stroke="#22e0ef" stroke-width="0.6" stroke-opacity="0.6"/>
<rect x="404.94" y="370.2" width="4.4" height="4.4" rx="0" stroke="#22e0ef" stroke-width="1" fill="none"/>
<line x1="423.72" y1="396.4" x2="423.72" y2="400.4" stroke="#22e0ef" stroke-width="0.6" stroke-opacity="0.6"/>
<line x1="422.52" y1="396.4" x2="424.92" y2="396.4" stroke="#22e0ef" stroke-width="0.6" stroke-opacity="0.6"/>
<line x1="422.52" y1="400.4" x2="424.92" y2="400.4" stroke="#22e0ef" stroke-width="0.6" stroke-opacity="0.6"/>
<rect x="421.52" y="396.2" width="4.4" height="4.4" rx="0" stroke="#22e0ef" stroke-width="1" fill="none"/>
<line x1="441.9" y1="427.4" x2="441.9" y2="431.4" stroke="#22e0ef" stroke-width="0.6" stroke-opacity="0.6"/>
<line x1="440.7" y1="427.4" x2="443.1" y2="427.4" stroke="#22e0ef" stroke-width="0.6" stroke-opacity="0.6"/>
<line x1="440.7" y1="431.4" x2="443.1" y2="431.4" stroke="#22e0ef" stroke-width="0.6" stroke-opacity="0.6"/>
<rect x="439.7" y="427.2" width="4.4" height="4.4" rx="0" stroke="#22e0ef" stroke-width="1" fill="none"/>
<line x1="458.48" y1="438.1" x2="458.48" y2="440.1" stroke="#22e0ef" stroke-width="0.6" stroke-opacity="0.6"/>
<line x1="457.28" y1="438.1" x2="459.68" y2="438.1" stroke="#22e0ef" stroke-width="0.6" stroke-opacity="0.6"/>
<line x1="457.28" y1="440.1" x2="459.68" y2="440.1" stroke="#22e0ef" stroke-width="0.6" stroke-opacity="0.6"/>
<rect x="456.28" y="436.9" width="4.4" height="4.4" rx="0" stroke="#22e0ef" stroke-width="1" fill="none"/>
<path d="M407.14 345.63 L407.86 345.95 L408.58 346.29 L409.29 346.66 L410.01 347.04 L410.73 347.44 L411.45 347.87 L412.16 348.32 L412.88 348.79 L413.6 349.29 L414.32 349.82 L415.03 350.37 L415.75 350.95 L416.47 351.55 L417.19 352.19 L417.9 352.86 L418.62 353.55 L419.34 354.28 L420.06 355.04 L420.77 355.83 L421.49 356.66 L422.21 357.52 L422.93 358.41 L423.64 359.34 L424.36 360.3 L425.08 361.29 L425.8 362.32 L426.51 363.38 L427.23 364.47 L427.95 365.59 L428.67 366.74 L429.38 367.91 L430.1 369.12 L430.82 370.35 L431.54 371.6 L432.25 372.88 L432.97 374.17 L433.69 375.49 L434.41 376.81 L435.12 378.15 L435.84 379.5 L436.56 380.85 L437.28 382.21 L437.99 383.58 L438.71 384.94 L439.43 386.29 L440.15 387.64 L440.86 388.98 L441.58 390.31 L442.3 391.62 L443.02 392.92 L443.73 394.2 L444.45 395.45 L445.17 396.68 L445.89 397.89 L446.6 399.07 L447.32 400.22 L448.04 401.35 L448.76 402.44 L449.47 403.5 L450.19 404.53 L450.91 405.52 L451.63 406.48 L452.34 407.41 L453.06 408.31 L453.78 409.17 L454.5 410 L455.22 410.79 L455.93 411.56 L456.65 412.29 L457.37 412.99 L458.09 413.66 L458.8 414.3 L459.52 414.91 L460.24 415.49 L460.96 416.04 L461.67 416.57 L462.39 417.07 L463.11 417.54 L463.83 417.99 L464.54 418.42 L465.26 418.83 L465.98 419.21 L466.7 419.58 L467.41 419.92 L468.13 420.25 L468.85 420.56 L469.57 420.85 L470.28 421.12 L471 421.38 L471.72 421.63 L472.44 421.86 L473.15 422.08 L473.87 422.28 L474.59 422.48 L475.31 422.66 L476.02 422.83 L476.74 423 L477.46 423.15 L478.18 423.29 L478.89 423.43 L479.61 423.56 L480.33 423.68 L481.05 423.79 L481.76 423.9 L482.48 423.99 L483.2 424.09 L483.92 424.18 L484.63 424.26 L485.35 424.34 L486.07 424.41 L486.79 424.48 L487.5 424.54 L488.22 424.61 L488.94 424.66 L489.66 424.72 L490.37 424.77 L491.09 424.81 L491.81 424.86 L492.53 424.9 L493.24 424.94" stroke="#1c1f8c" stroke-width="1.3" fill="none"/>
<line x1="407.14" y1="344.4" x2="407.14" y2="346.4" stroke="#1c1f8c" stroke-width="0.6" stroke-opacity="0.6"/>
<line x1="405.94" y1="344.4" x2="408.34" y2="344.4" stroke="#1c1f8c" stroke-width="0.6" stroke-opacity="0.6"/>
<line x1="405.94" y1="346.4" x2="408.34" y2="346.4" stroke="#1c1f8c" stroke-width="0.6" stroke-opacity="0.6"/>
<circle cx="407.14" cy="345.4" r="2.5" stroke="#1c1f8c" stroke-width="1.1" fill="none"/>
<line x1="423.72" y1="354.9" x2="423.72" y2="364.9" stroke="#1c1f8c" stroke-width="0.6" stroke-opacity="0.6"/>
<line x1="422.52" y1="354.9" x2="424.92" y2="354.9" stroke="#1c1f8c" stroke-width="0.6" stroke-opacity="0.6"/>
<line x1="422.52" y1="364.9" x2="424.92" y2="364.9" stroke="#1c1f8c" stroke-width="0.6" stroke-opacity="0.6"/>
<circle cx="423.72" cy="359.9" r="2.5" stroke="#1c1f8c" stroke-width="1.1" fill="none"/>
<line x1="441.9" y1="384.4" x2="441.9" y2="396.4" stroke="#1c1f8c" stroke-width="0.6" stroke-opacity="0.6"/>
<line x1="440.7" y1="384.4" x2="443.1" y2="384.4" stroke="#1c1f8c" stroke-width="0.6" stroke-opacity="0.6"/>
<line x1="440.7" y1="396.4" x2="443.1" y2="396.4" stroke="#1c1f8c" stroke-width="0.6" stroke-opacity="0.6"/>
<circle cx="441.9" cy="390.4" r="2.5" stroke="#1c1f8c" stroke-width="1.1" fill="none"/>
<line x1="458.48" y1="409.4" x2="458.48" y2="419.4" stroke="#1c1f8c" stroke-width="0.6" stroke-opacity="0.6"/>
<line x1="457.28" y1="409.4" x2="459.68" y2="409.4" stroke="#1c1f8c" stroke-width="0.6" stroke-opacity="0.6"/>
<line x1="457.28" y1="419.4" x2="459.68" y2="419.4" stroke="#1c1f8c" stroke-width="0.6" stroke-opacity="0.6"/>
<circle cx="458.48" cy="414.4" r="2.5" stroke="#1c1f8c" stroke-width="1.1" fill="none"/>
<line x1="476.66" y1="416.4" x2="476.66" y2="430.4" stroke="#1c1f8c" stroke-width="0.6" stroke-opacity="0.6"/>
<line x1="475.46" y1="416.4" x2="477.86" y2="416.4" stroke="#1c1f8c" stroke-width="0.6" stroke-opacity="0.6"/>
<line x1="475.46" y1="430.4" x2="477.86" y2="430.4" stroke="#1c1f8c" stroke-width="0.6" stroke-opacity="0.6"/>
<circle cx="476.66" cy="423.4" r="2.5" stroke="#1c1f8c" stroke-width="1.1" fill="none"/>
<line x1="493.24" y1="423.4" x2="493.24" y2="425.4" stroke="#1c1f8c" stroke-width="0.6" stroke-opacity="0.6"/>
<line x1="492.04" y1="423.4" x2="494.44" y2="423.4" stroke="#1c1f8c" stroke-width="0.6" stroke-opacity="0.6"/>
<line x1="492.04" y1="425.4" x2="494.44" y2="425.4" stroke="#1c1f8c" stroke-width="0.6" stroke-opacity="0.6"/>
<circle cx="493.24" cy="424.4" r="2.5" stroke="#1c1f8c" stroke-width="1.1" fill="none"/>
<path d="M493.24 353.22 L495.79 348.58 L490.7 348.58 Z" stroke="#f020e8" stroke-width="1" fill="none"/>
<path d="M493.24 355.58 L495.79 360.21 L490.7 360.21 Z" stroke="#22c41e" stroke-width="1" fill="none"/>
<rect x="372" y="399.4" width="4.4" height="4.4" rx="0" stroke="#22e0ef" stroke-width="1" fill="none"/>
<text x="385.6" y="404.2" font-size="8" text-anchor="start" fill="#1a1a1a" stroke="#1a1a1a" stroke-width="0.25">hP2X7</text>
<circle cx="374.2" cy="411.35" r="2.4" stroke="#1c1f8c" stroke-width="1" fill="none"/>
<text x="385.6" y="413.95" font-size="8" text-anchor="start" fill="#1a1a1a" stroke="#1a1a1a" stroke-width="0.25">pdP2X7</text>
<path d="M374.2 418.28 L376.74 422.92 L371.66 422.92 Z" stroke="#22c41e" stroke-width="1" fill="none"/>
<text x="385.6" y="423.7" font-size="8" text-anchor="start" fill="#1a1a1a" stroke="#1a1a1a" stroke-width="0.25">mP2X7</text>
<path d="M374.2 433.67 L376.74 429.04 L371.66 429.04 Z" stroke="#f020e8" stroke-width="1" fill="none"/>
<text x="385.6" y="433.45" font-size="8" text-anchor="start" fill="#1a1a1a" stroke="#1a1a1a" stroke-width="0.25">rP2X7</text>
<rect x="541.9" y="326" width="136.7" height="120.4" rx="0" stroke="#3a3a3a" stroke-width="1.1" fill="none"/>
<line x1="538.9" y1="446.4" x2="541.9" y2="446.4" stroke="#3a3a3a" stroke-width="0.9"/>
<line x1="538.9" y1="429.12" x2="541.9" y2="429.12" stroke="#3a3a3a" stroke-width="0.9"/>
<line x1="538.9" y1="411.84" x2="541.9" y2="411.84" stroke="#3a3a3a" stroke-width="0.9"/>
<line x1="538.9" y1="394.56" x2="541.9" y2="394.56" stroke="#3a3a3a" stroke-width="0.9"/>
<line x1="538.9" y1="377.28" x2="541.9" y2="377.28" stroke="#3a3a3a" stroke-width="0.9"/>
<line x1="538.9" y1="360" x2="541.9" y2="360" stroke="#3a3a3a" stroke-width="0.9"/>
<line x1="538.9" y1="342.72" x2="541.9" y2="342.72" stroke="#3a3a3a" stroke-width="0.9"/>
<line x1="538.9" y1="325.44" x2="541.9" y2="325.44" stroke="#3a3a3a" stroke-width="0.9"/>
<line x1="540.3" y1="437.76" x2="541.9" y2="437.76" stroke="#3a3a3a" stroke-width="0.8"/>
<line x1="540.3" y1="420.48" x2="541.9" y2="420.48" stroke="#3a3a3a" stroke-width="0.8"/>
<line x1="540.3" y1="403.2" x2="541.9" y2="403.2" stroke="#3a3a3a" stroke-width="0.8"/>
<line x1="540.3" y1="385.92" x2="541.9" y2="385.92" stroke="#3a3a3a" stroke-width="0.8"/>
<line x1="540.3" y1="368.64" x2="541.9" y2="368.64" stroke="#3a3a3a" stroke-width="0.8"/>
<line x1="540.3" y1="351.36" x2="541.9" y2="351.36" stroke="#3a3a3a" stroke-width="0.8"/>
<line x1="540.3" y1="334.08" x2="541.9" y2="334.08" stroke="#3a3a3a" stroke-width="0.8"/>
<line x1="551.4" y1="446.4" x2="551.4" y2="449.4" stroke="#3a3a3a" stroke-width="0.9"/>
<line x1="560.91" y1="446.4" x2="560.91" y2="448" stroke="#3a3a3a" stroke-width="0.7"/>
<line x1="566.48" y1="446.4" x2="566.48" y2="448" stroke="#3a3a3a" stroke-width="0.7"/>
<line x1="570.43" y1="446.4" x2="570.43" y2="448" stroke="#3a3a3a" stroke-width="0.7"/>
<line x1="573.49" y1="446.4" x2="573.49" y2="448" stroke="#3a3a3a" stroke-width="0.7"/>
<line x1="575.99" y1="446.4" x2="575.99" y2="448" stroke="#3a3a3a" stroke-width="0.7"/>
<line x1="578.11" y1="446.4" x2="578.11" y2="448" stroke="#3a3a3a" stroke-width="0.7"/>
<line x1="579.94" y1="446.4" x2="579.94" y2="448" stroke="#3a3a3a" stroke-width="0.7"/>
<line x1="581.55" y1="446.4" x2="581.55" y2="448" stroke="#3a3a3a" stroke-width="0.7"/>
<line x1="583" y1="446.4" x2="583" y2="449.4" stroke="#3a3a3a" stroke-width="0.9"/>
<line x1="592.51" y1="446.4" x2="592.51" y2="448" stroke="#3a3a3a" stroke-width="0.7"/>
<line x1="598.08" y1="446.4" x2="598.08" y2="448" stroke="#3a3a3a" stroke-width="0.7"/>
<line x1="602.03" y1="446.4" x2="602.03" y2="448" stroke="#3a3a3a" stroke-width="0.7"/>
<line x1="605.09" y1="446.4" x2="605.09" y2="448" stroke="#3a3a3a" stroke-width="0.7"/>
<line x1="607.59" y1="446.4" x2="607.59" y2="448" stroke="#3a3a3a" stroke-width="0.7"/>
<line x1="609.71" y1="446.4" x2="609.71" y2="448" stroke="#3a3a3a" stroke-width="0.7"/>
<line x1="611.54" y1="446.4" x2="611.54" y2="448" stroke="#3a3a3a" stroke-width="0.7"/>
<line x1="613.15" y1="446.4" x2="613.15" y2="448" stroke="#3a3a3a" stroke-width="0.7"/>
<line x1="614.6" y1="446.4" x2="614.6" y2="449.4" stroke="#3a3a3a" stroke-width="0.9"/>
<line x1="624.11" y1="446.4" x2="624.11" y2="448" stroke="#3a3a3a" stroke-width="0.7"/>
<line x1="629.68" y1="446.4" x2="629.68" y2="448" stroke="#3a3a3a" stroke-width="0.7"/>
<line x1="633.63" y1="446.4" x2="633.63" y2="448" stroke="#3a3a3a" stroke-width="0.7"/>
<line x1="636.69" y1="446.4" x2="636.69" y2="448" stroke="#3a3a3a" stroke-width="0.7"/>
<line x1="639.19" y1="446.4" x2="639.19" y2="448" stroke="#3a3a3a" stroke-width="0.7"/>
<line x1="641.31" y1="446.4" x2="641.31" y2="448" stroke="#3a3a3a" stroke-width="0.7"/>
<line x1="643.14" y1="446.4" x2="643.14" y2="448" stroke="#3a3a3a" stroke-width="0.7"/>
<line x1="644.75" y1="446.4" x2="644.75" y2="448" stroke="#3a3a3a" stroke-width="0.7"/>
<line x1="646.2" y1="446.4" x2="646.2" y2="449.4" stroke="#3a3a3a" stroke-width="0.9"/>
<line x1="655.71" y1="446.4" x2="655.71" y2="448" stroke="#3a3a3a" stroke-width="0.7"/>
<line x1="661.28" y1="446.4" x2="661.28" y2="448" stroke="#3a3a3a" stroke-width="0.7"/>
<line x1="665.23" y1="446.4" x2="665.23" y2="448" stroke="#3a3a3a" stroke-width="0.7"/>
<line x1="668.29" y1="446.4" x2="668.29" y2="448" stroke="#3a3a3a" stroke-width="0.7"/>
<line x1="670.79" y1="446.4" x2="670.79" y2="448" stroke="#3a3a3a" stroke-width="0.7"/>
<line x1="672.91" y1="446.4" x2="672.91" y2="448" stroke="#3a3a3a" stroke-width="0.7"/>
<line x1="674.74" y1="446.4" x2="674.74" y2="448" stroke="#3a3a3a" stroke-width="0.7"/>
<line x1="676.35" y1="446.4" x2="676.35" y2="448" stroke="#3a3a3a" stroke-width="0.7"/>
<line x1="677.8" y1="446.4" x2="677.8" y2="449.4" stroke="#3a3a3a" stroke-width="0.9"/>
<text x="537.4" y="448.94" font-size="7.8" text-anchor="end" fill="#1a1a1a" stroke="#1a1a1a" stroke-width="0.25">0.0</text>
<text x="537.4" y="431.66" font-size="7.8" text-anchor="end" fill="#1a1a1a" stroke="#1a1a1a" stroke-width="0.25">0.2</text>
<text x="537.4" y="414.38" font-size="7.8" text-anchor="end" fill="#1a1a1a" stroke="#1a1a1a" stroke-width="0.25">0.4</text>
<text x="537.4" y="397.09" font-size="7.8" text-anchor="end" fill="#1a1a1a" stroke="#1a1a1a" stroke-width="0.25">0.6</text>
<text x="537.4" y="379.81" font-size="7.8" text-anchor="end" fill="#1a1a1a" stroke="#1a1a1a" stroke-width="0.25">0.8</text>
<text x="537.4" y="362.54" font-size="7.8" text-anchor="end" fill="#1a1a1a" stroke="#1a1a1a" stroke-width="0.25">1.0</text>
<text x="537.4" y="345.25" font-size="7.8" text-anchor="end" fill="#1a1a1a" stroke="#1a1a1a" stroke-width="0.25">1.2</text>
<text x="537.4" y="327.98" font-size="7.8" text-anchor="end" fill="#1a1a1a" stroke="#1a1a1a" stroke-width="0.25">1.4</text>
<text x="551.4" y="455.74" font-size="7.8" text-anchor="middle" fill="#1a1a1a" stroke="#1a1a1a" stroke-width="0.25">0.01</text>
<text x="583" y="455.74" font-size="7.8" text-anchor="middle" fill="#1a1a1a" stroke="#1a1a1a" stroke-width="0.25">0.1</text>
<text x="614.6" y="455.74" font-size="7.8" text-anchor="middle" fill="#1a1a1a" stroke="#1a1a1a" stroke-width="0.25">1</text>
<text x="646.2" y="455.74" font-size="7.8" text-anchor="middle" fill="#1a1a1a" stroke="#1a1a1a" stroke-width="0.25">10</text>
<text x="677.8" y="455.74" font-size="7.8" text-anchor="middle" fill="#1a1a1a" stroke="#1a1a1a" stroke-width="0.25">100</text>
<text x="610.3" y="465.67" font-size="8.2" text-anchor="middle" fill="#1a1a1a" stroke="#1a1a1a" stroke-width="0.25">PSFL1191 (μM)</text>
<text transform="translate(521 394.03) rotate(-90)" font-size="8" fill="#1a1a1a" stroke="#1a1a1a" stroke-width="0.25">I/I<tspan font-size="5.6" dy="2">Max</tspan></text>
<path d="M551.4 360.52 L552.05 360.68 L552.7 360.84 L553.36 361.01 L554.01 361.19 L554.66 361.37 L555.31 361.57 L555.97 361.77 L556.62 361.98 L557.27 362.2 L557.92 362.43 L558.58 362.67 L559.23 362.92 L559.88 363.19 L560.53 363.46 L561.18 363.75 L561.84 364.04 L562.49 364.35 L563.14 364.68 L563.79 365.01 L564.45 365.36 L565.1 365.73 L565.75 366.11 L566.4 366.5 L567.06 366.91 L567.71 367.34 L568.36 367.78 L569.01 368.24 L569.66 368.72 L570.32 369.21 L570.97 369.72 L571.62 370.25 L572.27 370.8 L572.93 371.37 L573.58 371.96 L574.23 372.56 L574.88 373.19 L575.54 373.84 L576.19 374.51 L576.84 375.19 L577.49 375.9 L578.14 376.63 L578.8 377.38 L579.45 378.15 L580.1 378.94 L580.75 379.75 L581.41 380.58 L582.06 381.43 L582.71 382.3 L583.36 383.19 L584.02 384.1 L584.67 385.02 L585.32 385.97 L585.97 386.93 L586.62 387.9 L587.28 388.89 L587.93 389.9 L588.58 390.92 L589.23 391.95 L589.89 393 L590.54 394.05 L591.19 395.12 L591.84 396.19 L592.5 397.27 L593.15 398.36 L593.8 399.45 L594.45 400.55 L595.1 401.65 L595.76 402.75 L596.41 403.84 L597.06 404.94 L597.71 406.04 L598.37 407.13 L599.02 408.21 L599.67 409.29 L600.32 410.36 L600.98 411.42 L601.63 412.47 L602.28 413.51 L602.93 414.54 L603.58 415.55 L604.24 416.55 L604.89 417.54 L605.54 418.51 L606.19 419.46 L606.85 420.4 L607.5 421.32 L608.15 422.22 L608.8 423.1 L609.46 423.96 L610.11 424.8 L610.76 425.63 L611.41 426.43 L612.06 427.21 L612.72 427.97 L613.37 428.71 L614.02 429.43 L614.67 430.13 L615.33 430.81 L615.98 431.47 L616.63 432.11 L617.28 432.73 L617.94 433.33 L618.59 433.91 L619.24 434.47 L619.89 435.01 L620.54 435.53 L621.2 436.03 L621.85 436.52 L622.5 436.99 L623.15 437.44 L623.81 437.88 L624.46 438.3 L625.11 438.7 L625.76 439.09 L626.42 439.46 L627.07 439.82 L627.72 440.17 L628.37 440.5 L629.02 440.82 L629.68 441.12" stroke="#333" stroke-width="1.1" fill="none"/>
<line x1="551.4" y1="358.62" x2="551.4" y2="360.35" stroke="#888" stroke-width="0.6" stroke-opacity="0.7"/>
<line x1="550.2" y1="358.62" x2="552.6" y2="358.62" stroke="#888" stroke-width="0.6" stroke-opacity="0.7"/>
<line x1="550.2" y1="360.35" x2="552.6" y2="360.35" stroke="#888" stroke-width="0.6" stroke-opacity="0.7"/>
<rect x="549.55" y="357.63" width="3.7" height="3.7" rx="0" stroke="#444" stroke-width="0.95" fill="none"/>
<line x1="566.48" y1="363.72" x2="566.48" y2="372.36" stroke="#888" stroke-width="0.6" stroke-opacity="0.7"/>
<line x1="565.28" y1="363.72" x2="567.68" y2="363.72" stroke="#888" stroke-width="0.6" stroke-opacity="0.7"/>
<line x1="565.28" y1="372.36" x2="567.68" y2="372.36" stroke="#888" stroke-width="0.6" stroke-opacity="0.7"/>
<rect x="564.63" y="366.19" width="3.7" height="3.7" rx="0" stroke="#444" stroke-width="0.95" fill="none"/>
<line x1="583" y1="375.64" x2="583" y2="389.46" stroke="#888" stroke-width="0.6" stroke-opacity="0.7"/>
<line x1="581.8" y1="375.64" x2="584.2" y2="375.64" stroke="#888" stroke-width="0.6" stroke-opacity="0.7"/>
<line x1="581.8" y1="389.46" x2="584.2" y2="389.46" stroke="#888" stroke-width="0.6" stroke-opacity="0.7"/>
<rect x="581.15" y="380.7" width="3.7" height="3.7" rx="0" stroke="#444" stroke-width="0.95" fill="none"/>
<line x1="598.08" y1="403.89" x2="598.08" y2="407.35" stroke="#888" stroke-width="0.6" stroke-opacity="0.7"/>
<line x1="596.88" y1="403.89" x2="599.28" y2="403.89" stroke="#888" stroke-width="0.6" stroke-opacity="0.7"/>
<line x1="596.88" y1="407.35" x2="599.28" y2="407.35" stroke="#888" stroke-width="0.6" stroke-opacity="0.7"/>
<rect x="596.23" y="403.77" width="3.7" height="3.7" rx="0" stroke="#444" stroke-width="0.95" fill="none"/>
<line x1="614.6" y1="429.81" x2="614.6" y2="433.27" stroke="#888" stroke-width="0.6" stroke-opacity="0.7"/>
<line x1="613.4" y1="429.81" x2="615.8" y2="429.81" stroke="#888" stroke-width="0.6" stroke-opacity="0.7"/>
<line x1="613.4" y1="433.27" x2="615.8" y2="433.27" stroke="#888" stroke-width="0.6" stroke-opacity="0.7"/>
<rect x="612.75" y="429.69" width="3.7" height="3.7" rx="0" stroke="#444" stroke-width="0.95" fill="none"/>
<line x1="629.68" y1="439.49" x2="629.68" y2="441.22" stroke="#888" stroke-width="0.6" stroke-opacity="0.7"/>
<line x1="628.48" y1="439.49" x2="630.88" y2="439.49" stroke="#888" stroke-width="0.6" stroke-opacity="0.7"/>
<line x1="628.48" y1="441.22" x2="630.88" y2="441.22" stroke="#888" stroke-width="0.6" stroke-opacity="0.7"/>
<rect x="627.83" y="438.5" width="3.7" height="3.7" rx="0" stroke="#444" stroke-width="0.95" fill="none"/>
<line x1="661.28" y1="337.54" x2="661.28" y2="351.36" stroke="#a070e0" stroke-width="0.6" stroke-opacity="0.7"/>
<line x1="660.08" y1="337.54" x2="662.48" y2="337.54" stroke="#a070e0" stroke-width="0.6" stroke-opacity="0.7"/>
<line x1="660.08" y1="351.36" x2="662.48" y2="351.36" stroke="#a070e0" stroke-width="0.6" stroke-opacity="0.7"/>
<path d="M661.28 342.25 L663.9 344.88 L661.28 347.5 L658.65 344.88 Z" stroke="#a070e0" stroke-width="1" fill="none"/>
<path d="M661.28 349.51 L663.7 353.96 L658.85 353.96 Z" stroke="#2f6fe0" stroke-width="1" fill="none"/>
<line x1="661.28" y1="357.41" x2="661.28" y2="368.64" stroke="#e8363a" stroke-width="0.6" stroke-opacity="0.6"/>
<line x1="660.08" y1="357.41" x2="662.48" y2="357.41" stroke="#e8363a" stroke-width="0.6" stroke-opacity="0.6"/>
<line x1="660.08" y1="368.64" x2="662.48" y2="368.64" stroke="#e8363a" stroke-width="0.6" stroke-opacity="0.6"/>
<circle cx="661.28" cy="362.85" r="2.3" stroke="#e8363a" stroke-width="1" fill="none"/>
<line x1="661.28" y1="372.96" x2="661.28" y2="383.33" stroke="#2a9a5a" stroke-width="0.6" stroke-opacity="0.6"/>
<line x1="660.08" y1="372.96" x2="662.48" y2="372.96" stroke="#2a9a5a" stroke-width="0.6" stroke-opacity="0.6"/>
<line x1="660.08" y1="383.33" x2="662.48" y2="383.33" stroke="#2a9a5a" stroke-width="0.6" stroke-opacity="0.6"/>
<path d="M661.28 380.85 L663.7 376.41 L658.85 376.41 Z" stroke="#2a9a5a" stroke-width="1" fill="none"/>
<circle cx="551.4" cy="395" r="2.3" stroke="#e8363a" stroke-width="0.9" fill="none"/>
<text x="563.8" y="397.6" font-size="8" text-anchor="start" fill="#1a1a1a" stroke="#1a1a1a" stroke-width="0.25">hP2X1</text>
<path d="M551.4 402.14 L553.83 406.58 L548.97 406.58 Z" stroke="#2f6fe0" stroke-width="0.9" fill="none"/>
<text x="563.8" y="407.45" font-size="8" text-anchor="start" fill="#1a1a1a" stroke="#1a1a1a" stroke-width="0.25">hP2X2</text>
<path d="M551.4 417.41 L553.83 412.97 L548.97 412.97 Z" stroke="#2a9a5a" stroke-width="0.9" fill="none"/>
<text x="563.8" y="417.3" font-size="8" text-anchor="start" fill="#1a1a1a" stroke="#1a1a1a" stroke-width="0.25">hP2X3</text>
<path d="M551.4 421.93 L554.02 424.55 L551.4 427.18 L548.77 424.55 Z" stroke="#a070e0" stroke-width="0.9" fill="none"/>
<text x="563.8" y="427.15" font-size="8" text-anchor="start" fill="#1a1a1a" stroke="#1a1a1a" stroke-width="0.25">hP2X4</text>
<rect x="549.3" y="432.3" width="4.2" height="4.2" rx="0" stroke="#444" stroke-width="0.9" fill="none"/>
<text x="563.8" y="437" font-size="8" text-anchor="start" fill="#1a1a1a" stroke="#1a1a1a" stroke-width="0.25">hP2X7</text>
</svg>
</body></html>
